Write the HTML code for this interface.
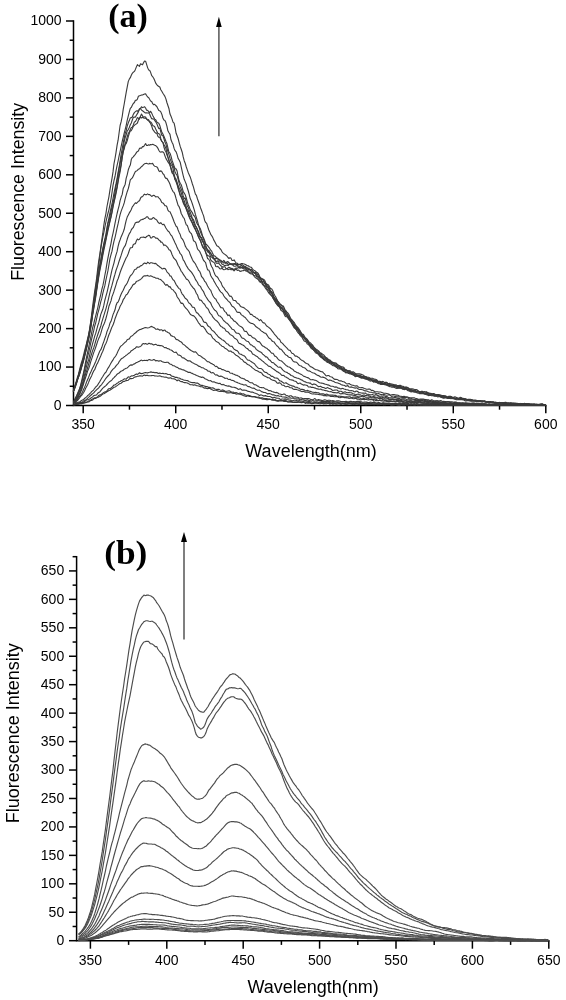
<!DOCTYPE html>
<html><head><meta charset="utf-8"><style>
html,body{margin:0;padding:0;background:#fff;}
body{width:566px;height:1000px;overflow:hidden;}
svg{display:block;will-change:transform;}
</style></head><body>
<svg width="566" height="1000" viewBox="0 0 566 1000">
<line x1="73.5" y1="20.25" x2="73.5" y2="405.50" stroke="#000" stroke-width="1.5" fill="none"/>
<line x1="72.75" y1="405.50" x2="546.55" y2="405.50" stroke="#000" stroke-width="1.5" fill="none"/>
<line x1="66.00" y1="405.50" x2="73.5" y2="405.50" stroke="#000" stroke-width="1.5" fill="none"/>
<text x="61.6" y="409.90" text-anchor="end" font-size="14" font-family='"Liberation Sans", sans-serif'>0</text>
<line x1="69.70" y1="386.27" x2="73.5" y2="386.27" stroke="#000" stroke-width="1.5" fill="none"/>
<line x1="66.00" y1="367.05" x2="73.5" y2="367.05" stroke="#000" stroke-width="1.5" fill="none"/>
<text x="61.6" y="371.45" text-anchor="end" font-size="14" font-family='"Liberation Sans", sans-serif'>100</text>
<line x1="69.70" y1="347.82" x2="73.5" y2="347.82" stroke="#000" stroke-width="1.5" fill="none"/>
<line x1="66.00" y1="328.60" x2="73.5" y2="328.60" stroke="#000" stroke-width="1.5" fill="none"/>
<text x="61.6" y="333.00" text-anchor="end" font-size="14" font-family='"Liberation Sans", sans-serif'>200</text>
<line x1="69.70" y1="309.38" x2="73.5" y2="309.38" stroke="#000" stroke-width="1.5" fill="none"/>
<line x1="66.00" y1="290.15" x2="73.5" y2="290.15" stroke="#000" stroke-width="1.5" fill="none"/>
<text x="61.6" y="294.55" text-anchor="end" font-size="14" font-family='"Liberation Sans", sans-serif'>300</text>
<line x1="69.70" y1="270.92" x2="73.5" y2="270.92" stroke="#000" stroke-width="1.5" fill="none"/>
<line x1="66.00" y1="251.70" x2="73.5" y2="251.70" stroke="#000" stroke-width="1.5" fill="none"/>
<text x="61.6" y="256.10" text-anchor="end" font-size="14" font-family='"Liberation Sans", sans-serif'>400</text>
<line x1="69.70" y1="232.47" x2="73.5" y2="232.47" stroke="#000" stroke-width="1.5" fill="none"/>
<line x1="66.00" y1="213.25" x2="73.5" y2="213.25" stroke="#000" stroke-width="1.5" fill="none"/>
<text x="61.6" y="217.65" text-anchor="end" font-size="14" font-family='"Liberation Sans", sans-serif'>500</text>
<line x1="69.70" y1="194.03" x2="73.5" y2="194.03" stroke="#000" stroke-width="1.5" fill="none"/>
<line x1="66.00" y1="174.80" x2="73.5" y2="174.80" stroke="#000" stroke-width="1.5" fill="none"/>
<text x="61.6" y="179.20" text-anchor="end" font-size="14" font-family='"Liberation Sans", sans-serif'>600</text>
<line x1="69.70" y1="155.57" x2="73.5" y2="155.57" stroke="#000" stroke-width="1.5" fill="none"/>
<line x1="66.00" y1="136.35" x2="73.5" y2="136.35" stroke="#000" stroke-width="1.5" fill="none"/>
<text x="61.6" y="140.75" text-anchor="end" font-size="14" font-family='"Liberation Sans", sans-serif'>700</text>
<line x1="69.70" y1="117.12" x2="73.5" y2="117.12" stroke="#000" stroke-width="1.5" fill="none"/>
<line x1="66.00" y1="97.90" x2="73.5" y2="97.90" stroke="#000" stroke-width="1.5" fill="none"/>
<text x="61.6" y="102.30" text-anchor="end" font-size="14" font-family='"Liberation Sans", sans-serif'>800</text>
<line x1="69.70" y1="78.68" x2="73.5" y2="78.68" stroke="#000" stroke-width="1.5" fill="none"/>
<line x1="66.00" y1="59.45" x2="73.5" y2="59.45" stroke="#000" stroke-width="1.5" fill="none"/>
<text x="61.6" y="63.85" text-anchor="end" font-size="14" font-family='"Liberation Sans", sans-serif'>900</text>
<line x1="69.70" y1="40.22" x2="73.5" y2="40.22" stroke="#000" stroke-width="1.5" fill="none"/>
<line x1="66.00" y1="21.00" x2="73.5" y2="21.00" stroke="#000" stroke-width="1.5" fill="none"/>
<text x="61.6" y="25.40" text-anchor="end" font-size="14" font-family='"Liberation Sans", sans-serif'>1000</text>
<line x1="83.20" y1="405.50" x2="83.20" y2="413.30" stroke="#000" stroke-width="1.5" fill="none"/>
<text x="83.20" y="429.4" text-anchor="middle" font-size="14" font-family='"Liberation Sans", sans-serif'>350</text>
<line x1="129.46" y1="405.50" x2="129.46" y2="409.70" stroke="#000" stroke-width="1.5" fill="none"/>
<line x1="175.72" y1="405.50" x2="175.72" y2="413.30" stroke="#000" stroke-width="1.5" fill="none"/>
<text x="175.72" y="429.4" text-anchor="middle" font-size="14" font-family='"Liberation Sans", sans-serif'>400</text>
<line x1="221.98" y1="405.50" x2="221.98" y2="409.70" stroke="#000" stroke-width="1.5" fill="none"/>
<line x1="268.24" y1="405.50" x2="268.24" y2="413.30" stroke="#000" stroke-width="1.5" fill="none"/>
<text x="268.24" y="429.4" text-anchor="middle" font-size="14" font-family='"Liberation Sans", sans-serif'>450</text>
<line x1="314.50" y1="405.50" x2="314.50" y2="409.70" stroke="#000" stroke-width="1.5" fill="none"/>
<line x1="360.76" y1="405.50" x2="360.76" y2="413.30" stroke="#000" stroke-width="1.5" fill="none"/>
<text x="360.76" y="429.4" text-anchor="middle" font-size="14" font-family='"Liberation Sans", sans-serif'>500</text>
<line x1="407.02" y1="405.50" x2="407.02" y2="409.70" stroke="#000" stroke-width="1.5" fill="none"/>
<line x1="453.28" y1="405.50" x2="453.28" y2="413.30" stroke="#000" stroke-width="1.5" fill="none"/>
<text x="453.28" y="429.4" text-anchor="middle" font-size="14" font-family='"Liberation Sans", sans-serif'>550</text>
<line x1="499.54" y1="405.50" x2="499.54" y2="409.70" stroke="#000" stroke-width="1.5" fill="none"/>
<line x1="545.80" y1="405.50" x2="545.80" y2="413.30" stroke="#000" stroke-width="1.5" fill="none"/>
<text x="545.80" y="429.4" text-anchor="middle" font-size="14" font-family='"Liberation Sans", sans-serif'>600</text>
<text x="245.3" y="456.8" font-size="18" font-family='"Liberation Sans", sans-serif'>Wavelength(nm)</text>
<text transform="translate(23.9,280.8) rotate(-90)" font-size="17.8" font-family='"Liberation Sans", sans-serif'>Fluorescence Intensity</text>
<text x="108.3" y="26.5" font-size="33" transform="translate(108.3,0) scale(1.03,1) translate(-108.3,0)" font-weight="bold" font-family='"Liberation Serif", serif'>(a)</text>
<line x1="218.9" y1="26" x2="218.9" y2="136.3" stroke="#555" stroke-width="1.5"/>
<path d="M218.9 16.8 L221.7 27 L216.1 27 Z" fill="#000"/>
<line x1="76.6" y1="555.94" x2="76.6" y2="940.70" stroke="#000" stroke-width="1.5" fill="none"/>
<line x1="75.85" y1="940.70" x2="549.55" y2="940.70" stroke="#000" stroke-width="1.5" fill="none"/>
<line x1="69.00" y1="940.70" x2="76.6" y2="940.70" stroke="#000" stroke-width="1.5" fill="none"/>
<text x="64.2" y="945.10" text-anchor="end" font-size="14" font-family='"Liberation Sans", sans-serif'>0</text>
<line x1="72.60" y1="926.48" x2="76.6" y2="926.48" stroke="#000" stroke-width="1.5" fill="none"/>
<line x1="69.00" y1="912.25" x2="76.6" y2="912.25" stroke="#000" stroke-width="1.5" fill="none"/>
<text x="64.2" y="916.65" text-anchor="end" font-size="14" font-family='"Liberation Sans", sans-serif'>50</text>
<line x1="72.60" y1="898.03" x2="76.6" y2="898.03" stroke="#000" stroke-width="1.5" fill="none"/>
<line x1="69.00" y1="883.81" x2="76.6" y2="883.81" stroke="#000" stroke-width="1.5" fill="none"/>
<text x="64.2" y="888.21" text-anchor="end" font-size="14" font-family='"Liberation Sans", sans-serif'>100</text>
<line x1="72.60" y1="869.59" x2="76.6" y2="869.59" stroke="#000" stroke-width="1.5" fill="none"/>
<line x1="69.00" y1="855.37" x2="76.6" y2="855.37" stroke="#000" stroke-width="1.5" fill="none"/>
<text x="64.2" y="859.76" text-anchor="end" font-size="14" font-family='"Liberation Sans", sans-serif'>150</text>
<line x1="72.60" y1="841.14" x2="76.6" y2="841.14" stroke="#000" stroke-width="1.5" fill="none"/>
<line x1="69.00" y1="826.92" x2="76.6" y2="826.92" stroke="#000" stroke-width="1.5" fill="none"/>
<text x="64.2" y="831.32" text-anchor="end" font-size="14" font-family='"Liberation Sans", sans-serif'>200</text>
<line x1="72.60" y1="812.70" x2="76.6" y2="812.70" stroke="#000" stroke-width="1.5" fill="none"/>
<line x1="69.00" y1="798.48" x2="76.6" y2="798.48" stroke="#000" stroke-width="1.5" fill="none"/>
<text x="64.2" y="802.88" text-anchor="end" font-size="14" font-family='"Liberation Sans", sans-serif'>250</text>
<line x1="72.60" y1="784.25" x2="76.6" y2="784.25" stroke="#000" stroke-width="1.5" fill="none"/>
<line x1="69.00" y1="770.03" x2="76.6" y2="770.03" stroke="#000" stroke-width="1.5" fill="none"/>
<text x="64.2" y="774.43" text-anchor="end" font-size="14" font-family='"Liberation Sans", sans-serif'>300</text>
<line x1="72.60" y1="755.81" x2="76.6" y2="755.81" stroke="#000" stroke-width="1.5" fill="none"/>
<line x1="69.00" y1="741.59" x2="76.6" y2="741.59" stroke="#000" stroke-width="1.5" fill="none"/>
<text x="64.2" y="745.99" text-anchor="end" font-size="14" font-family='"Liberation Sans", sans-serif'>350</text>
<line x1="72.60" y1="727.36" x2="76.6" y2="727.36" stroke="#000" stroke-width="1.5" fill="none"/>
<line x1="69.00" y1="713.14" x2="76.6" y2="713.14" stroke="#000" stroke-width="1.5" fill="none"/>
<text x="64.2" y="717.54" text-anchor="end" font-size="14" font-family='"Liberation Sans", sans-serif'>400</text>
<line x1="72.60" y1="698.92" x2="76.6" y2="698.92" stroke="#000" stroke-width="1.5" fill="none"/>
<line x1="69.00" y1="684.70" x2="76.6" y2="684.70" stroke="#000" stroke-width="1.5" fill="none"/>
<text x="64.2" y="689.10" text-anchor="end" font-size="14" font-family='"Liberation Sans", sans-serif'>450</text>
<line x1="72.60" y1="670.47" x2="76.6" y2="670.47" stroke="#000" stroke-width="1.5" fill="none"/>
<line x1="69.00" y1="656.25" x2="76.6" y2="656.25" stroke="#000" stroke-width="1.5" fill="none"/>
<text x="64.2" y="660.65" text-anchor="end" font-size="14" font-family='"Liberation Sans", sans-serif'>500</text>
<line x1="72.60" y1="642.03" x2="76.6" y2="642.03" stroke="#000" stroke-width="1.5" fill="none"/>
<line x1="69.00" y1="627.81" x2="76.6" y2="627.81" stroke="#000" stroke-width="1.5" fill="none"/>
<text x="64.2" y="632.21" text-anchor="end" font-size="14" font-family='"Liberation Sans", sans-serif'>550</text>
<line x1="72.60" y1="613.58" x2="76.6" y2="613.58" stroke="#000" stroke-width="1.5" fill="none"/>
<line x1="69.00" y1="599.36" x2="76.6" y2="599.36" stroke="#000" stroke-width="1.5" fill="none"/>
<text x="64.2" y="603.76" text-anchor="end" font-size="14" font-family='"Liberation Sans", sans-serif'>600</text>
<line x1="72.60" y1="585.14" x2="76.6" y2="585.14" stroke="#000" stroke-width="1.5" fill="none"/>
<line x1="69.00" y1="570.92" x2="76.6" y2="570.92" stroke="#000" stroke-width="1.5" fill="none"/>
<text x="64.2" y="575.32" text-anchor="end" font-size="14" font-family='"Liberation Sans", sans-serif'>650</text>
<line x1="72.60" y1="556.69" x2="76.6" y2="556.69" stroke="#000" stroke-width="1.5" fill="none"/>
<line x1="90.40" y1="940.70" x2="90.40" y2="948.70" stroke="#000" stroke-width="1.5" fill="none"/>
<text x="90.40" y="964.8" text-anchor="middle" font-size="14" font-family='"Liberation Sans", sans-serif'>350</text>
<line x1="128.60" y1="940.70" x2="128.60" y2="944.90" stroke="#000" stroke-width="1.5" fill="none"/>
<line x1="166.80" y1="940.70" x2="166.80" y2="948.70" stroke="#000" stroke-width="1.5" fill="none"/>
<text x="166.80" y="964.8" text-anchor="middle" font-size="14" font-family='"Liberation Sans", sans-serif'>400</text>
<line x1="205.00" y1="940.70" x2="205.00" y2="944.90" stroke="#000" stroke-width="1.5" fill="none"/>
<line x1="243.20" y1="940.70" x2="243.20" y2="948.70" stroke="#000" stroke-width="1.5" fill="none"/>
<text x="243.20" y="964.8" text-anchor="middle" font-size="14" font-family='"Liberation Sans", sans-serif'>450</text>
<line x1="281.40" y1="940.70" x2="281.40" y2="944.90" stroke="#000" stroke-width="1.5" fill="none"/>
<line x1="319.60" y1="940.70" x2="319.60" y2="948.70" stroke="#000" stroke-width="1.5" fill="none"/>
<text x="319.60" y="964.8" text-anchor="middle" font-size="14" font-family='"Liberation Sans", sans-serif'>500</text>
<line x1="357.80" y1="940.70" x2="357.80" y2="944.90" stroke="#000" stroke-width="1.5" fill="none"/>
<line x1="396.00" y1="940.70" x2="396.00" y2="948.70" stroke="#000" stroke-width="1.5" fill="none"/>
<text x="396.00" y="964.8" text-anchor="middle" font-size="14" font-family='"Liberation Sans", sans-serif'>550</text>
<line x1="434.20" y1="940.70" x2="434.20" y2="944.90" stroke="#000" stroke-width="1.5" fill="none"/>
<line x1="472.40" y1="940.70" x2="472.40" y2="948.70" stroke="#000" stroke-width="1.5" fill="none"/>
<text x="472.40" y="964.8" text-anchor="middle" font-size="14" font-family='"Liberation Sans", sans-serif'>600</text>
<line x1="510.60" y1="940.70" x2="510.60" y2="944.90" stroke="#000" stroke-width="1.5" fill="none"/>
<line x1="548.80" y1="940.70" x2="548.80" y2="948.70" stroke="#000" stroke-width="1.5" fill="none"/>
<text x="548.80" y="964.8" text-anchor="middle" font-size="14" font-family='"Liberation Sans", sans-serif'>650</text>
<text x="247.4" y="992.6" font-size="18" font-family='"Liberation Sans", sans-serif'>Wavelength(nm)</text>
<text transform="translate(18.8,823.3) rotate(-90)" font-size="18" font-family='"Liberation Sans", sans-serif'>Fluorescence Intensity</text>
<text x="104.2" y="564" font-size="33" transform="translate(104.2,0) scale(1.07,1) translate(-104.2,0)" font-weight="bold" font-family='"Liberation Serif", serif'>(b)</text>
<line x1="184" y1="540" x2="184" y2="639.6" stroke="#555" stroke-width="1.5"/>
<path d="M184 532 L187 542 L181 542 Z" fill="#000"/>
<g fill="none" stroke="#3a3a3a" stroke-width="1.12" stroke-linejoin="round"><path d="M73.3 391.3 74.3 388.2 75.3 384.8 76.4 380.8 77.4 377.5 78.4 374.4 79.4 370.5 80.4 366.4 81.4 362.7 82.5 359.3 83.5 355.5 84.5 351.1 85.5 347.5 86.5 343.6 87.5 339.2 88.6 334.6 89.6 329.2 90.6 322.4 91.6 314.7 92.6 306.6 93.7 298.3 94.7 291.2 95.7 284.9 96.7 277.6 97.7 268.9 98.7 261.0 99.8 254.3 100.8 247.4 101.8 239.9 102.8 233.2 103.8 225.3 104.8 218.9 105.9 213.6 106.9 207.0 107.9 201.8 108.9 196.8 109.9 190.4 111.0 184.0 112.0 178.4 113.0 171.9 114.0 163.6 115.0 158.5 116.0 152.6 117.1 145.2 118.1 140.2 119.1 132.7 120.1 125.5 121.1 121.9 122.2 116.5 123.2 109.4 124.2 104.0 125.2 98.2 126.2 92.4 127.2 87.2 128.3 81.4 129.3 79.1 130.3 77.7 131.3 75.2 132.3 73.3 133.3 72.2 134.4 71.4 135.4 69.4 136.4 66.9 137.4 64.6 138.4 65.6 139.5 66.4 140.5 63.8 141.5 64.2 142.5 64.8 143.5 62.7 144.5 61.1 145.6 61.2 146.6 64.4 147.6 67.6 148.6 69.9 149.6 70.3 150.6 72.3 151.7 75.7 152.7 76.7 153.7 78.2 154.7 80.5 155.7 83.1 156.8 84.6 157.8 85.8 158.8 86.4 159.8 87.0 160.8 89.7 161.8 91.3 162.9 93.2 163.9 94.7 164.9 96.4 165.9 98.9 166.9 102.5 167.9 105.5 169.0 108.8 170.0 114.1 171.0 116.3 172.0 118.9 173.0 122.1 174.1 123.2 175.1 127.6 176.1 133.3 177.1 135.8 178.1 138.5 179.1 142.3 180.2 146.4 181.2 149.2 182.2 152.2 183.2 156.9 184.2 160.7 185.2 163.2 186.3 167.0 187.3 169.9 188.3 172.7 189.3 175.1 190.3 177.2 191.4 180.6 192.4 184.0 193.4 186.9 194.4 190.6 195.4 194.1 196.4 195.4 197.5 199.0 198.5 201.7 199.5 204.5 200.5 207.7 201.5 210.3 202.6 213.4 203.6 215.9 204.6 220.2 205.6 222.4 206.6 223.2 207.6 226.4 208.7 229.7 209.7 231.9 210.7 234.3 211.7 235.7 212.7 237.4 213.7 239.9 214.8 241.8 215.8 243.8 216.8 245.7 217.8 246.2 218.8 247.0 219.9 248.5 220.9 249.6 221.9 251.6 222.9 252.8 223.9 253.7 224.9 254.4 226.0 255.2 227.0 256.2 228.0 257.5 229.0 258.5 230.0 257.6 231.0 258.3 232.1 260.4 233.1 260.5 234.1 259.9 235.1 261.5 236.1 263.0 237.2 263.2 238.2 264.6 239.2 264.5 240.2 264.2 241.2 265.2 242.2 266.2 243.3 266.7 244.3 267.2 245.3 268.1 246.3 269.0 247.3 270.1 248.3 269.4 249.4 269.6 250.4 270.6 251.4 270.9 252.4 271.9 253.4 272.8 254.5 273.1 255.5 273.9 256.5 275.2 257.5 276.1 258.5 276.5 259.5 277.4 260.6 278.9 261.6 280.6 262.6 282.6 263.6 283.0 264.6 283.2 265.6 284.9 266.7 286.4 267.7 287.3 268.7 288.5 269.7 289.9 270.7 291.9 271.8 293.2 272.8 295.3 273.8 297.2 274.8 298.2 275.8 299.9 276.8 300.9 277.9 302.1 278.9 304.7 279.9 307.2 280.9 307.5 281.9 308.3 283.0 309.8 284.0 310.4 285.0 312.3 286.0 314.9 287.0 315.5 288.0 316.1 289.1 317.8 290.1 319.3 291.1 321.0 292.1 323.0 293.1 324.2 294.1 325.4 295.2 327.4 296.2 328.2 297.2 328.9 298.2 330.2 299.2 331.9 300.3 333.6 301.3 334.8 302.3 336.2 303.3 337.0 304.3 338.2 305.3 339.4 306.4 340.2 307.4 340.8 308.4 342.5 309.4 344.0 310.4 344.7 311.4 346.1 312.5 347.6 313.5 348.8 314.5 349.2 315.5 350.1 316.5 351.3 317.6 352.4 318.6 353.0 319.6 353.8 320.6 355.8 321.6 356.8 322.6 357.6 323.7 359.2 324.7 359.4 325.7 358.8 326.7 359.3 327.7 360.7 328.7 361.7 329.8 361.6 330.8 361.9 331.8 362.8 332.8 363.5 333.8 364.1 334.9 364.4 335.9 364.9 336.9 365.6 337.9 366.6 338.9 367.1 339.9 367.6 341.0 368.0 342.0 368.7 343.0 369.6 344.0 369.8 345.0 370.7 346.0 370.7 347.1 370.4 348.1 371.5 349.1 372.1 350.1 372.3 351.1 373.7 352.2 374.1 353.2 373.8 354.2 374.2 355.2 374.8 356.2 375.2 357.2 375.3 358.3 375.3 359.3 375.5 360.3 376.1 361.3 376.1 362.3 376.6 363.4 377.5 364.4 378.2 365.4 378.0 366.4 377.6 367.4 378.1 368.4 378.5 369.5 379.0 370.5 379.5 371.5 379.9 372.5 380.3 373.5 380.5 374.5 380.4 375.6 380.6 376.6 381.3 377.6 381.9 378.6 382.3 379.6 382.0 380.7 382.0 381.7 382.7 382.7 383.1 383.7 383.7 384.7 383.9 385.7 383.7 386.8 384.0 387.8 384.5 388.8 384.7 389.8 384.9 390.8 385.5 391.8 385.8 392.9 385.9 393.9 385.8 394.9 386.0 395.9 386.3 396.9 386.0 398.0 386.4 399.0 387.2 400.0 387.3 401.0 387.4 402.0 387.9 403.0 388.1 404.1 387.6 405.1 388.0 406.1 388.8 407.1 389.3 408.1 389.5 409.1 389.8 410.2 390.4 411.2 390.1 412.2 390.3 413.2 390.6 414.2 390.3 415.3 390.7 416.3 391.2 417.3 391.0 418.3 391.4 419.3 392.3 420.3 392.8 421.4 392.8 422.4 392.4 423.4 392.4 424.4 393.2 425.4 393.8 426.4 393.9 427.5 393.8 428.5 393.9 429.5 394.2 430.5 394.2 431.5 394.5 432.6 394.8 433.6 394.9 434.6 395.1 435.6 395.2 436.6 394.9 437.6 395.1 438.7 395.6 439.7 396.3 440.7 396.4 441.7 396.6 442.7 397.2 443.8 396.7 444.8 396.4 445.8 396.8 446.8 397.5 447.8 397.7 448.8 397.6 449.9 397.5 450.9 397.0 451.9 397.3 452.9 398.1 453.9 398.5 454.9 398.5 456.0 398.4 457.0 398.8 458.0 398.9 459.0 399.0 460.0 398.9 461.1 398.6 462.1 398.7 463.1 399.2 464.1 399.4 465.1 399.5 466.1 399.8 467.2 400.0 468.2 400.3 469.2 400.6 470.2 400.3 471.2 400.1 472.2 400.4 473.3 400.2 474.3 400.7 475.3 401.2 476.3 400.9 477.3 400.8 478.4 401.0 479.4 401.0 480.4 400.9 481.4 401.5 482.4 401.9 483.4 401.5 484.5 401.3 485.5 402.0 486.5 401.9 487.5 401.5 488.5 401.6 489.5 401.9 490.6 402.3 491.6 402.5 492.6 402.0 493.6 401.9 494.6 402.2 495.7 402.4 496.7 402.7 497.7 403.0 498.7 403.2 499.7 402.7 500.7 402.9 501.8 403.0 502.8 402.7 503.8 403.2 504.8 403.4 505.8 403.4 506.8 403.3 507.9 403.4 508.9 403.6 509.9 403.6 510.9 403.7 511.9 404.0 513.0 403.8 514.0 403.4 515.0 403.8 516.0 404.0 517.0 403.9 518.0 404.2 519.1 403.9 520.1 403.9 521.1 403.8 522.1 403.9 523.1 404.1 524.2 404.1 525.2 404.4 526.2 404.2 527.2 404.1 528.2 404.2 529.2 404.2 530.3 404.6 531.3 404.6 532.3 404.4 533.3 404.2 534.3 404.5 535.3 404.7 536.4 404.9 537.4 404.8 538.4 404.7 539.4 405.2 540.4 405.0 541.5 404.4 542.5 404.8 543.5 405.2 544.5 405.1 545.5 405.1"/><path d="M73.3 391.7 74.3 388.2 75.3 384.8 76.4 382.1 77.4 378.8 78.4 375.5 79.4 372.0 80.4 367.9 81.4 364.5 82.5 361.8 83.5 358.0 84.5 354.0 85.5 349.4 86.5 344.3 87.5 340.3 88.6 336.1 89.6 330.7 90.6 323.5 91.6 317.5 92.6 310.5 93.7 302.6 94.7 295.2 95.7 287.7 96.7 280.6 97.7 273.1 98.7 265.7 99.8 256.7 100.8 248.5 101.8 242.6 102.8 237.3 103.8 232.6 104.8 227.5 105.9 222.0 106.9 217.6 107.9 213.5 108.9 209.8 109.9 204.9 111.0 199.0 112.0 192.5 113.0 185.4 114.0 180.5 115.0 176.5 116.0 170.8 117.1 165.4 118.1 161.0 119.1 155.9 120.1 151.5 121.1 146.6 122.2 141.5 123.2 137.4 124.2 133.1 125.2 129.3 126.2 125.3 127.2 120.4 128.3 115.8 129.3 111.8 130.3 108.4 131.3 107.4 132.3 105.3 133.3 103.5 134.4 102.5 135.4 100.2 136.4 100.3 137.4 99.1 138.4 96.3 139.5 95.7 140.5 95.5 141.5 95.0 142.5 95.0 143.5 94.5 144.5 94.0 145.6 93.9 146.6 95.5 147.6 96.9 148.6 97.4 149.6 99.3 150.6 101.1 151.7 101.6 152.7 103.7 153.7 104.8 154.7 104.3 155.7 105.5 156.8 106.5 157.8 108.5 158.8 110.4 159.8 110.8 160.8 111.9 161.8 114.2 162.9 118.0 163.9 120.0 164.9 120.4 165.9 122.6 166.9 126.1 167.9 130.8 169.0 132.8 170.0 134.4 171.0 139.8 172.0 142.2 173.0 144.2 174.1 148.4 175.1 150.7 176.1 151.8 177.1 154.6 178.1 158.4 179.1 160.0 180.2 162.2 181.2 166.8 182.2 171.4 183.2 175.6 184.2 179.3 185.2 181.6 186.3 184.3 187.3 188.0 188.3 191.0 189.3 194.9 190.3 198.8 191.4 201.1 192.4 204.0 193.4 207.1 194.4 210.4 195.4 214.4 196.4 217.6 197.5 221.1 198.5 225.2 199.5 227.2 200.5 229.1 201.5 232.2 202.6 236.1 203.6 239.4 204.6 241.7 205.6 244.7 206.6 248.1 207.6 250.1 208.7 250.4 209.7 251.5 210.7 253.6 211.7 255.0 212.7 255.4 213.7 257.8 214.8 259.2 215.8 258.3 216.8 258.6 217.8 258.7 218.8 259.0 219.9 260.3 220.9 261.2 221.9 261.4 222.9 262.3 223.9 263.1 224.9 262.7 226.0 262.1 227.0 262.9 228.0 264.3 229.0 264.4 230.0 264.0 231.0 264.4 232.1 264.6 233.1 265.3 234.1 266.3 235.1 266.2 236.1 265.9 237.2 265.5 238.2 266.8 239.2 267.9 240.2 267.1 241.2 267.1 242.2 268.2 243.3 267.5 244.3 266.7 245.3 267.3 246.3 268.1 247.3 268.3 248.3 268.7 249.4 269.3 250.4 270.2 251.4 271.8 252.4 272.0 253.4 272.6 254.5 273.1 255.5 273.6 256.5 275.3 257.5 276.4 258.5 277.2 259.5 278.0 260.6 279.2 261.6 281.0 262.6 281.3 263.6 281.2 264.6 282.1 265.6 284.3 266.7 286.5 267.7 287.1 268.7 288.6 269.7 291.2 270.7 292.5 271.8 293.5 272.8 295.5 273.8 298.2 274.8 300.1 275.8 300.8 276.8 302.1 277.9 303.9 278.9 304.8 279.9 305.7 280.9 307.0 281.9 308.2 283.0 309.6 284.0 311.2 285.0 312.6 286.0 313.4 287.0 314.4 288.0 316.5 289.1 318.1 290.1 319.4 291.1 320.5 292.1 322.4 293.1 324.6 294.1 325.5 295.2 325.6 296.2 326.4 297.2 328.7 298.2 330.1 299.2 330.7 300.3 332.3 301.3 334.5 302.3 335.2 303.3 336.2 304.3 337.6 305.3 339.2 306.4 339.9 307.4 340.4 308.4 342.0 309.4 343.4 310.4 345.4 311.4 346.5 312.5 347.0 313.5 348.1 314.5 348.9 315.5 350.2 316.5 352.0 317.6 352.7 318.6 353.4 319.6 354.5 320.6 355.4 321.6 356.2 322.6 357.6 323.7 357.9 324.7 357.8 325.7 358.6 326.7 358.8 327.7 359.8 328.7 361.6 329.8 362.5 330.8 362.9 331.8 363.4 332.8 363.6 333.8 364.6 334.9 365.2 335.9 365.6 336.9 366.2 337.9 366.4 338.9 367.1 339.9 367.7 341.0 368.3 342.0 369.0 343.0 369.9 344.0 370.2 345.0 369.8 346.0 369.7 347.1 370.4 348.1 371.2 349.1 372.2 350.1 372.4 351.1 372.7 352.2 373.5 353.2 373.9 354.2 374.2 355.2 374.6 356.2 375.0 357.2 375.5 358.3 376.0 359.3 375.4 360.3 375.6 361.3 376.6 362.3 376.8 363.4 376.9 364.4 377.7 365.4 378.3 366.4 378.1 367.4 378.3 368.4 378.8 369.5 378.8 370.5 379.3 371.5 380.0 372.5 380.3 373.5 380.3 374.5 380.9 375.6 381.8 376.6 381.7 377.6 381.7 378.6 381.7 379.6 381.7 380.7 382.6 381.7 383.0 382.7 383.0 383.7 383.6 384.7 383.6 385.7 384.0 386.8 384.9 387.8 385.0 388.8 385.1 389.8 385.4 390.8 385.2 391.8 385.2 392.9 385.1 393.9 385.5 394.9 386.5 395.9 386.8 396.9 386.9 398.0 387.3 399.0 387.2 400.0 387.2 401.0 388.1 402.0 388.0 403.0 387.8 404.1 388.1 405.1 388.3 406.1 388.6 407.1 388.8 408.1 389.0 409.1 389.2 410.2 389.7 411.2 389.9 412.2 390.6 413.2 391.1 414.2 391.0 415.3 391.2 416.3 391.7 417.3 391.6 418.3 391.4 419.3 392.3 420.3 393.0 421.4 393.0 422.4 392.8 423.4 393.1 424.4 393.3 425.4 393.5 426.4 393.6 427.5 393.8 428.5 394.1 429.5 393.9 430.5 393.5 431.5 394.2 432.6 395.1 433.6 395.2 434.6 395.1 435.6 395.3 436.6 395.8 437.6 395.7 438.7 396.0 439.7 396.4 440.7 396.4 441.7 396.9 442.7 397.2 443.8 397.0 444.8 396.8 445.8 396.9 446.8 397.5 447.8 397.7 448.8 397.3 449.9 397.2 450.9 397.6 451.9 398.0 452.9 398.0 453.9 398.1 454.9 398.6 456.0 398.8 457.0 398.4 458.0 398.3 459.0 398.5 460.0 398.8 461.1 398.9 462.1 399.1 463.1 399.5 464.1 398.9 465.1 398.8 466.1 399.6 467.2 399.9 468.2 399.9 469.2 399.7 470.2 400.0 471.2 400.7 472.2 400.8 473.3 400.5 474.3 400.5 475.3 400.4 476.3 400.4 477.3 400.6 478.4 401.1 479.4 401.2 480.4 400.6 481.4 400.7 482.4 401.2 483.4 401.4 484.5 401.2 485.5 401.5 486.5 402.0 487.5 401.8 488.5 401.7 489.5 402.0 490.6 402.2 491.6 402.2 492.6 402.4 493.6 402.4 494.6 402.8 495.7 402.8 496.7 402.4 497.7 402.7 498.7 403.0 499.7 402.7 500.7 403.0 501.8 403.1 502.8 403.2 503.8 403.0 504.8 402.4 505.8 402.3 506.8 402.8 507.9 403.2 508.9 403.2 509.9 403.4 510.9 403.1 511.9 403.5 513.0 403.6 514.0 403.4 515.0 403.4 516.0 403.4 517.0 403.9 518.0 403.9 519.1 403.7 520.1 403.8 521.1 403.9 522.1 404.0 523.1 404.6 524.2 404.4 525.2 403.8 526.2 404.0 527.2 404.2 528.2 404.0 529.2 404.2 530.3 404.6 531.3 404.6 532.3 404.2 533.3 404.5 534.3 404.5 535.3 404.4 536.4 404.9 537.4 404.5 538.4 404.4 539.4 404.9 540.4 405.0 541.5 404.5 542.5 404.2 543.5 404.5 544.5 404.7 545.5 404.5"/><path d="M73.3 391.1 74.3 388.2 75.3 385.4 76.4 382.5 77.4 379.3 78.4 376.1 79.4 372.5 80.4 369.5 81.4 366.3 82.5 362.5 83.5 358.3 84.5 353.6 85.5 350.6 86.5 347.0 87.5 341.5 88.6 335.9 89.6 330.6 90.6 325.0 91.6 318.5 92.6 311.4 93.7 304.8 94.7 298.1 95.7 292.4 96.7 285.8 97.7 278.6 98.7 271.8 99.8 265.0 100.8 259.8 101.8 253.7 102.8 248.3 103.8 243.9 104.8 239.3 105.9 234.0 106.9 228.0 107.9 222.6 108.9 218.2 109.9 213.2 111.0 208.2 112.0 204.0 113.0 198.7 114.0 193.0 115.0 188.4 116.0 183.9 117.1 178.3 118.1 172.4 119.1 167.3 120.1 160.9 121.1 154.5 122.2 148.6 123.2 143.0 124.2 138.2 125.2 133.4 126.2 130.5 127.2 126.2 128.3 122.8 129.3 120.6 130.3 117.9 131.3 117.8 132.3 117.0 133.3 114.4 134.4 112.6 135.4 111.7 136.4 110.8 137.4 111.3 138.4 110.2 139.5 109.7 140.5 108.5 141.5 106.8 142.5 107.6 143.5 107.2 144.5 106.7 145.6 108.0 146.6 110.2 147.6 110.4 148.6 111.4 149.6 112.6 150.6 111.3 151.7 113.1 152.7 115.4 153.7 117.2 154.7 119.1 155.7 119.8 156.8 121.8 157.8 122.8 158.8 123.2 159.8 125.4 160.8 128.8 161.8 132.0 162.9 134.1 163.9 136.2 164.9 138.7 165.9 141.3 166.9 143.5 167.9 147.9 169.0 152.3 170.0 153.1 171.0 156.1 172.0 160.2 173.0 162.9 174.1 166.1 175.1 168.7 176.1 168.9 177.1 171.1 178.1 176.5 179.1 180.8 180.2 183.2 181.2 184.7 182.2 187.8 183.2 191.6 184.2 193.1 185.2 194.7 186.3 198.0 187.3 201.8 188.3 205.0 189.3 207.1 190.3 209.9 191.4 211.4 192.4 212.8 193.4 215.2 194.4 216.0 195.4 217.9 196.4 222.0 197.5 224.5 198.5 225.5 199.5 228.7 200.5 232.2 201.5 234.1 202.6 236.7 203.6 237.9 204.6 240.4 205.6 243.8 206.6 244.5 207.6 245.7 208.7 247.1 209.7 248.4 210.7 250.2 211.7 251.2 212.7 253.6 213.7 255.5 214.8 256.0 215.8 257.0 216.8 257.5 217.8 258.8 218.8 260.1 219.9 260.0 220.9 260.2 221.9 261.7 222.9 261.4 223.9 260.3 224.9 262.5 226.0 263.7 227.0 261.8 228.0 261.6 229.0 262.8 230.0 263.4 231.0 263.8 232.1 263.9 233.1 263.9 234.1 263.5 235.1 263.5 236.1 264.1 237.2 264.6 238.2 264.4 239.2 264.4 240.2 264.5 241.2 263.6 242.2 263.5 243.3 263.8 244.3 264.0 245.3 264.5 246.3 265.1 247.3 265.7 248.3 265.8 249.4 266.7 250.4 267.1 251.4 267.2 252.4 268.9 253.4 269.9 254.5 270.6 255.5 271.2 256.5 272.2 257.5 272.7 258.5 273.9 259.5 276.6 260.6 277.7 261.6 278.7 262.6 279.5 263.6 279.3 264.6 280.2 265.6 282.5 266.7 284.5 267.7 284.4 268.7 285.2 269.7 287.4 270.7 288.6 271.8 289.1 272.8 290.7 273.8 293.5 274.8 295.6 275.8 297.1 276.8 299.2 277.9 301.4 278.9 302.4 279.9 303.6 280.9 304.8 281.9 305.5 283.0 305.7 284.0 307.4 285.0 309.8 286.0 310.9 287.0 312.1 288.0 313.1 289.1 314.9 290.1 317.2 291.1 319.1 292.1 320.6 293.1 321.3 294.1 322.3 295.2 324.3 296.2 325.9 297.2 326.8 298.2 327.8 299.2 329.4 300.3 331.0 301.3 332.7 302.3 334.3 303.3 334.4 304.3 336.0 305.3 338.0 306.4 338.3 307.4 339.5 308.4 341.1 309.4 342.1 310.4 342.9 311.4 344.0 312.5 345.8 313.5 346.9 314.5 347.6 315.5 348.8 316.5 349.5 317.6 350.1 318.6 350.9 319.6 352.2 320.6 353.1 321.6 353.4 322.6 354.2 323.7 354.9 324.7 356.1 325.7 357.3 326.7 357.7 327.7 358.8 328.7 359.6 329.8 360.0 330.8 360.8 331.8 361.8 332.8 362.6 333.8 362.7 334.9 362.7 335.9 363.0 336.9 363.9 337.9 364.8 338.9 365.6 339.9 366.1 341.0 366.5 342.0 367.0 343.0 366.9 344.0 367.7 345.0 369.1 346.0 369.9 347.1 370.4 348.1 370.9 349.1 370.6 350.1 370.7 351.1 371.9 352.2 372.1 353.2 371.8 354.2 372.4 355.2 373.3 356.2 373.7 357.2 373.7 358.3 373.8 359.3 373.9 360.3 374.1 361.3 374.4 362.3 374.7 363.4 375.2 364.4 376.4 365.4 376.9 366.4 376.8 367.4 377.2 368.4 377.3 369.5 377.7 370.5 378.5 371.5 378.3 372.5 378.2 373.5 378.9 374.5 379.1 375.6 379.2 376.6 379.7 377.6 380.9 378.6 381.4 379.6 381.2 380.7 381.6 381.7 381.7 382.7 381.4 383.7 381.8 384.7 382.7 385.7 382.3 386.8 382.4 387.8 383.5 388.8 383.6 389.8 383.4 390.8 383.9 391.8 384.0 392.9 384.2 393.9 384.9 394.9 384.9 395.9 384.8 396.9 385.2 398.0 385.5 399.0 385.6 400.0 385.3 401.0 385.6 402.0 386.3 403.0 386.3 404.1 387.0 405.1 387.1 406.1 387.1 407.1 387.2 408.1 387.7 409.1 388.4 410.2 388.9 411.2 388.9 412.2 388.9 413.2 389.0 414.2 389.3 415.3 389.6 416.3 389.6 417.3 390.0 418.3 391.0 419.3 391.5 420.3 391.8 421.4 391.3 422.4 391.4 423.4 391.7 424.4 391.6 425.4 391.7 426.4 391.8 427.5 392.4 428.5 392.9 429.5 393.1 430.5 393.2 431.5 393.5 432.6 393.8 433.6 393.5 434.6 394.1 435.6 394.6 436.6 394.6 437.6 394.8 438.7 394.6 439.7 394.8 440.7 395.0 441.7 395.5 442.7 395.6 443.8 395.6 444.8 395.8 445.8 395.8 446.8 396.7 447.8 397.1 448.8 396.6 449.9 396.3 450.9 396.4 451.9 396.9 452.9 397.4 453.9 397.3 454.9 396.7 456.0 397.2 457.0 397.8 458.0 398.3 459.0 398.2 460.0 397.4 461.1 397.6 462.1 398.1 463.1 398.3 464.1 398.9 465.1 398.9 466.1 399.1 467.2 399.5 468.2 399.3 469.2 399.2 470.2 399.3 471.2 399.6 472.2 399.9 473.3 400.4 474.3 400.4 475.3 400.4 476.3 400.8 477.3 401.0 478.4 401.0 479.4 401.2 480.4 401.5 481.4 401.6 482.4 401.4 483.4 401.0 484.5 400.8 485.5 401.3 486.5 402.0 487.5 401.6 488.5 401.6 489.5 401.9 490.6 401.6 491.6 401.7 492.6 402.4 493.6 402.7 494.6 402.5 495.7 402.2 496.7 402.7 497.7 403.0 498.7 402.7 499.7 402.4 500.7 402.8 501.8 402.8 502.8 402.6 503.8 403.2 504.8 403.5 505.8 403.1 506.8 403.2 507.9 403.8 508.9 403.8 509.9 403.2 510.9 402.9 511.9 403.6 513.0 403.4 514.0 403.3 515.0 403.7 516.0 403.2 517.0 403.3 518.0 403.6 519.1 404.1 520.1 404.0 521.1 404.0 522.1 404.7 523.1 404.0 524.2 403.4 525.2 403.6 526.2 404.0 527.2 404.1 528.2 403.6 529.2 403.7 530.3 404.0 531.3 404.6 532.3 404.7 533.3 405.0 534.3 405.3 535.3 404.9 536.4 404.7 537.4 404.8 538.4 404.7 539.4 404.2 540.4 404.0 541.5 404.4 542.5 404.4 543.5 404.6 544.5 404.9 545.5 404.6"/><path d="M73.3 391.6 74.3 389.2 75.3 385.9 76.4 382.2 77.4 379.4 78.4 377.1 79.4 373.8 80.4 370.3 81.4 366.7 82.5 362.9 83.5 359.3 84.5 355.2 85.5 351.3 86.5 347.2 87.5 343.0 88.6 338.2 89.6 332.9 90.6 327.0 91.6 320.3 92.6 313.5 93.7 306.3 94.7 300.5 95.7 294.4 96.7 287.6 97.7 280.3 98.7 272.5 99.8 266.1 100.8 261.1 101.8 255.0 102.8 250.3 103.8 245.2 104.8 239.8 105.9 237.4 106.9 230.9 107.9 223.6 108.9 221.0 109.9 217.0 111.0 211.7 112.0 206.9 113.0 202.8 114.0 198.4 115.0 192.1 116.0 186.2 117.1 180.3 118.1 174.8 119.1 168.4 120.1 163.3 121.1 158.8 122.2 153.5 123.2 148.8 124.2 141.5 125.2 137.5 126.2 134.7 127.2 131.0 128.3 129.6 129.3 127.4 130.3 124.8 131.3 122.9 132.3 120.0 133.3 117.4 134.4 117.0 135.4 117.1 136.4 115.3 137.4 113.6 138.4 111.9 139.5 108.8 140.5 108.3 141.5 110.1 142.5 110.8 143.5 111.5 144.5 112.4 145.6 112.9 146.6 112.9 147.6 113.0 148.6 112.8 149.6 114.0 150.6 116.5 151.7 118.8 152.7 118.9 153.7 119.0 154.7 120.4 155.7 121.8 156.8 123.7 157.8 126.2 158.8 128.6 159.8 128.2 160.8 131.8 161.8 135.3 162.9 135.5 163.9 138.6 164.9 142.0 165.9 144.1 166.9 148.0 167.9 151.6 169.0 154.6 170.0 158.4 171.0 161.1 172.0 163.6 173.0 165.8 174.1 168.2 175.1 172.3 176.1 174.1 177.1 175.3 178.1 179.2 179.1 183.2 180.2 186.7 181.2 189.0 182.2 191.6 183.2 195.9 184.2 198.4 185.2 198.0 186.3 202.4 187.3 206.2 188.3 207.3 189.3 210.6 190.3 212.4 191.4 215.5 192.4 218.7 193.4 219.5 194.4 222.1 195.4 225.5 196.4 227.7 197.5 230.1 198.5 231.6 199.5 234.2 200.5 237.0 201.5 239.4 202.6 241.8 203.6 243.3 204.6 247.2 205.6 249.1 206.6 250.1 207.6 252.0 208.7 252.2 209.7 254.1 210.7 257.0 211.7 257.0 212.7 257.8 213.7 259.0 214.8 260.0 215.8 262.3 216.8 263.4 217.8 263.0 218.8 263.3 219.9 264.7 220.9 265.8 221.9 266.5 222.9 267.3 223.9 266.7 224.9 266.7 226.0 268.5 227.0 268.8 228.0 267.9 229.0 267.3 230.0 267.8 231.0 268.5 232.1 268.4 233.1 269.0 234.1 269.7 235.1 268.5 236.1 268.1 237.2 268.4 238.2 267.6 239.2 267.5 240.2 268.2 241.2 267.6 242.2 267.4 243.3 268.7 244.3 268.9 245.3 268.7 246.3 269.9 247.3 270.5 248.3 270.7 249.4 272.3 250.4 272.9 251.4 272.7 252.4 273.5 253.4 274.9 254.5 275.7 255.5 275.7 256.5 276.5 257.5 278.1 258.5 278.9 259.5 280.0 260.6 281.6 261.6 281.5 262.6 282.9 263.6 284.9 264.6 285.3 265.6 286.5 266.7 288.4 267.7 289.5 268.7 290.2 269.7 292.7 270.7 295.0 271.8 296.0 272.8 297.8 273.8 299.4 274.8 301.0 275.8 302.1 276.8 303.7 277.9 305.2 278.9 306.0 279.9 307.5 280.9 308.8 281.9 308.9 283.0 310.0 284.0 312.2 285.0 313.6 286.0 315.1 287.0 316.4 288.0 317.1 289.1 319.0 290.1 320.8 291.1 321.5 292.1 323.1 293.1 324.9 294.1 326.5 295.2 328.3 296.2 329.4 297.2 329.6 298.2 330.9 299.2 333.2 300.3 334.5 301.3 335.6 302.3 336.5 303.3 337.6 304.3 338.3 305.3 339.5 306.4 340.9 307.4 342.1 308.4 343.5 309.4 345.2 310.4 346.5 311.4 347.1 312.5 348.2 313.5 350.0 314.5 350.7 315.5 351.1 316.5 352.5 317.6 353.5 318.6 354.4 319.6 355.1 320.6 356.3 321.6 357.6 322.6 357.9 323.7 358.3 324.7 359.3 325.7 360.2 326.7 361.0 327.7 361.5 328.7 361.6 329.8 362.5 330.8 363.0 331.8 363.1 332.8 364.2 333.8 364.8 334.9 365.7 335.9 367.0 336.9 367.5 337.9 367.7 338.9 368.0 339.9 368.6 341.0 369.1 342.0 370.1 343.0 370.5 344.0 370.8 345.0 371.7 346.0 371.9 347.1 372.5 348.1 373.2 349.1 373.6 350.1 373.7 351.1 373.6 352.2 373.9 353.2 374.7 354.2 375.4 355.2 375.7 356.2 375.8 357.2 376.4 358.3 376.5 359.3 376.4 360.3 377.3 361.3 377.4 362.3 377.3 363.4 377.6 364.4 377.9 365.4 378.3 366.4 378.6 367.4 378.6 368.4 379.3 369.5 379.6 370.5 379.8 371.5 380.5 372.5 381.1 373.5 381.5 374.5 381.4 375.6 381.9 376.6 382.3 377.6 382.1 378.6 382.5 379.6 383.4 380.7 383.8 381.7 383.3 382.7 383.8 383.7 384.2 384.7 384.8 385.7 385.0 386.8 384.8 387.8 385.0 388.8 385.5 389.8 385.8 390.8 385.7 391.8 385.9 392.9 386.3 393.9 386.8 394.9 386.3 395.9 386.6 396.9 387.5 398.0 387.6 399.0 387.9 400.0 387.8 401.0 387.4 402.0 388.1 403.0 389.1 404.1 388.9 405.1 388.5 406.1 388.9 407.1 389.1 408.1 389.8 409.1 390.4 410.2 390.8 411.2 391.4 412.2 391.1 413.2 391.2 414.2 391.1 415.3 391.2 416.3 392.1 417.3 392.2 418.3 391.8 419.3 392.1 420.3 393.1 421.4 393.3 422.4 392.9 423.4 393.3 424.4 394.0 425.4 393.9 426.4 393.9 427.5 394.5 428.5 394.9 429.5 395.0 430.5 395.0 431.5 395.0 432.6 395.0 433.6 395.0 434.6 395.8 435.6 396.0 436.6 395.6 437.6 395.8 438.7 395.9 439.7 396.3 440.7 396.9 441.7 396.8 442.7 396.9 443.8 397.8 444.8 397.5 445.8 397.3 446.8 397.7 447.8 398.0 448.8 398.4 449.9 398.5 450.9 398.4 451.9 398.2 452.9 398.8 453.9 398.8 454.9 398.7 456.0 399.2 457.0 399.0 458.0 398.9 459.0 399.5 460.0 399.2 461.1 399.2 462.1 399.6 463.1 399.5 464.1 399.4 465.1 399.6 466.1 399.8 467.2 400.0 468.2 400.1 469.2 400.2 470.2 400.7 471.2 400.2 472.2 400.1 473.3 400.6 474.3 400.3 475.3 400.3 476.3 401.1 477.3 401.1 478.4 401.3 479.4 401.3 480.4 400.9 481.4 401.4 482.4 401.8 483.4 401.8 484.5 401.7 485.5 402.1 486.5 402.0 487.5 402.4 488.5 402.7 489.5 402.4 490.6 402.4 491.6 402.4 492.6 402.6 493.6 402.7 494.6 402.5 495.7 402.8 496.7 403.1 497.7 403.3 498.7 403.0 499.7 403.0 500.7 403.1 501.8 402.8 502.8 402.6 503.8 402.6 504.8 402.9 505.8 403.5 506.8 403.3 507.9 403.0 508.9 403.1 509.9 403.2 510.9 403.2 511.9 403.1 513.0 403.3 514.0 403.4 515.0 403.5 516.0 403.6 517.0 403.7 518.0 403.6 519.1 403.8 520.1 403.7 521.1 403.6 522.1 403.8 523.1 403.9 524.2 404.2 525.2 403.8 526.2 403.8 527.2 404.6 528.2 404.7 529.2 404.5 530.3 404.0 531.3 403.9 532.3 404.2 533.3 404.5 534.3 404.6 535.3 404.3 536.4 404.0 537.4 404.3 538.4 404.6 539.4 404.4 540.4 404.8 541.5 404.9 542.5 404.7 543.5 405.2 544.5 405.1 545.5 404.5"/><path d="M73.3 391.3 74.3 389.0 75.3 386.4 76.4 383.6 77.4 380.4 78.4 377.3 79.4 374.4 80.4 371.2 81.4 367.6 82.5 364.2 83.5 360.8 84.5 356.6 85.5 352.5 86.5 348.3 87.5 343.8 88.6 338.2 89.6 332.5 90.6 327.3 91.6 321.4 92.6 314.1 93.7 307.4 94.7 302.0 95.7 295.5 96.7 288.8 97.7 281.8 98.7 275.6 99.8 269.1 100.8 263.5 101.8 258.7 102.8 253.5 103.8 247.9 104.8 242.7 105.9 239.0 106.9 233.7 107.9 228.4 108.9 224.9 109.9 221.1 111.0 216.5 112.0 211.5 113.0 205.9 114.0 201.4 115.0 196.8 116.0 191.7 117.1 186.4 118.1 180.3 119.1 173.3 120.1 169.5 121.1 164.8 122.2 157.6 123.2 151.4 124.2 147.1 125.2 143.9 126.2 140.6 127.2 137.0 128.3 133.5 129.3 131.8 130.3 129.5 131.3 127.5 132.3 127.2 133.3 124.9 134.4 122.0 135.4 121.5 136.4 119.8 137.4 117.6 138.4 118.3 139.5 119.1 140.5 116.3 141.5 114.1 142.5 115.8 143.5 118.0 144.5 118.2 145.6 118.0 146.6 119.2 147.6 119.3 148.6 119.8 149.6 122.0 150.6 121.9 151.7 123.1 152.7 125.4 153.7 125.9 154.7 126.7 155.7 129.0 156.8 131.2 157.8 133.2 158.8 133.7 159.8 134.4 160.8 138.7 161.8 141.4 162.9 142.4 163.9 144.5 164.9 146.3 165.9 148.4 166.9 152.9 167.9 156.8 169.0 160.2 170.0 162.8 171.0 164.6 172.0 165.6 173.0 168.4 174.1 174.5 175.1 177.8 176.1 179.1 177.1 182.3 178.1 185.8 179.1 188.1 180.2 190.1 181.2 192.7 182.2 196.3 183.2 198.3 184.2 200.7 185.2 204.0 186.3 207.0 187.3 209.6 188.3 210.7 189.3 213.5 190.3 216.3 191.4 217.1 192.4 219.5 193.4 222.0 194.4 224.6 195.4 226.1 196.4 227.0 197.5 229.7 198.5 233.5 199.5 236.4 200.5 237.0 201.5 237.5 202.6 240.0 203.6 242.2 204.6 244.6 205.6 247.1 206.6 248.5 207.6 249.7 208.7 252.0 209.7 253.1 210.7 253.0 211.7 255.4 212.7 258.0 213.7 258.4 214.8 259.1 215.8 261.4 216.8 261.4 217.8 260.8 218.8 262.2 219.9 261.8 220.9 262.1 221.9 264.1 222.9 264.6 223.9 265.1 224.9 265.8 226.0 265.2 227.0 265.1 228.0 265.6 229.0 264.5 230.0 263.8 231.0 264.2 232.1 264.4 233.1 264.6 234.1 264.1 235.1 264.4 236.1 264.3 237.2 264.8 238.2 266.0 239.2 266.2 240.2 266.4 241.2 265.5 242.2 264.7 243.3 265.4 244.3 266.3 245.3 266.4 246.3 267.1 247.3 268.0 248.3 268.1 249.4 268.9 250.4 269.6 251.4 269.4 252.4 270.4 253.4 271.6 254.5 272.8 255.5 272.2 256.5 273.2 257.5 274.4 258.5 274.5 259.5 276.6 260.6 278.6 261.6 279.0 262.6 278.8 263.6 280.9 264.6 283.1 265.6 283.4 266.7 284.4 267.7 285.3 268.7 287.1 269.7 289.1 270.7 290.9 271.8 291.8 272.8 293.3 273.8 296.9 274.8 298.3 275.8 299.1 276.8 299.8 277.9 301.4 278.9 303.6 279.9 304.4 280.9 304.8 281.9 306.2 283.0 307.7 284.0 308.7 285.0 310.6 286.0 312.2 287.0 313.5 288.0 315.3 289.1 316.3 290.1 318.0 291.1 319.5 292.1 320.0 293.1 322.0 294.1 324.1 295.2 325.6 296.2 326.5 297.2 327.4 298.2 328.8 299.2 330.0 300.3 331.7 301.3 333.2 302.3 334.9 303.3 335.9 304.3 336.6 305.3 338.2 306.4 339.1 307.4 339.9 308.4 342.4 309.4 343.8 310.4 344.4 311.4 345.2 312.5 344.9 313.5 346.6 314.5 348.4 315.5 349.4 316.5 350.3 317.6 351.0 318.6 351.7 319.6 353.2 320.6 354.0 321.6 354.8 322.6 356.1 323.7 356.2 324.7 356.8 325.7 358.2 326.7 359.3 327.7 359.8 328.7 360.3 329.8 360.5 330.8 361.5 331.8 362.3 332.8 362.3 333.8 362.9 334.9 363.5 335.9 363.8 336.9 364.4 337.9 365.2 338.9 365.8 339.9 366.1 341.0 367.3 342.0 368.1 343.0 368.1 344.0 369.1 345.0 369.8 346.0 370.8 347.1 371.1 348.1 371.3 349.1 371.5 350.1 372.1 351.1 372.3 352.2 372.2 353.2 373.0 354.2 373.7 355.2 374.2 356.2 374.7 357.2 374.9 358.3 375.0 359.3 375.2 360.3 375.9 361.3 376.3 362.3 376.5 363.4 376.7 364.4 376.3 365.4 376.5 366.4 377.4 367.4 378.4 368.4 379.0 369.5 379.4 370.5 379.1 371.5 379.2 372.5 379.7 373.5 380.0 374.5 380.3 375.6 380.0 376.6 380.5 377.6 381.3 378.6 381.6 379.6 381.6 380.7 381.9 381.7 382.7 382.7 383.1 383.7 383.4 384.7 383.2 385.7 382.4 386.8 383.1 387.8 383.7 388.8 383.7 389.8 384.4 390.8 384.8 391.8 384.8 392.9 385.2 393.9 384.9 394.9 385.4 395.9 386.0 396.9 385.7 398.0 386.2 399.0 386.4 400.0 386.3 401.0 386.5 402.0 386.9 403.0 387.0 404.1 387.9 405.1 388.0 406.1 387.2 407.1 387.6 408.1 388.2 409.1 389.1 410.2 389.6 411.2 389.7 412.2 390.1 413.2 390.0 414.2 390.3 415.3 390.8 416.3 391.3 417.3 391.5 418.3 391.3 419.3 391.6 420.3 392.1 421.4 391.7 422.4 392.0 423.4 392.9 424.4 393.0 425.4 392.7 426.4 392.2 427.5 392.6 428.5 393.5 429.5 393.9 430.5 393.7 431.5 394.0 432.6 394.1 433.6 393.7 434.6 394.2 435.6 394.6 436.6 394.6 437.6 394.6 438.7 395.2 439.7 395.4 440.7 395.5 441.7 396.1 442.7 396.1 443.8 396.2 444.8 396.6 445.8 397.1 446.8 397.2 447.8 396.7 448.8 396.2 449.9 396.5 450.9 396.8 451.9 397.3 452.9 397.7 453.9 397.7 454.9 398.0 456.0 398.5 457.0 398.3 458.0 398.3 459.0 398.7 460.0 398.7 461.1 398.7 462.1 398.7 463.1 398.8 464.1 399.2 465.1 399.3 466.1 399.4 467.2 399.7 468.2 399.9 469.2 399.7 470.2 399.6 471.2 399.6 472.2 400.2 473.3 400.7 474.3 400.5 475.3 400.5 476.3 400.6 477.3 400.9 478.4 400.7 479.4 400.7 480.4 401.2 481.4 401.1 482.4 400.7 483.4 401.2 484.5 401.4 485.5 401.5 486.5 401.6 487.5 401.6 488.5 402.1 489.5 402.2 490.6 402.3 491.6 402.2 492.6 402.1 493.6 402.3 494.6 402.5 495.7 403.4 496.7 403.3 497.7 403.0 498.7 403.0 499.7 402.5 500.7 402.5 501.8 402.9 502.8 403.1 503.8 403.1 504.8 403.2 505.8 403.4 506.8 403.5 507.9 403.2 508.9 403.1 509.9 403.2 510.9 403.3 511.9 403.5 513.0 403.6 514.0 403.5 515.0 403.4 516.0 403.5 517.0 403.9 518.0 404.1 519.1 403.7 520.1 403.6 521.1 404.1 522.1 403.8 523.1 403.5 524.2 403.8 525.2 404.1 526.2 403.8 527.2 403.7 528.2 404.1 529.2 404.2 530.3 404.7 531.3 405.0 532.3 404.6 533.3 404.3 534.3 404.5 535.3 404.8 536.4 405.1 537.4 404.9 538.4 405.0 539.4 404.7 540.4 404.2 541.5 403.8 542.5 403.9 543.5 404.6 544.5 405.0 545.5 405.5"/><path d="M73.3 391.4 74.3 389.5 75.3 387.0 76.4 383.7 77.4 380.1 78.4 377.3 79.4 374.8 80.4 371.6 81.4 368.0 82.5 364.4 83.5 360.7 84.5 356.7 85.5 352.7 86.5 348.4 87.5 343.6 88.6 339.3 89.6 334.4 90.6 328.8 91.6 322.1 92.6 315.5 93.7 309.2 94.7 303.0 95.7 297.3 96.7 290.3 97.7 283.7 98.7 277.5 99.8 270.6 100.8 265.9 101.8 261.1 102.8 255.3 103.8 250.3 104.8 245.9 105.9 240.4 106.9 235.3 107.9 230.9 108.9 226.4 109.9 221.7 111.0 217.2 112.0 212.7 113.0 207.2 114.0 202.3 115.0 198.1 116.0 193.7 117.1 188.0 118.1 181.6 119.1 176.5 120.1 171.8 121.1 165.4 122.2 157.0 123.2 151.9 124.2 148.8 125.2 144.6 126.2 143.5 127.2 140.8 128.3 136.7 129.3 133.4 130.3 130.9 131.3 130.6 132.3 128.8 133.3 126.4 134.4 125.3 135.4 124.3 136.4 123.9 137.4 123.0 138.4 120.3 139.5 117.7 140.5 117.1 141.5 118.0 142.5 117.5 143.5 117.0 144.5 116.8 145.6 117.1 146.6 119.0 147.6 120.2 148.6 120.7 149.6 121.9 150.6 123.5 151.7 126.0 152.7 129.3 153.7 130.7 154.7 132.1 155.7 133.1 156.8 133.1 157.8 136.1 158.8 137.3 159.8 137.2 160.8 139.7 161.8 141.3 162.9 142.3 163.9 147.0 164.9 150.2 165.9 151.7 166.9 154.9 167.9 157.4 169.0 161.0 170.0 165.0 171.0 167.9 172.0 170.8 173.0 173.1 174.1 176.3 175.1 179.8 176.1 181.3 177.1 183.6 178.1 186.7 179.1 190.8 180.2 194.5 181.2 196.5 182.2 198.8 183.2 201.6 184.2 203.7 185.2 206.1 186.3 209.2 187.3 211.7 188.3 213.8 189.3 216.6 190.3 218.7 191.4 220.6 192.4 223.5 193.4 226.0 194.4 228.1 195.4 229.7 196.4 231.7 197.5 234.4 198.5 236.7 199.5 239.0 200.5 241.0 201.5 243.3 202.6 247.2 203.6 248.5 204.6 249.2 205.6 252.4 206.6 254.2 207.6 255.6 208.7 255.9 209.7 256.6 210.7 259.9 211.7 261.1 212.7 261.7 213.7 262.2 214.8 263.5 215.8 266.5 216.8 266.7 217.8 266.4 218.8 267.3 219.9 268.8 220.9 269.0 221.9 267.6 222.9 269.2 223.9 269.8 224.9 269.4 226.0 268.9 227.0 268.4 228.0 269.6 229.0 269.3 230.0 268.9 231.0 269.7 232.1 269.6 233.1 269.6 234.1 270.9 235.1 269.7 236.1 269.0 237.2 270.4 238.2 270.1 239.2 270.6 240.2 271.5 241.2 271.1 242.2 270.8 243.3 270.7 244.3 270.0 245.3 270.5 246.3 271.2 247.3 271.1 248.3 272.4 249.4 273.1 250.4 273.7 251.4 274.0 252.4 274.0 253.4 275.2 254.5 276.8 255.5 277.7 256.5 278.4 257.5 279.1 258.5 279.9 259.5 281.7 260.6 282.4 261.6 282.8 262.6 284.7 263.6 285.6 264.6 286.7 265.6 288.6 266.7 289.7 267.7 291.3 268.7 292.9 269.7 294.0 270.7 294.6 271.8 295.4 272.8 297.8 273.8 299.4 274.8 301.0 275.8 303.2 276.8 304.4 277.9 305.8 278.9 306.5 279.9 307.7 280.9 310.3 281.9 310.9 283.0 311.8 284.0 313.7 285.0 316.0 286.0 316.8 287.0 316.7 288.0 318.2 289.1 319.6 290.1 320.7 291.1 322.5 292.1 324.2 293.1 325.9 294.1 327.8 295.2 328.5 296.2 329.6 297.2 331.7 298.2 333.0 299.2 333.9 300.3 335.6 301.3 336.6 302.3 337.7 303.3 339.7 304.3 341.1 305.3 341.2 306.4 342.5 307.4 344.1 308.4 344.6 309.4 345.5 310.4 347.2 311.4 348.6 312.5 349.2 313.5 349.9 314.5 351.2 315.5 352.8 316.5 353.3 317.6 353.5 318.6 354.7 319.6 356.1 320.6 357.0 321.6 357.6 322.6 358.3 323.7 359.5 324.7 360.4 325.7 360.8 326.7 361.9 327.7 362.4 328.7 362.7 329.8 363.5 330.8 364.0 331.8 364.9 332.8 365.6 333.8 365.7 334.9 366.1 335.9 366.5 336.9 367.5 337.9 368.8 338.9 369.0 339.9 369.0 341.0 369.0 342.0 369.5 343.0 370.9 344.0 371.4 345.0 371.9 346.0 373.0 347.1 372.5 348.1 372.5 349.1 373.5 350.1 373.8 351.1 373.9 352.2 374.4 353.2 374.9 354.2 375.6 355.2 376.7 356.2 376.4 357.2 375.9 358.3 376.5 359.3 377.2 360.3 377.6 361.3 378.2 362.3 378.1 363.4 378.1 364.4 378.7 365.4 379.1 366.4 379.3 367.4 379.6 368.4 380.0 369.5 380.8 370.5 381.1 371.5 380.6 372.5 381.2 373.5 382.1 374.5 382.0 375.6 382.0 376.6 382.4 377.6 383.3 378.6 383.6 379.6 383.8 380.7 384.4 381.7 384.2 382.7 384.4 383.7 384.5 384.7 383.9 385.7 384.2 386.8 385.1 387.8 385.7 388.8 386.3 389.8 386.6 390.8 386.8 391.8 387.1 392.9 387.3 393.9 387.3 394.9 387.6 395.9 388.2 396.9 388.5 398.0 388.2 399.0 388.1 400.0 388.2 401.0 388.2 402.0 388.8 403.0 389.1 404.1 389.6 405.1 389.5 406.1 389.1 407.1 390.0 408.1 390.8 409.1 391.0 410.2 391.4 411.2 392.0 412.2 391.6 413.2 391.7 414.2 392.2 415.3 392.2 416.3 392.6 417.3 393.0 418.3 393.1 419.3 393.6 420.3 393.6 421.4 393.8 422.4 393.7 423.4 393.8 424.4 394.0 425.4 394.3 426.4 394.8 427.5 395.0 428.5 395.6 429.5 395.5 430.5 395.2 431.5 395.7 432.6 395.8 433.6 395.9 434.6 396.3 435.6 396.2 436.6 396.2 437.6 396.9 438.7 396.8 439.7 396.4 440.7 397.0 441.7 397.6 442.7 398.0 443.8 398.2 444.8 397.9 445.8 397.8 446.8 398.3 447.8 398.5 448.8 398.0 449.9 398.1 450.9 398.7 451.9 398.4 452.9 398.3 453.9 398.8 454.9 399.1 456.0 399.6 457.0 399.8 458.0 399.7 459.0 399.6 460.0 399.6 461.1 399.5 462.1 399.7 463.1 399.8 464.1 400.2 465.1 400.9 466.1 400.9 467.2 400.7 468.2 400.8 469.2 400.8 470.2 401.0 471.2 401.3 472.2 401.1 473.3 401.0 474.3 401.2 475.3 401.2 476.3 401.2 477.3 401.6 478.4 401.6 479.4 401.1 480.4 401.3 481.4 401.6 482.4 401.2 483.4 401.2 484.5 401.8 485.5 401.8 486.5 401.6 487.5 402.2 488.5 402.4 489.5 402.3 490.6 402.3 491.6 402.5 492.6 402.3 493.6 402.5 494.6 403.1 495.7 402.8 496.7 402.5 497.7 402.5 498.7 402.9 499.7 403.0 500.7 402.7 501.8 402.6 502.8 403.0 503.8 403.4 504.8 403.2 505.8 403.7 506.8 403.8 507.9 403.3 508.9 403.3 509.9 403.7 510.9 403.5 511.9 403.2 513.0 403.2 514.0 403.6 515.0 403.9 516.0 403.5 517.0 403.7 518.0 404.1 519.1 403.9 520.1 403.4 521.1 403.9 522.1 404.8 523.1 404.9 524.2 404.6 525.2 404.4 526.2 404.1 527.2 404.1 528.2 404.5 529.2 404.4 530.3 404.5 531.3 404.6 532.3 404.6 533.3 404.0 534.3 403.8 535.3 404.5 536.4 404.9 537.4 404.9 538.4 405.0 539.4 405.1 540.4 405.0 541.5 404.6 542.5 404.6 543.5 405.0 544.5 405.2 545.5 405.3"/><path d="M73.3 402.2 74.3 400.3 75.3 398.0 76.4 396.0 77.4 393.8 78.4 391.4 79.4 389.0 80.4 385.9 81.4 381.8 82.5 377.2 83.5 372.8 84.5 368.0 85.5 362.7 86.5 357.4 87.5 352.9 88.6 347.7 89.6 342.5 90.6 338.2 91.6 333.0 92.6 327.9 93.7 324.0 94.7 319.7 95.7 315.8 96.7 311.9 97.7 308.1 98.7 303.0 99.8 298.4 100.8 294.3 101.8 289.5 102.8 285.9 103.8 281.0 104.8 275.5 105.9 269.9 106.9 263.7 107.9 258.2 108.9 253.2 109.9 248.4 111.0 243.3 112.0 237.7 113.0 233.3 114.0 228.5 115.0 223.4 116.0 218.5 117.1 213.5 118.1 209.4 119.1 205.6 120.1 200.6 121.1 197.3 122.2 194.4 123.2 188.6 124.2 186.4 125.2 184.2 126.2 178.1 127.2 174.8 128.3 169.8 129.3 167.1 130.3 165.1 131.3 159.6 132.3 157.6 133.3 156.9 134.4 155.4 135.4 154.3 136.4 152.6 137.4 151.4 138.4 151.0 139.5 148.4 140.5 148.1 141.5 148.3 142.5 146.6 143.5 146.6 144.5 145.3 145.6 143.6 146.6 145.4 147.6 145.5 148.6 144.8 149.6 145.2 150.6 144.5 151.7 144.7 152.7 144.3 153.7 144.8 154.7 145.3 155.7 145.6 156.8 146.6 157.8 148.1 158.8 150.3 159.8 151.8 160.8 152.1 161.8 151.8 162.9 151.9 163.9 152.9 164.9 155.7 165.9 158.4 166.9 160.1 167.9 161.9 169.0 163.4 170.0 165.0 171.0 169.1 172.0 172.8 173.0 173.8 174.1 175.7 175.1 179.5 176.1 181.7 177.1 184.7 178.1 188.6 179.1 191.6 180.2 195.5 181.2 197.3 182.2 199.4 183.2 202.8 184.2 205.0 185.2 206.6 186.3 208.6 187.3 211.4 188.3 214.8 189.3 217.2 190.3 219.5 191.4 221.6 192.4 222.8 193.4 225.3 194.4 226.7 195.4 228.7 196.4 231.8 197.5 234.3 198.5 237.0 199.5 238.8 200.5 240.4 201.5 243.9 202.6 246.1 203.6 247.4 204.6 249.6 205.6 251.9 206.6 255.3 207.6 258.5 208.7 259.2 209.7 260.7 210.7 264.6 211.7 266.7 212.7 268.3 213.7 271.4 214.8 274.3 215.8 276.0 216.8 276.5 217.8 277.6 218.8 279.5 219.9 281.0 220.9 282.3 221.9 284.9 222.9 286.9 223.9 287.8 224.9 289.7 226.0 291.1 227.0 292.0 228.0 293.3 229.0 295.2 230.0 296.5 231.0 296.1 232.1 297.5 233.1 300.1 234.1 300.5 235.1 300.5 236.1 301.3 237.2 303.0 238.2 303.6 239.2 304.3 240.2 306.0 241.2 306.8 242.2 307.1 243.3 307.4 244.3 307.9 245.3 308.9 246.3 309.6 247.3 310.4 248.3 311.2 249.4 312.6 250.4 314.4 251.4 314.3 252.4 315.0 253.4 316.2 254.5 316.5 255.5 317.3 256.5 318.2 257.5 318.2 258.5 319.7 259.5 320.7 260.6 319.6 261.6 320.7 262.6 322.3 263.6 322.9 264.6 323.0 265.6 324.5 266.7 326.1 267.7 326.6 268.7 327.4 269.7 328.2 270.7 329.2 271.8 330.6 272.8 331.9 273.8 333.2 274.8 334.7 275.8 335.7 276.8 336.8 277.9 338.4 278.9 339.0 279.9 339.9 280.9 342.2 281.9 342.9 283.0 343.9 284.0 345.2 285.0 346.1 286.0 347.2 287.0 348.1 288.0 349.3 289.1 350.3 290.1 350.4 291.1 352.0 292.1 353.5 293.1 353.5 294.1 354.7 295.2 356.1 296.2 356.0 297.2 356.5 298.2 357.3 299.2 357.8 300.3 359.2 301.3 359.9 302.3 360.5 303.3 361.0 304.3 361.8 305.3 362.8 306.4 363.5 307.4 363.8 308.4 364.3 309.4 365.6 310.4 366.7 311.4 366.9 312.5 367.5 313.5 368.3 314.5 369.0 315.5 369.6 316.5 369.8 317.6 370.0 318.6 370.6 319.6 370.9 320.6 371.4 321.6 371.7 322.6 371.9 323.7 373.1 324.7 374.1 325.7 375.5 326.7 375.9 327.7 375.5 328.7 375.5 329.8 376.4 330.8 376.8 331.8 377.0 332.8 377.8 333.8 378.8 334.9 379.4 335.9 379.3 336.9 379.5 337.9 379.8 338.9 380.7 339.9 380.9 341.0 380.8 342.0 381.3 343.0 381.6 344.0 381.8 345.0 382.4 346.0 383.4 347.1 384.1 348.1 383.7 349.1 383.5 350.1 384.2 351.1 384.8 352.2 385.1 353.2 385.3 354.2 385.7 355.2 386.1 356.2 385.8 357.2 385.9 358.3 386.9 359.3 387.5 360.3 387.8 361.3 387.6 362.3 387.5 363.4 388.0 364.4 388.5 365.4 388.8 366.4 389.3 367.4 389.2 368.4 389.1 369.5 389.1 370.5 389.6 371.5 390.5 372.5 390.4 373.5 390.7 374.5 391.5 375.6 391.9 376.6 391.7 377.6 391.7 378.6 392.0 379.6 392.0 380.7 392.0 381.7 392.4 382.7 392.8 383.7 393.2 384.7 393.2 385.7 393.2 386.8 393.5 387.8 393.8 388.8 394.1 389.8 394.7 390.8 395.0 391.8 394.7 392.9 394.5 393.9 394.5 394.9 394.8 395.9 395.1 396.9 395.0 398.0 395.2 399.0 395.8 400.0 396.2 401.0 396.2 402.0 396.5 403.0 396.6 404.1 396.3 405.1 396.7 406.1 396.7 407.1 396.8 408.1 397.4 409.1 397.6 410.2 397.8 411.2 397.8 412.2 397.8 413.2 397.7 414.2 397.7 415.3 398.2 416.3 398.5 417.3 399.1 418.3 399.2 419.3 399.2 420.3 399.1 421.4 399.1 422.4 399.1 423.4 399.0 424.4 399.4 425.4 399.6 426.4 399.9 427.5 399.9 428.5 399.8 429.5 400.3 430.5 400.5 431.5 399.8 432.6 400.1 433.6 400.8 434.6 401.0 435.6 401.4 436.6 401.1 437.6 400.9 438.7 401.1 439.7 400.9 440.7 400.5 441.7 401.1 442.7 401.5 443.8 401.3 444.8 401.5 445.8 401.6 446.8 401.8 447.8 401.7 448.8 401.6 449.9 401.9 450.9 401.9 451.9 401.8 452.9 402.0 453.9 402.2 454.9 402.0 456.0 402.0 457.0 402.5 458.0 402.8 459.0 403.0 460.0 403.1 461.1 403.0 462.1 402.8 463.1 403.3 464.1 403.4 465.1 402.9 466.1 402.9 467.2 403.3 468.2 403.2 469.2 403.2 470.2 403.7 471.2 403.9 472.2 403.7 473.3 403.3 474.3 403.1 475.3 403.3 476.3 403.8 477.3 404.1 478.4 404.1 479.4 404.0 480.4 404.2 481.4 404.2 482.4 403.7 483.4 403.8 484.5 403.9 485.5 404.1 486.5 404.6 487.5 404.5 488.5 404.0 489.5 403.7 490.6 404.1 491.6 404.1 492.6 404.1 493.6 404.1 494.6 403.9 495.7 404.4 496.7 404.3 497.7 404.4 498.7 404.8 499.7 405.0 500.7 404.7 501.8 404.5 502.8 404.6 503.8 404.6 504.8 404.4 505.8 404.4 506.8 404.8 507.9 404.5 508.9 404.1 509.9 404.3 510.9 405.0 511.9 405.2 513.0 404.7 514.0 404.6 515.0 404.4 516.0 404.8 517.0 405.0 518.0 404.8 519.1 404.7 520.1 404.6 521.1 404.7 522.1 404.8 523.1 405.3 524.2 405.5 525.2 405.3 526.2 405.3 527.2 404.9 528.2 404.5 529.2 404.7 530.3 405.2 531.3 405.3 532.3 405.2 533.3 404.9 534.3 404.7 535.3 404.9 536.4 405.1 537.4 405.5 538.4 405.5 539.4 405.5 540.4 405.3 541.5 405.0 542.5 405.2 543.5 405.4 544.5 404.9 545.5 405.0"/><path d="M73.3 401.8 74.3 400.6 75.3 399.0 76.4 397.2 77.4 394.8 78.4 392.4 79.4 390.2 80.4 387.1 81.4 383.6 82.5 379.6 83.5 375.0 84.5 370.4 85.5 365.9 86.5 361.2 87.5 357.0 88.6 352.9 89.6 348.5 90.6 343.7 91.6 339.1 92.6 335.2 93.7 330.7 94.7 326.0 95.7 322.8 96.7 318.3 97.7 313.6 98.7 310.3 99.8 305.8 100.8 301.7 101.8 298.4 102.8 293.4 103.8 289.3 104.8 285.9 105.9 280.1 106.9 275.5 107.9 270.9 108.9 265.0 109.9 258.9 111.0 254.7 112.0 251.2 113.0 245.7 114.0 241.1 115.0 237.6 116.0 233.1 117.1 227.9 118.1 223.7 119.1 219.0 120.1 214.7 121.1 211.4 122.2 208.4 123.2 205.9 124.2 202.9 125.2 198.6 126.2 195.2 127.2 191.7 128.3 188.6 129.3 184.5 130.3 179.8 131.3 178.8 132.3 177.9 133.3 175.9 134.4 173.6 135.4 171.6 136.4 171.1 137.4 170.4 138.4 169.2 139.5 168.8 140.5 167.6 141.5 166.6 142.5 166.0 143.5 164.7 144.5 163.8 145.6 163.5 146.6 163.3 147.6 163.8 148.6 164.0 149.6 163.4 150.6 163.7 151.7 163.6 152.7 163.4 153.7 165.3 154.7 166.2 155.7 166.5 156.8 166.8 157.8 168.2 158.8 170.8 159.8 171.6 160.8 170.8 161.8 171.6 162.9 173.8 163.9 174.5 164.9 177.1 165.9 178.4 166.9 178.4 167.9 180.1 169.0 182.0 170.0 184.3 171.0 187.2 172.0 189.5 173.0 191.6 174.1 192.5 175.1 195.0 176.1 198.7 177.1 202.0 178.1 205.3 179.1 206.7 180.2 209.5 181.2 213.5 182.2 215.2 183.2 217.3 184.2 218.3 185.2 221.7 186.3 224.9 187.3 225.3 188.3 228.4 189.3 231.4 190.3 232.7 191.4 233.6 192.4 236.5 193.4 240.4 194.4 241.5 195.4 241.9 196.4 244.8 197.5 248.9 198.5 250.1 199.5 251.1 200.5 253.3 201.5 255.3 202.6 258.2 203.6 260.4 204.6 261.5 205.6 262.7 206.6 266.6 207.6 269.9 208.7 270.0 209.7 271.9 210.7 275.5 211.7 277.3 212.7 278.6 213.7 280.6 214.8 282.5 215.8 284.3 216.8 286.0 217.8 287.3 218.8 289.1 219.9 290.9 220.9 292.1 221.9 292.8 222.9 294.0 223.9 296.0 224.9 297.3 226.0 298.5 227.0 299.5 228.0 300.8 229.0 301.7 230.0 302.5 231.0 304.4 232.1 306.2 233.1 306.8 234.1 307.5 235.1 308.8 236.1 310.6 237.2 312.2 238.2 312.4 239.2 312.2 240.2 312.9 241.2 314.6 242.2 315.4 243.3 315.9 244.3 317.0 245.3 317.5 246.3 318.8 247.3 320.0 248.3 321.3 249.4 322.3 250.4 323.0 251.4 323.4 252.4 323.5 253.4 324.1 254.5 324.8 255.5 326.2 256.5 327.0 257.5 327.7 258.5 328.4 259.5 328.9 260.6 330.3 261.6 331.2 262.6 331.6 263.6 332.6 264.6 333.1 265.6 333.2 266.7 334.6 267.7 336.2 268.7 337.8 269.7 338.6 270.7 339.0 271.8 340.7 272.8 341.5 273.8 341.7 274.8 343.1 275.8 344.5 276.8 345.7 277.9 346.5 278.9 347.8 279.9 349.2 280.9 349.1 281.9 350.1 283.0 351.6 284.0 352.7 285.0 354.1 286.0 355.0 287.0 355.4 288.0 356.5 289.1 357.4 290.1 357.5 291.1 358.1 292.1 359.7 293.1 361.1 294.1 361.9 295.2 362.0 296.2 362.1 297.2 362.9 298.2 364.1 299.2 365.3 300.3 365.7 301.3 366.0 302.3 366.9 303.3 367.5 304.3 367.7 305.3 368.3 306.4 369.4 307.4 370.6 308.4 371.0 309.4 370.9 310.4 371.4 311.4 372.1 312.5 372.8 313.5 373.0 314.5 373.3 315.5 374.0 316.5 374.7 317.6 375.4 318.6 375.6 319.6 376.2 320.6 377.0 321.6 377.3 322.6 377.1 323.7 377.4 324.7 377.7 325.7 378.3 326.7 379.1 327.7 379.9 328.7 380.4 329.8 380.0 330.8 380.2 331.8 380.8 332.8 381.1 333.8 381.6 334.9 382.2 335.9 382.6 336.9 382.7 337.9 383.0 338.9 383.4 339.9 383.8 341.0 384.4 342.0 384.9 343.0 385.2 344.0 385.2 345.0 385.8 346.0 386.4 347.1 385.6 348.1 385.9 349.1 387.0 350.1 387.2 351.1 386.9 352.2 387.2 353.2 387.6 354.2 387.8 355.2 388.3 356.2 387.8 357.2 388.0 358.3 389.1 359.3 389.5 360.3 389.5 361.3 389.5 362.3 389.7 363.4 390.0 364.4 390.8 365.4 390.9 366.4 390.9 367.4 391.3 368.4 391.8 369.5 392.1 370.5 392.2 371.5 392.3 372.5 392.7 373.5 392.9 374.5 392.7 375.6 393.2 376.6 393.6 377.6 393.7 378.6 393.6 379.6 394.1 380.7 394.6 381.7 394.6 382.7 394.8 383.7 394.4 384.7 394.7 385.7 395.0 386.8 395.2 387.8 395.0 388.8 394.7 389.8 395.1 390.8 395.8 391.8 396.4 392.9 396.0 393.9 396.0 394.9 396.5 395.9 396.5 396.9 396.9 398.0 396.9 399.0 396.8 400.0 397.0 401.0 397.3 402.0 397.4 403.0 397.6 404.1 397.6 405.1 397.4 406.1 397.5 407.1 397.8 408.1 398.0 409.1 398.8 410.2 398.9 411.2 398.5 412.2 398.8 413.2 399.0 414.2 399.4 415.3 399.6 416.3 399.3 417.3 399.0 418.3 399.4 419.3 400.1 420.3 399.7 421.4 399.9 422.4 399.8 423.4 399.8 424.4 400.5 425.4 400.4 426.4 400.0 427.5 400.6 428.5 400.7 429.5 400.6 430.5 400.7 431.5 400.8 432.6 401.6 433.6 401.5 434.6 401.0 435.6 400.8 436.6 400.7 437.6 401.1 438.7 401.6 439.7 401.9 440.7 402.0 441.7 402.1 442.7 402.2 443.8 402.7 444.8 402.6 445.8 402.2 446.8 401.7 447.8 401.6 448.8 402.3 449.9 402.4 450.9 402.7 451.9 403.0 452.9 403.2 453.9 402.8 454.9 402.3 456.0 402.9 457.0 403.1 458.0 402.7 459.0 402.7 460.0 402.8 461.1 403.2 462.1 403.4 463.1 403.3 464.1 403.0 465.1 403.3 466.1 403.7 467.2 403.4 468.2 403.4 469.2 403.4 470.2 403.2 471.2 403.3 472.2 403.1 473.3 403.1 474.3 403.4 475.3 403.8 476.3 404.1 477.3 403.8 478.4 403.4 479.4 403.3 480.4 403.2 481.4 403.4 482.4 403.9 483.4 403.8 484.5 403.9 485.5 404.2 486.5 404.4 487.5 404.2 488.5 404.3 489.5 404.4 490.6 404.5 491.6 404.4 492.6 404.4 493.6 404.4 494.6 404.6 495.7 404.9 496.7 404.3 497.7 404.4 498.7 404.7 499.7 404.6 500.7 405.1 501.8 405.0 502.8 404.4 503.8 404.8 504.8 404.7 505.8 404.7 506.8 405.1 507.9 404.9 508.9 404.9 509.9 404.4 510.9 404.6 511.9 404.9 513.0 404.4 514.0 405.0 515.0 405.5 516.0 405.1 517.0 404.8 518.0 404.9 519.1 404.6 520.1 404.7 521.1 405.2 522.1 405.5 523.1 405.5 524.2 405.1 525.2 405.1 526.2 404.9 527.2 405.3 528.2 405.0 529.2 404.4 530.3 404.6 531.3 405.1 532.3 405.4 533.3 405.3 534.3 405.3 535.3 405.4 536.4 405.2 537.4 405.0 538.4 405.0 539.4 405.2 540.4 405.0 541.5 404.8 542.5 405.5 543.5 405.5 544.5 405.3 545.5 404.9"/><path d="M73.3 402.3 74.3 401.7 75.3 400.0 76.4 398.2 77.4 396.4 78.4 394.1 79.4 391.6 80.4 388.9 81.4 386.3 82.5 383.1 83.5 379.5 84.5 375.0 85.5 370.5 86.5 366.4 87.5 362.7 88.6 359.9 89.6 355.5 90.6 350.8 91.6 347.4 92.6 343.7 93.7 339.8 94.7 336.1 95.7 333.4 96.7 329.7 97.7 325.8 98.7 322.9 99.8 318.5 100.8 314.4 101.8 311.7 102.8 309.3 103.8 305.4 104.8 300.5 105.9 296.4 106.9 292.8 107.9 288.6 108.9 284.2 109.9 279.5 111.0 274.3 112.0 269.8 113.0 266.4 114.0 262.8 115.0 258.3 116.0 254.8 117.1 251.4 118.1 246.3 119.1 242.5 120.1 239.8 121.1 236.9 122.2 234.4 123.2 232.1 124.2 229.3 125.2 224.6 126.2 220.3 127.2 217.1 128.3 214.9 129.3 212.9 130.3 211.4 131.3 209.5 132.3 206.9 133.3 205.6 134.4 204.0 135.4 202.8 136.4 203.4 137.4 202.3 138.4 201.3 139.5 200.7 140.5 198.2 141.5 196.8 142.5 196.7 143.5 195.2 144.5 194.1 145.6 194.8 146.6 194.6 147.6 193.9 148.6 194.6 149.6 194.5 150.6 195.4 151.7 196.4 152.7 195.8 153.7 195.2 154.7 195.8 155.7 196.9 156.8 196.8 157.8 196.7 158.8 197.8 159.8 198.8 160.8 200.4 161.8 202.4 162.9 202.9 163.9 204.0 164.9 205.6 165.9 205.7 166.9 206.9 167.9 210.1 169.0 211.5 170.0 211.7 171.0 213.9 172.0 216.3 173.0 218.7 174.1 221.8 175.1 224.1 176.1 226.2 177.1 227.0 178.1 230.0 179.1 232.4 180.2 234.6 181.2 237.8 182.2 238.9 183.2 240.4 184.2 242.7 185.2 245.9 186.3 247.8 187.3 249.4 188.3 250.2 189.3 251.7 190.3 254.8 191.4 257.2 192.4 259.4 193.4 261.4 194.4 262.5 195.4 263.8 196.4 265.9 197.5 267.9 198.5 270.3 199.5 271.1 200.5 273.2 201.5 276.5 202.6 277.6 203.6 279.1 204.6 281.3 205.6 282.1 206.6 284.1 207.6 286.0 208.7 287.8 209.7 289.3 210.7 290.2 211.7 292.9 212.7 295.2 213.7 297.0 214.8 298.4 215.8 299.0 216.8 301.2 217.8 302.7 218.8 304.0 219.9 306.1 220.9 307.6 221.9 307.7 222.9 308.1 223.9 310.1 224.9 311.6 226.0 312.4 227.0 314.1 228.0 315.6 229.0 314.9 230.0 316.1 231.0 318.0 232.1 318.6 233.1 319.9 234.1 321.2 235.1 321.4 236.1 322.3 237.2 323.5 238.2 324.6 239.2 325.6 240.2 326.3 241.2 326.8 242.2 327.4 243.3 328.9 244.3 331.0 245.3 331.5 246.3 331.2 247.3 332.7 248.3 334.5 249.4 335.5 250.4 335.3 251.4 336.2 252.4 337.5 253.4 337.9 254.5 338.2 255.5 339.1 256.5 340.4 257.5 341.4 258.5 341.6 259.5 341.9 260.6 343.3 261.6 344.9 262.6 346.0 263.6 346.2 264.6 347.0 265.6 347.7 266.7 348.2 267.7 349.2 268.7 350.0 269.7 350.8 270.7 352.2 271.8 353.3 272.8 353.2 273.8 354.4 274.8 356.2 275.8 356.4 276.8 357.3 277.9 358.8 278.9 360.0 279.9 360.5 280.9 360.7 281.9 361.3 283.0 362.4 284.0 363.3 285.0 364.4 286.0 365.4 287.0 366.0 288.0 366.7 289.1 367.0 290.1 367.4 291.1 368.6 292.1 369.1 293.1 369.6 294.1 370.9 295.2 371.4 296.2 372.1 297.2 372.7 298.2 372.8 299.2 373.4 300.3 373.9 301.3 374.4 302.3 375.1 303.3 375.9 304.3 376.4 305.3 376.7 306.4 377.3 307.4 377.6 308.4 377.9 309.4 378.7 310.4 379.6 311.4 379.7 312.5 379.6 313.5 379.8 314.5 380.1 315.5 380.2 316.5 380.7 317.6 381.4 318.6 382.2 319.6 382.8 320.6 383.0 321.6 383.1 322.6 383.2 323.7 383.6 324.7 384.1 325.7 384.2 326.7 384.5 327.7 384.9 328.7 385.1 329.8 385.7 330.8 386.3 331.8 386.3 332.8 386.3 333.8 386.7 334.9 387.2 335.9 386.9 336.9 387.2 337.9 388.1 338.9 388.1 339.9 388.6 341.0 388.9 342.0 388.4 343.0 388.5 344.0 389.0 345.0 389.3 346.0 389.6 347.1 389.8 348.1 390.0 349.1 390.6 350.1 390.7 351.1 390.6 352.2 390.8 353.2 391.0 354.2 391.8 355.2 391.9 356.2 391.0 357.2 391.2 358.3 392.0 359.3 392.7 360.3 392.8 361.3 393.0 362.3 393.1 363.4 393.1 364.4 393.3 365.4 393.0 366.4 393.9 367.4 394.3 368.4 394.2 369.5 394.8 370.5 394.9 371.5 394.8 372.5 394.6 373.5 395.1 374.5 395.3 375.6 394.6 376.6 394.9 377.6 395.4 378.6 395.7 379.6 396.2 380.7 396.3 381.7 396.1 382.7 396.2 383.7 395.8 384.7 396.0 385.7 396.6 386.8 396.6 387.8 397.1 388.8 397.8 389.8 397.8 390.8 397.8 391.8 397.7 392.9 397.7 393.9 397.6 394.9 397.3 395.9 397.7 396.9 398.2 398.0 398.4 399.0 398.2 400.0 398.7 401.0 399.0 402.0 398.7 403.0 398.8 404.1 398.8 405.1 398.7 406.1 399.3 407.1 399.6 408.1 399.8 409.1 399.8 410.2 399.9 411.2 399.9 412.2 399.8 413.2 399.9 414.2 400.1 415.3 400.7 416.3 400.4 417.3 400.2 418.3 400.4 419.3 400.4 420.3 400.6 421.4 400.4 422.4 400.6 423.4 400.8 424.4 401.3 425.4 401.5 426.4 401.3 427.5 401.6 428.5 401.6 429.5 401.6 430.5 401.3 431.5 401.9 432.6 402.3 433.6 402.1 434.6 401.9 435.6 401.9 436.6 402.2 437.6 402.2 438.7 402.3 439.7 402.0 440.7 402.3 441.7 402.6 442.7 402.9 443.8 402.9 444.8 402.4 445.8 402.7 446.8 402.7 447.8 403.1 448.8 403.7 449.9 403.6 450.9 403.4 451.9 403.2 452.9 403.1 453.9 403.2 454.9 403.1 456.0 403.2 457.0 403.6 458.0 403.9 459.0 403.2 460.0 403.5 461.1 404.0 462.1 403.2 463.1 403.1 464.1 403.7 465.1 403.8 466.1 403.5 467.2 403.3 468.2 403.7 469.2 403.8 470.2 403.6 471.2 403.6 472.2 403.4 473.3 403.7 474.3 404.3 475.3 404.2 476.3 403.6 477.3 403.6 478.4 403.9 479.4 403.6 480.4 403.9 481.4 404.2 482.4 404.2 483.4 404.4 484.5 404.3 485.5 404.0 486.5 404.2 487.5 404.7 488.5 404.9 489.5 404.7 490.6 404.5 491.6 404.5 492.6 404.7 493.6 404.8 494.6 404.4 495.7 404.4 496.7 404.5 497.7 404.4 498.7 404.6 499.7 405.1 500.7 404.8 501.8 404.5 502.8 404.5 503.8 404.9 504.8 405.5 505.8 405.5 506.8 405.4 507.9 404.8 508.9 404.5 509.9 404.7 510.9 404.8 511.9 404.7 513.0 404.8 514.0 404.9 515.0 404.8 516.0 405.4 517.0 405.5 518.0 404.8 519.1 404.8 520.1 405.1 521.1 405.2 522.1 405.2 523.1 404.9 524.2 404.9 525.2 405.3 526.2 405.5 527.2 405.5 528.2 405.5 529.2 405.5 530.3 405.3 531.3 404.8 532.3 405.4 533.3 405.4 534.3 404.9 535.3 405.2 536.4 405.2 537.4 405.3 538.4 405.5 539.4 405.5 540.4 405.5 541.5 405.2 542.5 405.3 543.5 405.5 544.5 405.5 545.5 405.3"/><path d="M73.3 402.2 74.3 401.4 75.3 400.5 76.4 398.6 77.4 397.1 78.4 395.8 79.4 393.9 80.4 391.4 81.4 388.3 82.5 385.3 83.5 382.0 84.5 378.1 85.5 374.2 86.5 371.3 87.5 368.0 88.6 364.1 89.6 360.5 90.6 357.1 91.6 354.0 92.6 350.7 93.7 347.9 94.7 344.6 95.7 341.0 96.7 337.8 97.7 334.8 98.7 332.0 99.8 328.8 100.8 326.0 101.8 322.2 102.8 318.8 103.8 315.6 104.8 312.4 105.9 308.8 106.9 305.1 107.9 301.3 108.9 296.9 109.9 292.6 111.0 288.6 112.0 285.2 113.0 281.3 114.0 277.5 115.0 274.2 116.0 270.5 117.1 267.4 118.1 264.6 119.1 261.2 120.1 258.3 121.1 255.4 122.2 251.8 123.2 249.0 124.2 247.1 125.2 245.7 126.2 242.7 127.2 239.3 128.3 236.0 129.3 233.7 130.3 232.4 131.3 229.9 132.3 228.4 133.3 227.5 134.4 224.9 135.4 222.8 136.4 222.4 137.4 222.1 138.4 222.2 139.5 221.3 140.5 220.0 141.5 219.7 142.5 219.4 143.5 219.1 144.5 218.4 145.6 217.9 146.6 216.8 147.6 216.7 148.6 218.4 149.6 219.1 150.6 219.1 151.7 219.1 152.7 218.0 153.7 217.6 154.7 218.7 155.7 219.3 156.8 220.1 157.8 221.9 158.8 223.1 159.8 223.6 160.8 222.7 161.8 223.8 162.9 224.8 163.9 224.2 164.9 226.1 165.9 228.0 166.9 229.5 167.9 231.0 169.0 231.8 170.0 233.5 171.0 235.1 172.0 236.2 173.0 238.4 174.1 240.7 175.1 242.9 176.1 244.9 177.1 247.6 178.1 249.6 179.1 251.0 180.2 253.7 181.2 254.6 182.2 256.6 183.2 259.9 184.2 261.1 185.2 263.3 186.3 265.6 187.3 267.1 188.3 268.9 189.3 269.9 190.3 271.0 191.4 272.1 192.4 273.6 193.4 275.2 194.4 277.0 195.4 279.4 196.4 280.8 197.5 282.5 198.5 284.9 199.5 285.6 200.5 286.6 201.5 288.8 202.6 290.4 203.6 291.7 204.6 294.2 205.6 296.3 206.6 297.8 207.6 299.4 208.7 300.8 209.7 301.9 210.7 303.0 211.7 305.5 212.7 307.2 213.7 308.8 214.8 310.2 215.8 310.8 216.8 312.0 217.8 314.3 218.8 315.8 219.9 316.0 220.9 316.9 221.9 317.8 222.9 319.5 223.9 320.8 224.9 321.6 226.0 322.7 227.0 323.3 228.0 324.1 229.0 325.4 230.0 326.5 231.0 327.7 232.1 329.2 233.1 329.5 234.1 330.0 235.1 331.7 236.1 332.9 237.2 333.2 238.2 333.3 239.2 333.8 240.2 335.0 241.2 336.9 242.2 338.1 243.3 338.2 244.3 338.9 245.3 339.8 246.3 340.9 247.3 341.3 248.3 341.6 249.4 343.0 250.4 344.7 251.4 344.9 252.4 345.6 253.4 346.7 254.5 346.7 255.5 348.3 256.5 349.6 257.5 350.3 258.5 351.0 259.5 351.6 260.6 352.0 261.6 352.7 262.6 354.1 263.6 354.8 264.6 355.7 265.6 356.9 266.7 356.9 267.7 357.9 268.7 359.5 269.7 360.0 270.7 361.0 271.8 362.4 272.8 362.6 273.8 363.0 274.8 364.3 275.8 365.0 276.8 365.9 277.9 366.9 278.9 367.3 279.9 367.1 280.9 367.6 281.9 368.8 283.0 370.2 284.0 371.1 285.0 371.7 286.0 372.1 287.0 372.4 288.0 373.2 289.1 373.8 290.1 374.5 291.1 375.5 292.1 375.7 293.1 376.2 294.1 377.2 295.2 377.4 296.2 377.8 297.2 378.2 298.2 378.2 299.2 378.7 300.3 379.3 301.3 379.9 302.3 380.1 303.3 381.0 304.3 381.6 305.3 381.7 306.4 382.5 307.4 382.7 308.4 382.8 309.4 383.1 310.4 383.0 311.4 384.1 312.5 384.8 313.5 384.0 314.5 384.1 315.5 384.6 316.5 385.1 317.6 386.1 318.6 386.7 319.6 386.5 320.6 386.3 321.6 386.9 322.6 387.5 323.7 387.5 324.7 388.1 325.7 388.6 326.7 388.0 327.7 387.6 328.7 388.3 329.8 388.6 330.8 389.0 331.8 389.8 332.8 390.5 333.8 390.3 334.9 390.1 335.9 390.0 336.9 390.0 337.9 390.7 338.9 391.4 339.9 391.3 341.0 391.2 342.0 391.8 343.0 392.4 344.0 392.3 345.0 391.8 346.0 392.3 347.1 392.7 348.1 392.6 349.1 392.6 350.1 392.8 351.1 392.8 352.2 393.1 353.2 393.8 354.2 394.0 355.2 394.6 356.2 394.8 357.2 394.2 358.3 394.1 359.3 394.7 360.3 394.8 361.3 395.2 362.3 395.5 363.4 395.1 364.4 395.0 365.4 395.5 366.4 395.6 367.4 395.1 368.4 395.6 369.5 396.0 370.5 396.4 371.5 397.1 372.5 396.8 373.5 396.5 374.5 396.7 375.6 397.0 376.6 397.2 377.6 397.1 378.6 396.8 379.6 397.1 380.7 398.0 381.7 397.8 382.7 397.4 383.7 397.7 384.7 397.9 385.7 397.6 386.8 397.8 387.8 398.3 388.8 398.9 389.8 399.2 390.8 399.1 391.8 399.1 392.9 398.9 393.9 399.2 394.9 399.0 395.9 399.2 396.9 399.8 398.0 399.6 399.0 399.9 400.0 399.9 401.0 399.6 402.0 399.9 403.0 399.7 404.1 399.7 405.1 400.2 406.1 400.5 407.1 401.0 408.1 401.0 409.1 400.8 410.2 400.9 411.2 400.7 412.2 401.2 413.2 401.7 414.2 401.7 415.3 401.3 416.3 401.1 417.3 401.6 418.3 401.8 419.3 401.5 420.3 401.5 421.4 401.7 422.4 402.1 423.4 402.0 424.4 401.6 425.4 401.8 426.4 401.7 427.5 401.9 428.5 402.2 429.5 402.1 430.5 402.1 431.5 402.3 432.6 402.5 433.6 402.6 434.6 402.5 435.6 402.2 436.6 402.5 437.6 402.3 438.7 402.7 439.7 403.2 440.7 402.6 441.7 402.7 442.7 403.4 443.8 403.1 444.8 402.7 445.8 403.3 446.8 403.3 447.8 403.3 448.8 403.8 449.9 403.6 450.9 403.5 451.9 403.7 452.9 403.7 453.9 403.8 454.9 403.7 456.0 403.5 457.0 403.4 458.0 403.6 459.0 404.0 460.0 404.3 461.1 404.1 462.1 403.5 463.1 403.3 464.1 403.8 465.1 403.8 466.1 404.0 467.2 404.0 468.2 403.8 469.2 403.9 470.2 403.8 471.2 404.0 472.2 404.1 473.3 404.3 474.3 404.4 475.3 404.0 476.3 403.1 477.3 403.3 478.4 404.1 479.4 404.5 480.4 404.3 481.4 404.5 482.4 404.9 483.4 404.5 484.5 404.6 485.5 404.4 486.5 404.0 487.5 404.4 488.5 404.8 489.5 405.0 490.6 405.2 491.6 404.8 492.6 404.4 493.6 404.5 494.6 404.6 495.7 404.8 496.7 404.8 497.7 405.0 498.7 405.1 499.7 404.5 500.7 404.2 501.8 404.6 502.8 405.0 503.8 404.6 504.8 404.2 505.8 404.8 506.8 405.3 507.9 404.9 508.9 404.6 509.9 404.8 510.9 405.0 511.9 404.9 513.0 404.5 514.0 404.4 515.0 404.9 516.0 405.1 517.0 404.9 518.0 404.7 519.1 405.1 520.1 405.2 521.1 405.3 522.1 405.5 523.1 405.5 524.2 405.5 525.2 405.5 526.2 405.5 527.2 405.2 528.2 404.9 529.2 405.0 530.3 405.4 531.3 405.2 532.3 405.4 533.3 405.5 534.3 405.4 535.3 404.9 536.4 404.9 537.4 405.1 538.4 405.5 539.4 405.5 540.4 405.2 541.5 405.3 542.5 405.5 543.5 405.5 544.5 405.5 545.5 405.3"/><path d="M73.3 403.6 74.3 402.2 75.3 400.7 76.4 399.7 77.4 398.6 78.4 396.5 79.4 394.6 80.4 392.9 81.4 390.2 82.5 387.2 83.5 384.0 84.5 380.7 85.5 377.8 86.5 374.8 87.5 371.4 88.6 368.7 89.6 365.9 90.6 362.1 91.6 359.1 92.6 356.1 93.7 352.6 94.7 350.1 95.7 347.2 96.7 344.2 97.7 341.1 98.7 338.6 99.8 336.3 100.8 333.4 101.8 329.8 102.8 326.5 103.8 324.6 104.8 322.0 105.9 318.5 106.9 314.8 107.9 310.8 108.9 306.3 109.9 303.8 111.0 300.9 112.0 296.6 113.0 294.1 114.0 291.2 115.0 288.0 116.0 284.8 117.1 281.0 118.1 278.8 119.1 275.8 120.1 272.5 121.1 269.8 122.2 267.0 123.2 264.7 124.2 262.3 125.2 260.0 126.2 257.8 127.2 256.3 128.3 253.5 129.3 250.5 130.3 247.9 131.3 247.7 132.3 247.5 133.3 244.5 134.4 243.9 135.4 243.6 136.4 240.8 137.4 239.0 138.4 239.9 139.5 239.2 140.5 237.5 141.5 237.3 142.5 237.3 143.5 237.1 144.5 237.4 145.6 237.6 146.6 236.5 147.6 236.0 148.6 235.3 149.6 235.5 150.6 237.9 151.7 238.0 152.7 236.7 153.7 236.6 154.7 237.0 155.7 238.2 156.8 238.0 157.8 238.7 158.8 239.9 159.8 240.4 160.8 242.1 161.8 242.0 162.9 243.5 163.9 245.6 164.9 244.9 165.9 245.6 166.9 246.6 167.9 247.7 169.0 249.8 170.0 250.1 171.0 251.6 172.0 254.5 173.0 256.6 174.1 258.5 175.1 259.4 176.1 260.5 177.1 262.7 178.1 265.2 179.1 266.8 180.2 269.1 181.2 271.3 182.2 272.3 183.2 274.2 184.2 275.6 185.2 277.0 186.3 279.1 187.3 279.4 188.3 280.3 189.3 282.1 190.3 284.0 191.4 285.6 192.4 286.8 193.4 288.2 194.4 289.0 195.4 291.1 196.4 293.5 197.5 294.9 198.5 298.0 199.5 300.1 200.5 300.0 201.5 300.6 202.6 302.3 203.6 303.5 204.6 304.2 205.6 306.2 206.6 307.7 207.6 308.3 208.7 310.1 209.7 312.7 210.7 313.8 211.7 314.8 212.7 316.9 213.7 318.1 214.8 319.4 215.8 320.3 216.8 320.9 217.8 322.0 218.8 323.2 219.9 325.1 220.9 326.4 221.9 326.8 222.9 327.9 223.9 328.1 224.9 328.9 226.0 331.1 227.0 331.5 228.0 331.9 229.0 333.1 230.0 334.4 231.0 335.1 232.1 335.6 233.1 336.3 234.1 337.6 235.1 338.6 236.1 339.1 237.2 339.9 238.2 342.1 239.2 343.5 240.2 343.6 241.2 344.2 242.2 344.8 243.3 345.3 244.3 346.0 245.3 347.2 246.3 348.2 247.3 348.5 248.3 349.5 249.4 350.8 250.4 350.9 251.4 351.7 252.4 353.7 253.4 354.5 254.5 354.8 255.5 355.8 256.5 356.2 257.5 356.8 258.5 358.0 259.5 358.7 260.6 359.3 261.6 360.3 262.6 361.1 263.6 361.8 264.6 362.8 265.6 363.7 266.7 364.4 267.7 365.3 268.7 366.3 269.7 366.4 270.7 366.8 271.8 367.9 272.8 368.6 273.8 369.3 274.8 370.0 275.8 370.7 276.8 371.6 277.9 372.0 278.9 372.7 279.9 373.3 280.9 374.3 281.9 375.5 283.0 375.3 284.0 375.6 285.0 376.7 286.0 377.1 287.0 377.7 288.0 378.3 289.1 379.1 290.1 379.8 291.1 379.8 292.1 380.1 293.1 380.1 294.1 381.0 295.2 381.2 296.2 381.6 297.2 383.0 298.2 383.8 299.2 383.3 300.3 383.1 301.3 384.1 302.3 384.6 303.3 385.1 304.3 384.9 305.3 385.0 306.4 385.3 307.4 385.6 308.4 387.0 309.4 387.0 310.4 386.8 311.4 387.4 312.5 387.2 313.5 387.5 314.5 387.9 315.5 388.1 316.5 388.8 317.6 388.9 318.6 389.1 319.6 389.2 320.6 389.1 321.6 389.6 322.6 389.9 323.7 390.0 324.7 390.5 325.7 390.6 326.7 390.8 327.7 391.1 328.7 391.5 329.8 391.8 330.8 391.6 331.8 392.0 332.8 392.4 333.8 392.6 334.9 392.5 335.9 392.7 336.9 392.9 337.9 392.6 338.9 392.8 339.9 393.7 341.0 393.9 342.0 393.4 343.0 393.7 344.0 393.8 345.0 393.8 346.0 394.1 347.1 394.4 348.1 394.8 349.1 394.9 350.1 394.9 351.1 394.9 352.2 394.9 353.2 395.3 354.2 395.5 355.2 395.4 356.2 396.0 357.2 396.4 358.3 396.3 359.3 396.3 360.3 396.3 361.3 396.4 362.3 396.7 363.4 396.6 364.4 396.5 365.4 397.1 366.4 397.3 367.4 397.3 368.4 397.1 369.5 397.1 370.5 397.7 371.5 397.7 372.5 397.7 373.5 397.9 374.5 397.6 375.6 397.7 376.6 398.0 377.6 397.9 378.6 398.4 379.6 398.4 380.7 398.1 381.7 398.4 382.7 398.8 383.7 399.0 384.7 398.8 385.7 399.2 386.8 398.9 387.8 398.7 388.8 399.4 389.8 399.6 390.8 399.4 391.8 399.3 392.9 399.5 393.9 399.6 394.9 399.5 395.9 400.1 396.9 400.6 398.0 400.6 399.0 400.6 400.0 400.2 401.0 400.1 402.0 400.8 403.0 401.1 404.1 400.7 405.1 400.8 406.1 401.2 407.1 401.1 408.1 401.5 409.1 401.5 410.2 401.1 411.2 401.2 412.2 401.6 413.2 401.9 414.2 401.9 415.3 401.8 416.3 401.7 417.3 401.8 418.3 401.5 419.3 401.3 420.3 401.9 421.4 402.4 422.4 402.0 423.4 402.0 424.4 402.1 425.4 401.8 426.4 402.2 427.5 402.7 428.5 402.6 429.5 402.8 430.5 403.1 431.5 403.0 432.6 402.7 433.6 402.8 434.6 403.0 435.6 403.1 436.6 403.4 437.6 403.0 438.7 403.3 439.7 403.8 440.7 403.2 441.7 403.4 442.7 403.4 443.8 402.9 444.8 403.3 445.8 403.5 446.8 403.6 447.8 403.6 448.8 403.4 449.9 403.5 450.9 403.2 451.9 403.2 452.9 403.3 453.9 403.3 454.9 403.8 456.0 403.9 457.0 403.6 458.0 404.0 459.0 403.9 460.0 403.6 461.1 403.8 462.1 404.1 463.1 404.1 464.1 403.9 465.1 404.0 466.1 404.1 467.2 404.5 468.2 404.3 469.2 404.1 470.2 404.9 471.2 404.9 472.2 404.6 473.3 404.3 474.3 404.4 475.3 404.5 476.3 404.5 477.3 404.1 478.4 403.8 479.4 403.9 480.4 404.3 481.4 404.5 482.4 404.6 483.4 404.6 484.5 404.3 485.5 404.8 486.5 405.2 487.5 405.1 488.5 405.2 489.5 405.1 490.6 405.0 491.6 405.2 492.6 405.0 493.6 404.6 494.6 404.9 495.7 405.2 496.7 404.9 497.7 404.8 498.7 405.0 499.7 404.8 500.7 404.5 501.8 404.5 502.8 404.8 503.8 404.5 504.8 404.1 505.8 404.6 506.8 405.0 507.9 404.7 508.9 404.9 509.9 405.0 510.9 404.9 511.9 405.1 513.0 405.2 514.0 405.4 515.0 405.5 516.0 405.5 517.0 405.0 518.0 404.3 519.1 404.5 520.1 404.8 521.1 404.8 522.1 404.6 523.1 404.6 524.2 404.7 525.2 405.1 526.2 405.2 527.2 405.2 528.2 405.5 529.2 405.5 530.3 405.3 531.3 404.9 532.3 405.3 533.3 405.1 534.3 404.5 535.3 405.0 536.4 405.4 537.4 405.3 538.4 405.0 539.4 405.1 540.4 405.5 541.5 405.4 542.5 405.5 543.5 405.5 544.5 405.0 545.5 404.9"/><path d="M73.3 402.3 74.3 401.8 75.3 401.5 76.4 400.8 77.4 399.6 78.4 398.0 79.4 396.6 80.4 395.5 81.4 394.1 82.5 392.0 83.5 389.5 84.5 387.4 85.5 385.1 86.5 382.1 87.5 379.8 88.6 377.4 89.6 374.6 90.6 372.6 91.6 370.3 92.6 368.0 93.7 366.1 94.7 363.8 95.7 361.5 96.7 358.9 97.7 356.3 98.7 353.8 99.8 351.0 100.8 349.7 101.8 347.3 102.8 344.2 103.8 341.6 104.8 338.5 105.9 335.6 106.9 331.8 107.9 329.4 108.9 326.9 109.9 323.3 111.0 321.3 112.0 318.1 113.0 314.6 114.0 312.3 115.0 309.8 116.0 305.5 117.1 302.7 118.1 302.1 119.1 299.8 120.1 296.7 121.1 294.2 122.2 292.0 123.2 290.2 124.2 288.0 125.2 285.8 126.2 284.7 127.2 282.9 128.3 280.5 129.3 277.9 130.3 275.9 131.3 275.0 132.3 273.8 133.3 272.2 134.4 269.9 135.4 269.2 136.4 269.0 137.4 267.4 138.4 267.3 139.5 266.9 140.5 265.8 141.5 265.6 142.5 264.9 143.5 263.7 144.5 263.0 145.6 263.4 146.6 263.7 147.6 262.2 148.6 262.8 149.6 263.7 150.6 262.7 151.7 262.8 152.7 263.1 153.7 263.3 154.7 263.6 155.7 263.4 156.8 264.4 157.8 265.6 158.8 266.1 159.8 267.0 160.8 267.6 161.8 268.6 162.9 268.9 163.9 268.2 164.9 268.5 165.9 269.6 166.9 271.9 167.9 272.8 169.0 273.9 170.0 276.0 171.0 276.1 172.0 277.9 173.0 279.8 174.1 280.5 175.1 282.5 176.1 284.6 177.1 285.9 178.1 287.3 179.1 288.6 180.2 289.3 181.2 291.9 182.2 294.1 183.2 295.0 184.2 296.6 185.2 298.3 186.3 299.0 187.3 299.9 188.3 302.0 189.3 303.4 190.3 303.8 191.4 305.3 192.4 307.2 193.4 307.3 194.4 307.7 195.4 310.2 196.4 312.6 197.5 313.0 198.5 314.1 199.5 315.6 200.5 316.5 201.5 317.4 202.6 319.5 203.6 321.7 204.6 322.4 205.6 322.4 206.6 323.2 207.6 325.5 208.7 326.5 209.7 326.9 210.7 328.3 211.7 329.9 212.7 330.8 213.7 331.3 214.8 332.5 215.8 333.8 216.8 334.8 217.8 336.1 218.8 337.3 219.9 338.0 220.9 338.7 221.9 339.7 222.9 340.1 223.9 340.7 224.9 341.5 226.0 342.9 227.0 343.7 228.0 344.1 229.0 345.3 230.0 346.1 231.0 346.2 232.1 346.4 233.1 347.8 234.1 349.3 235.1 349.8 236.1 350.4 237.2 350.7 238.2 351.8 239.2 353.7 240.2 354.1 241.2 354.3 242.2 355.0 243.3 355.6 244.3 355.8 245.3 356.9 246.3 358.5 247.3 359.7 248.3 360.3 249.4 360.2 250.4 361.1 251.4 361.8 252.4 362.5 253.4 363.1 254.5 363.8 255.5 365.3 256.5 366.4 257.5 367.3 258.5 368.3 259.5 368.5 260.6 368.5 261.6 368.8 262.6 369.7 263.6 371.1 264.6 372.0 265.6 372.4 266.7 372.6 267.7 373.7 268.7 374.2 269.7 374.5 270.7 375.8 271.8 376.4 272.8 376.4 273.8 377.3 274.8 378.0 275.8 378.0 276.8 378.1 277.9 378.6 278.9 379.9 279.9 381.0 280.9 381.0 281.9 381.7 283.0 382.6 284.0 383.2 285.0 383.0 286.0 382.7 287.0 383.5 288.0 384.1 289.1 384.7 290.1 385.3 291.1 385.4 292.1 385.9 293.1 386.1 294.1 386.4 295.2 387.3 296.2 387.2 297.2 387.4 298.2 387.9 299.2 388.3 300.3 389.3 301.3 389.4 302.3 389.4 303.3 389.6 304.3 389.9 305.3 390.9 306.4 390.7 307.4 390.4 308.4 390.7 309.4 391.3 310.4 391.4 311.4 391.7 312.5 392.2 313.5 392.3 314.5 392.5 315.5 392.3 316.5 392.5 317.6 392.8 318.6 392.7 319.6 393.4 320.6 394.0 321.6 393.9 322.6 393.9 323.7 393.9 324.7 394.4 325.7 394.5 326.7 394.0 327.7 394.4 328.7 395.0 329.8 395.1 330.8 395.1 331.8 395.1 332.8 395.1 333.8 395.2 334.9 395.4 335.9 395.4 336.9 395.9 337.9 396.6 338.9 396.1 339.9 396.3 341.0 396.4 342.0 396.5 343.0 396.7 344.0 396.8 345.0 397.0 346.0 396.9 347.1 396.9 348.1 397.1 349.1 396.7 350.1 396.7 351.1 397.5 352.2 397.4 353.2 397.1 354.2 397.1 355.2 397.0 356.2 397.6 357.2 397.9 358.3 397.5 359.3 397.8 360.3 398.1 361.3 398.9 362.3 399.2 363.4 398.2 364.4 398.6 365.4 399.2 366.4 398.8 367.4 398.7 368.4 398.5 369.5 399.1 370.5 399.5 371.5 399.1 372.5 399.4 373.5 399.7 374.5 399.1 375.6 398.9 376.6 399.3 377.6 400.3 378.6 400.5 379.6 399.9 380.7 400.1 381.7 400.2 382.7 399.6 383.7 399.7 384.7 400.7 385.7 400.6 386.8 400.6 387.8 400.8 388.8 400.8 389.8 400.7 390.8 400.7 391.8 401.2 392.9 401.3 393.9 401.0 394.9 401.2 395.9 401.1 396.9 400.9 398.0 401.5 399.0 401.6 400.0 401.1 401.0 400.9 402.0 401.4 403.0 401.6 404.1 401.8 405.1 402.3 406.1 402.1 407.1 401.8 408.1 401.9 409.1 402.0 410.2 402.1 411.2 402.3 412.2 402.3 413.2 402.1 414.2 402.3 415.3 402.3 416.3 402.8 417.3 403.2 418.3 402.5 419.3 402.0 420.3 402.3 421.4 402.8 422.4 403.2 423.4 403.1 424.4 402.7 425.4 403.2 426.4 403.3 427.5 402.9 428.5 403.0 429.5 403.3 430.5 403.4 431.5 403.5 432.6 403.3 433.6 403.0 434.6 403.6 435.6 403.4 436.6 402.9 437.6 403.4 438.7 403.2 439.7 403.3 440.7 403.8 441.7 403.3 442.7 403.9 443.8 404.0 444.8 403.6 445.8 403.8 446.8 404.1 447.8 404.0 448.8 404.0 449.9 404.4 450.9 404.2 451.9 404.3 452.9 403.9 453.9 404.0 454.9 404.5 456.0 404.3 457.0 404.2 458.0 404.0 459.0 403.8 460.0 404.1 461.1 404.3 462.1 404.3 463.1 404.1 464.1 404.0 465.1 404.3 466.1 404.9 467.2 404.3 468.2 403.7 469.2 404.1 470.2 404.3 471.2 404.5 472.2 404.8 473.3 404.8 474.3 404.6 475.3 404.7 476.3 405.0 477.3 404.9 478.4 404.5 479.4 404.6 480.4 404.7 481.4 405.1 482.4 405.1 483.4 404.8 484.5 405.0 485.5 405.3 486.5 405.0 487.5 404.8 488.5 404.8 489.5 404.8 490.6 404.8 491.6 404.8 492.6 405.2 493.6 405.2 494.6 405.0 495.7 404.8 496.7 404.9 497.7 405.1 498.7 404.8 499.7 404.5 500.7 404.5 501.8 404.6 502.8 404.7 503.8 404.7 504.8 404.6 505.8 404.7 506.8 404.9 507.9 405.0 508.9 404.5 509.9 404.5 510.9 405.1 511.9 405.2 513.0 405.2 514.0 405.0 515.0 405.3 516.0 405.5 517.0 405.5 518.0 405.4 519.1 405.4 520.1 405.1 521.1 404.9 522.1 404.6 523.1 404.7 524.2 405.2 525.2 405.5 526.2 405.5 527.2 405.4 528.2 405.5 529.2 405.5 530.3 405.2 531.3 405.1 532.3 405.2 533.3 405.3 534.3 405.4 535.3 405.5 536.4 405.5 537.4 405.5 538.4 404.9 539.4 404.9 540.4 405.2 541.5 405.4 542.5 405.2 543.5 405.1 544.5 405.3 545.5 405.1"/><path d="M73.3 402.9 74.3 402.5 75.3 401.8 76.4 401.4 77.4 400.5 78.4 399.4 79.4 398.2 80.4 396.7 81.4 395.7 82.5 394.3 83.5 392.7 84.5 391.0 85.5 388.6 86.5 386.8 87.5 385.0 88.6 382.4 89.6 379.8 90.6 377.7 91.6 375.9 92.6 373.2 93.7 370.9 94.7 369.7 95.7 367.0 96.7 364.5 97.7 362.9 98.7 360.5 99.8 358.0 100.8 355.7 101.8 353.2 102.8 351.3 103.8 348.5 104.8 345.5 105.9 343.5 106.9 341.1 107.9 337.7 108.9 334.8 109.9 332.5 111.0 329.5 112.0 326.9 113.0 325.1 114.0 322.3 115.0 318.8 116.0 316.2 117.1 313.3 118.1 311.0 119.1 309.0 120.1 306.2 121.1 304.5 122.2 302.5 123.2 299.7 124.2 298.4 125.2 296.6 126.2 294.8 127.2 294.2 128.3 292.4 129.3 290.2 130.3 289.1 131.3 287.7 132.3 285.9 133.3 284.4 134.4 284.1 135.4 283.1 136.4 281.4 137.4 281.0 138.4 280.7 139.5 279.9 140.5 279.4 141.5 278.6 142.5 277.4 143.5 276.2 144.5 275.8 145.6 275.9 146.6 275.7 147.6 275.4 148.6 276.0 149.6 276.2 150.6 275.8 151.7 276.3 152.7 276.8 153.7 277.2 154.7 277.4 155.7 278.1 156.8 278.2 157.8 278.2 158.8 279.0 159.8 279.3 160.8 279.6 161.8 280.6 162.9 281.6 163.9 282.7 164.9 284.4 165.9 285.3 166.9 284.5 167.9 285.4 169.0 287.0 170.0 286.6 171.0 288.3 172.0 289.5 173.0 289.7 174.1 291.3 175.1 292.4 176.1 293.9 177.1 296.7 178.1 298.2 179.1 299.5 180.2 301.7 181.2 303.4 182.2 303.1 183.2 304.0 184.2 306.2 185.2 307.5 186.3 308.6 187.3 309.6 188.3 311.0 189.3 312.6 190.3 314.2 191.4 315.1 192.4 315.6 193.4 315.6 194.4 316.5 195.4 317.7 196.4 319.1 197.5 321.0 198.5 322.8 199.5 323.9 200.5 325.3 201.5 326.5 202.6 326.2 203.6 327.0 204.6 328.3 205.6 329.7 206.6 331.7 207.6 332.9 208.7 333.7 209.7 334.2 210.7 334.4 211.7 336.2 212.7 338.1 213.7 338.9 214.8 339.8 215.8 341.1 216.8 341.8 217.8 342.2 218.8 342.9 219.9 344.3 220.9 345.2 221.9 346.2 222.9 346.6 223.9 347.1 224.9 348.2 226.0 348.7 227.0 349.4 228.0 350.3 229.0 351.3 230.0 351.1 231.0 351.1 232.1 352.3 233.1 352.4 234.1 353.3 235.1 354.5 236.1 355.2 237.2 355.8 238.2 356.4 239.2 357.4 240.2 358.4 241.2 359.2 242.2 359.5 243.3 361.0 244.3 362.1 245.3 362.4 246.3 363.2 247.3 364.3 248.3 364.8 249.4 365.2 250.4 366.1 251.4 366.8 252.4 367.9 253.4 368.6 254.5 369.4 255.5 370.2 256.5 370.5 257.5 371.0 258.5 371.6 259.5 372.3 260.6 372.4 261.6 372.9 262.6 374.5 263.6 375.5 264.6 375.9 265.6 376.5 266.7 377.0 267.7 377.8 268.7 377.8 269.7 378.1 270.7 379.2 271.8 379.8 272.8 380.3 273.8 380.4 274.8 380.7 275.8 381.3 276.8 382.7 277.9 383.4 278.9 382.8 279.9 382.9 280.9 383.6 281.9 385.0 283.0 385.3 284.0 385.4 285.0 386.4 286.0 386.8 287.0 386.5 288.0 386.4 289.1 386.9 290.1 387.8 291.1 387.7 292.1 388.0 293.1 389.0 294.1 389.4 295.2 389.4 296.2 389.2 297.2 389.7 298.2 390.0 299.2 390.6 300.3 390.8 301.3 391.5 302.3 391.6 303.3 391.2 304.3 391.7 305.3 392.2 306.4 392.3 307.4 392.1 308.4 392.3 309.4 392.8 310.4 393.3 311.4 393.8 312.5 394.0 313.5 393.9 314.5 394.0 315.5 394.1 316.5 394.1 317.6 394.2 318.6 394.4 319.6 394.6 320.6 394.7 321.6 395.0 322.6 395.1 323.7 395.7 324.7 395.6 325.7 395.6 326.7 395.9 327.7 395.7 328.7 395.8 329.8 395.9 330.8 396.5 331.8 396.4 332.8 396.2 333.8 396.6 334.9 396.7 335.9 396.6 336.9 396.5 337.9 396.8 338.9 397.5 339.9 397.7 341.0 397.4 342.0 397.0 343.0 397.1 344.0 397.6 345.0 397.5 346.0 397.6 347.1 398.0 348.1 398.0 349.1 398.4 350.1 398.3 351.1 398.0 352.2 398.3 353.2 398.8 354.2 398.7 355.2 398.3 356.2 398.5 357.2 399.2 358.3 399.0 359.3 399.2 360.3 399.9 361.3 399.7 362.3 399.5 363.4 399.5 364.4 399.6 365.4 399.5 366.4 399.5 367.4 399.8 368.4 399.9 369.5 399.8 370.5 399.5 371.5 399.6 372.5 399.7 373.5 400.7 374.5 401.1 375.6 400.6 376.6 400.4 377.6 400.8 378.6 400.6 379.6 400.2 380.7 400.7 381.7 400.9 382.7 400.9 383.7 401.1 384.7 401.0 385.7 401.0 386.8 401.5 387.8 401.6 388.8 401.4 389.8 401.6 390.8 401.4 391.8 401.4 392.9 401.4 393.9 401.0 394.9 401.7 395.9 401.9 396.9 401.5 398.0 401.6 399.0 402.2 400.0 402.2 401.0 401.6 402.0 402.0 403.0 402.4 404.1 402.1 405.1 402.3 406.1 402.4 407.1 402.5 408.1 402.3 409.1 402.1 410.2 402.6 411.2 402.5 412.2 402.6 413.2 402.8 414.2 402.6 415.3 402.5 416.3 402.5 417.3 402.6 418.3 402.7 419.3 402.8 420.3 402.8 421.4 402.6 422.4 402.8 423.4 403.1 424.4 402.9 425.4 403.1 426.4 403.4 427.5 403.4 428.5 403.6 429.5 404.0 430.5 403.6 431.5 403.7 432.6 403.6 433.6 403.3 434.6 403.6 435.6 403.6 436.6 403.6 437.6 403.7 438.7 403.9 439.7 403.9 440.7 403.6 441.7 403.4 442.7 403.3 443.8 403.5 444.8 403.9 445.8 404.3 446.8 404.2 447.8 403.7 448.8 403.9 449.9 404.0 450.9 403.6 451.9 403.8 452.9 403.9 453.9 403.9 454.9 404.5 456.0 404.7 457.0 404.4 458.0 404.2 459.0 404.3 460.0 404.6 461.1 404.6 462.1 404.5 463.1 404.3 464.1 404.1 465.1 404.0 466.1 404.2 467.2 404.3 468.2 404.4 469.2 404.4 470.2 404.1 471.2 404.7 472.2 405.1 473.3 404.5 474.3 404.3 475.3 404.6 476.3 404.8 477.3 404.4 478.4 404.6 479.4 405.2 480.4 405.2 481.4 405.0 482.4 404.8 483.4 404.8 484.5 404.6 485.5 404.4 486.5 404.9 487.5 405.1 488.5 405.1 489.5 405.0 490.6 404.5 491.6 404.6 492.6 404.7 493.6 404.9 494.6 405.0 495.7 404.4 496.7 404.7 497.7 405.0 498.7 404.4 499.7 405.1 500.7 405.5 501.8 405.5 502.8 405.0 503.8 404.9 504.8 405.1 505.8 404.9 506.8 404.9 507.9 405.0 508.9 405.1 509.9 404.9 510.9 405.0 511.9 404.9 513.0 404.8 514.0 405.3 515.0 405.1 516.0 404.9 517.0 405.4 518.0 405.5 519.1 405.4 520.1 405.5 521.1 405.2 522.1 405.2 523.1 405.3 524.2 405.2 525.2 404.9 526.2 404.8 527.2 405.5 528.2 405.5 529.2 405.5 530.3 405.4 531.3 405.2 532.3 405.0 533.3 405.0 534.3 405.2 535.3 405.1 536.4 405.2 537.4 405.2 538.4 405.0 539.4 404.9 540.4 405.2 541.5 405.5 542.5 405.5 543.5 405.4 544.5 405.5 545.5 405.5"/><path d="M73.3 403.5 74.3 402.9 75.3 402.6 76.4 402.9 77.4 402.6 78.4 402.2 79.4 401.9 80.4 401.5 81.4 400.5 82.5 400.0 83.5 399.6 84.5 398.5 85.5 397.8 86.5 396.9 87.5 395.8 88.6 394.9 89.6 393.8 90.6 392.8 91.6 391.7 92.6 390.8 93.7 389.8 94.7 388.3 95.7 387.0 96.7 386.1 97.7 384.9 98.7 383.3 99.8 381.6 100.8 379.7 101.8 378.0 102.8 376.5 103.8 374.7 104.8 373.2 105.9 372.3 106.9 370.3 107.9 368.3 108.9 366.9 109.9 365.1 111.0 363.0 112.0 361.4 113.0 359.9 114.0 358.0 115.0 356.8 116.0 355.5 117.1 353.2 118.1 350.9 119.1 349.1 120.1 347.1 121.1 345.9 122.2 345.1 123.2 344.1 124.2 343.1 125.2 342.2 126.2 341.6 127.2 339.8 128.3 339.2 129.3 338.9 130.3 337.2 131.3 336.2 132.3 335.7 133.3 334.8 134.4 333.6 135.4 333.0 136.4 332.0 137.4 331.0 138.4 330.5 139.5 329.6 140.5 329.4 141.5 329.1 142.5 328.6 143.5 328.3 144.5 327.7 145.6 327.6 146.6 327.8 147.6 328.0 148.6 327.8 149.6 327.4 150.6 326.7 151.7 326.4 152.7 327.0 153.7 327.5 154.7 328.1 155.7 329.2 156.8 329.2 157.8 328.9 158.8 329.5 159.8 330.3 160.8 329.8 161.8 329.8 162.9 331.0 163.9 330.3 164.9 330.0 165.9 331.4 166.9 331.8 167.9 332.5 169.0 332.9 170.0 333.9 171.0 335.6 172.0 335.9 173.0 336.5 174.1 336.7 175.1 337.8 176.1 339.4 177.1 339.6 178.1 340.0 179.1 340.7 180.2 341.6 181.2 342.0 182.2 343.0 183.2 344.5 184.2 344.8 185.2 345.7 186.3 346.8 187.3 347.5 188.3 348.4 189.3 349.3 190.3 350.0 191.4 350.8 192.4 351.2 193.4 351.9 194.4 352.1 195.4 351.7 196.4 352.7 197.5 354.0 198.5 355.2 199.5 355.5 200.5 355.9 201.5 356.8 202.6 357.7 203.6 358.2 204.6 358.9 205.6 359.9 206.6 360.8 207.6 361.8 208.7 361.8 209.7 362.4 210.7 363.3 211.7 363.6 212.7 364.2 213.7 364.6 214.8 365.9 215.8 366.6 216.8 366.3 217.8 367.5 218.8 368.5 219.9 368.3 220.9 368.7 221.9 369.6 222.9 369.6 223.9 370.0 224.9 370.4 226.0 371.0 227.0 371.4 228.0 371.3 229.0 371.7 230.0 373.0 231.0 373.3 232.1 373.2 233.1 374.0 234.1 374.2 235.1 374.9 236.1 375.2 237.2 375.4 238.2 376.0 239.2 376.4 240.2 377.6 241.2 378.1 242.2 378.2 243.3 378.6 244.3 378.9 245.3 379.8 246.3 380.5 247.3 380.5 248.3 381.2 249.4 382.1 250.4 382.8 251.4 382.8 252.4 382.9 253.4 383.8 254.5 384.8 255.5 384.8 256.5 385.3 257.5 386.1 258.5 386.3 259.5 387.3 260.6 387.5 261.6 387.6 262.6 387.7 263.6 387.6 264.6 388.4 265.6 389.1 266.7 389.2 267.7 389.9 268.7 390.7 269.7 390.6 270.7 390.8 271.8 391.5 272.8 391.8 273.8 392.1 274.8 392.5 275.8 392.6 276.8 392.4 277.9 393.0 278.9 393.9 279.9 394.0 280.9 394.3 281.9 394.7 283.0 394.3 284.0 393.9 285.0 394.3 286.0 395.3 287.0 395.5 288.0 395.9 289.1 396.5 290.1 395.8 291.1 395.7 292.1 396.5 293.1 397.3 294.1 397.0 295.2 396.8 296.2 397.3 297.2 397.3 298.2 397.5 299.2 398.2 300.3 398.0 301.3 397.9 302.3 398.4 303.3 398.7 304.3 398.6 305.3 398.6 306.4 398.6 307.4 398.6 308.4 398.6 309.4 398.8 310.4 399.3 311.4 399.7 312.5 399.9 313.5 399.4 314.5 398.6 315.5 399.1 316.5 400.1 317.6 399.9 318.6 399.6 319.6 399.9 320.6 400.1 321.6 400.4 322.6 400.5 323.7 400.1 324.7 399.7 325.7 400.0 326.7 400.5 327.7 400.4 328.7 400.2 329.8 400.2 330.8 400.7 331.8 400.8 332.8 400.5 333.8 400.7 334.9 401.3 335.9 401.1 336.9 400.8 337.9 400.7 338.9 400.8 339.9 401.2 341.0 401.4 342.0 401.5 343.0 401.7 344.0 401.6 345.0 401.6 346.0 401.2 347.1 401.5 348.1 401.7 349.1 401.7 350.1 401.4 351.1 401.2 352.2 401.7 353.2 401.6 354.2 401.5 355.2 401.9 356.2 401.6 357.2 401.4 358.3 401.4 359.3 401.3 360.3 401.6 361.3 401.8 362.3 402.3 363.4 402.2 364.4 402.0 365.4 402.0 366.4 402.1 367.4 402.4 368.4 402.7 369.5 402.4 370.5 402.0 371.5 402.2 372.5 402.5 373.5 402.2 374.5 402.5 375.6 402.9 376.6 403.0 377.6 402.7 378.6 402.4 379.6 402.8 380.7 403.3 381.7 403.3 382.7 402.7 383.7 402.8 384.7 403.1 385.7 403.0 386.8 403.2 387.8 403.4 388.8 403.0 389.8 403.2 390.8 403.6 391.8 403.4 392.9 403.3 393.9 403.4 394.9 403.4 395.9 403.3 396.9 403.6 398.0 403.8 399.0 403.6 400.0 403.2 401.0 403.1 402.0 403.5 403.0 403.6 404.1 403.3 405.1 403.6 406.1 403.7 407.1 403.5 408.1 403.3 409.1 403.7 410.2 404.0 411.2 403.8 412.2 404.0 413.2 403.8 414.2 403.6 415.3 404.1 416.3 404.3 417.3 404.1 418.3 404.3 419.3 404.2 420.3 404.0 421.4 404.1 422.4 404.1 423.4 403.8 424.4 403.9 425.4 404.3 426.4 404.0 427.5 404.0 428.5 404.5 429.5 404.7 430.5 404.4 431.5 404.1 432.6 404.2 433.6 404.3 434.6 404.4 435.6 404.6 436.6 404.8 437.6 404.6 438.7 404.4 439.7 404.2 440.7 404.4 441.7 404.8 442.7 404.9 443.8 404.5 444.8 404.6 445.8 404.7 446.8 404.2 447.8 404.4 448.8 404.5 449.9 405.0 450.9 405.2 451.9 405.1 452.9 405.0 453.9 404.7 454.9 404.9 456.0 404.7 457.0 404.5 458.0 404.8 459.0 405.0 460.0 405.2 461.1 405.2 462.1 404.4 463.1 404.6 464.1 404.9 465.1 404.9 466.1 404.8 467.2 404.6 468.2 404.9 469.2 405.3 470.2 405.4 471.2 404.8 472.2 404.8 473.3 404.9 474.3 404.9 475.3 405.5 476.3 405.3 477.3 404.9 478.4 405.1 479.4 405.2 480.4 405.1 481.4 405.1 482.4 405.1 483.4 405.0 484.5 405.5 485.5 405.5 486.5 405.3 487.5 405.4 488.5 405.2 489.5 405.1 490.6 405.1 491.6 404.8 492.6 404.9 493.6 405.4 494.6 405.5 495.7 405.1 496.7 405.0 497.7 405.4 498.7 405.4 499.7 405.1 500.7 405.0 501.8 405.0 502.8 405.3 503.8 405.4 504.8 405.3 505.8 405.3 506.8 405.5 507.9 405.5 508.9 405.5 509.9 405.2 510.9 404.7 511.9 404.6 513.0 404.8 514.0 405.2 515.0 405.2 516.0 405.1 517.0 405.2 518.0 405.4 519.1 405.5 520.1 405.3 521.1 404.9 522.1 405.0 523.1 404.9 524.2 404.3 525.2 405.0 526.2 405.5 527.2 405.5 528.2 405.5 529.2 405.5 530.3 405.5 531.3 405.2 532.3 405.0 533.3 405.1 534.3 405.3 535.3 405.3 536.4 405.3 537.4 405.2 538.4 405.3 539.4 405.3 540.4 405.5 541.5 405.5 542.5 404.9 543.5 405.0 544.5 405.5 545.5 405.4"/><path d="M73.3 404.3 74.3 404.4 75.3 403.7 76.4 403.1 77.4 403.1 78.4 403.1 79.4 402.5 80.4 402.5 81.4 402.6 82.5 401.9 83.5 400.9 84.5 400.3 85.5 400.2 86.5 399.3 87.5 398.3 88.6 397.3 89.6 396.3 90.6 395.5 91.6 394.5 92.6 393.8 93.7 392.9 94.7 391.6 95.7 390.7 96.7 389.6 97.7 388.8 98.7 387.8 99.8 386.3 100.8 385.5 101.8 384.3 102.8 382.8 103.8 381.5 104.8 380.0 105.9 378.3 106.9 377.1 107.9 376.0 108.9 375.0 109.9 373.8 111.0 371.7 112.0 370.3 113.0 369.2 114.0 368.3 115.0 367.4 116.0 365.9 117.1 364.6 118.1 363.7 119.1 361.7 120.1 360.4 121.1 359.0 122.2 358.2 123.2 357.7 124.2 356.8 125.2 356.1 126.2 355.3 127.2 354.6 128.3 353.6 129.3 353.1 130.3 352.1 131.3 350.7 132.3 350.2 133.3 349.6 134.4 348.6 135.4 348.2 136.4 346.8 137.4 346.9 138.4 347.3 139.5 346.8 140.5 346.4 141.5 345.6 142.5 343.9 143.5 343.5 144.5 344.0 145.6 343.5 146.6 344.1 147.6 344.2 148.6 343.4 149.6 343.4 150.6 343.9 151.7 343.8 152.7 344.4 153.7 345.0 154.7 344.5 155.7 344.2 156.8 344.9 157.8 345.4 158.8 345.4 159.8 345.6 160.8 345.6 161.8 345.8 162.9 346.3 163.9 347.1 164.9 347.8 165.9 347.6 166.9 348.2 167.9 348.7 169.0 348.9 170.0 349.8 171.0 350.0 172.0 350.5 173.0 351.6 174.1 352.2 175.1 352.5 176.1 352.1 177.1 353.5 178.1 355.0 179.1 355.1 180.2 355.5 181.2 356.2 182.2 357.8 183.2 357.9 184.2 358.1 185.2 359.1 186.3 359.7 187.3 360.6 188.3 360.9 189.3 360.9 190.3 361.0 191.4 362.0 192.4 362.7 193.4 363.1 194.4 363.8 195.4 364.2 196.4 364.6 197.5 365.3 198.5 366.1 199.5 366.4 200.5 366.8 201.5 367.7 202.6 367.7 203.6 368.1 204.6 368.9 205.6 369.3 206.6 369.7 207.6 370.9 208.7 371.2 209.7 371.2 210.7 372.6 211.7 373.0 212.7 372.6 213.7 373.0 214.8 374.4 215.8 375.1 216.8 374.8 217.8 375.5 218.8 376.3 219.9 376.4 220.9 376.1 221.9 376.5 222.9 377.1 223.9 377.5 224.9 378.4 226.0 378.3 227.0 378.2 228.0 379.2 229.0 379.5 230.0 379.3 231.0 379.9 232.1 380.4 233.1 380.5 234.1 381.1 235.1 381.7 236.1 382.1 237.2 382.4 238.2 383.0 239.2 383.3 240.2 383.8 241.2 384.1 242.2 384.2 243.3 384.9 244.3 385.0 245.3 384.7 246.3 385.0 247.3 386.2 248.3 386.6 249.4 386.6 250.4 387.3 251.4 387.8 252.4 388.2 253.4 388.1 254.5 388.4 255.5 389.2 256.5 389.8 257.5 390.2 258.5 390.3 259.5 390.1 260.6 390.9 261.6 391.7 262.6 391.9 263.6 392.4 264.6 392.5 265.6 392.6 266.7 393.3 267.7 393.9 268.7 393.6 269.7 393.6 270.7 394.0 271.8 394.4 272.8 394.9 273.8 394.9 274.8 395.2 275.8 395.8 276.8 395.9 277.9 395.6 278.9 396.1 279.9 396.3 280.9 396.1 281.9 396.7 283.0 397.0 284.0 397.0 285.0 397.1 286.0 397.1 287.0 397.7 288.0 398.3 289.1 398.0 290.1 397.8 291.1 398.1 292.1 398.2 293.1 398.1 294.1 398.6 295.2 398.8 296.2 398.9 297.2 399.1 298.2 398.7 299.2 399.3 300.3 399.7 301.3 399.5 302.3 399.8 303.3 399.8 304.3 400.1 305.3 400.4 306.4 400.1 307.4 399.8 308.4 400.2 309.4 400.8 310.4 400.2 311.4 399.8 312.5 400.3 313.5 400.8 314.5 401.1 315.5 400.9 316.5 401.0 317.6 400.8 318.6 400.7 319.6 401.0 320.6 401.3 321.6 401.6 322.6 401.6 323.7 401.4 324.7 401.4 325.7 401.6 326.7 401.5 327.7 401.4 328.7 401.2 329.8 401.4 330.8 401.9 331.8 401.9 332.8 401.5 333.8 401.6 334.9 402.0 335.9 402.0 336.9 401.9 337.9 401.8 338.9 402.1 339.9 402.3 341.0 401.9 342.0 401.7 343.0 401.7 344.0 401.8 345.0 402.1 346.0 402.4 347.1 402.2 348.1 402.4 349.1 402.6 350.1 402.8 351.1 402.9 352.2 402.7 353.2 402.9 354.2 402.7 355.2 402.6 356.2 402.8 357.2 402.8 358.3 402.9 359.3 402.6 360.3 402.5 361.3 402.8 362.3 403.0 363.4 403.2 364.4 403.0 365.4 403.0 366.4 403.1 367.4 403.1 368.4 402.6 369.5 402.7 370.5 403.1 371.5 403.2 372.5 402.7 373.5 402.3 374.5 402.8 375.6 403.0 376.6 403.3 377.6 403.5 378.6 403.3 379.6 403.3 380.7 403.6 381.7 403.8 382.7 403.5 383.7 403.3 384.7 403.9 385.7 404.0 386.8 403.3 387.8 403.5 388.8 403.7 389.8 403.9 390.8 403.9 391.8 403.8 392.9 404.3 393.9 404.1 394.9 403.4 395.9 403.5 396.9 404.3 398.0 404.1 399.0 403.8 400.0 403.6 401.0 403.9 402.0 404.6 403.0 404.5 404.1 404.1 405.1 404.0 406.1 403.8 407.1 404.2 408.1 404.7 409.1 404.4 410.2 404.1 411.2 404.0 412.2 404.3 413.2 404.6 414.2 404.3 415.3 404.0 416.3 403.6 417.3 403.9 418.3 404.1 419.3 404.3 420.3 404.8 421.4 404.7 422.4 404.7 423.4 404.8 424.4 404.8 425.4 404.7 426.4 404.6 427.5 404.5 428.5 404.5 429.5 404.6 430.5 404.3 431.5 404.3 432.6 404.5 433.6 404.6 434.6 404.7 435.6 404.6 436.6 404.7 437.6 404.6 438.7 404.2 439.7 404.2 440.7 404.6 441.7 405.2 442.7 405.2 443.8 404.8 444.8 404.6 445.8 404.7 446.8 404.9 447.8 404.6 448.8 404.7 449.9 404.8 450.9 404.5 451.9 405.0 452.9 405.1 453.9 405.0 454.9 405.2 456.0 405.5 457.0 405.5 458.0 405.2 459.0 404.9 460.0 405.0 461.1 405.1 462.1 405.3 463.1 405.1 464.1 405.4 465.1 405.5 466.1 405.3 467.2 404.9 468.2 405.2 469.2 405.3 470.2 404.9 471.2 404.6 472.2 404.9 473.3 405.1 474.3 404.5 475.3 404.7 476.3 404.8 477.3 405.3 478.4 405.4 479.4 404.8 480.4 405.5 481.4 405.4 482.4 404.8 483.4 404.7 484.5 404.7 485.5 404.9 486.5 405.3 487.5 405.4 488.5 405.3 489.5 405.1 490.6 405.2 491.6 405.3 492.6 405.0 493.6 405.0 494.6 404.7 495.7 404.3 496.7 405.0 497.7 405.5 498.7 405.5 499.7 405.5 500.7 405.4 501.8 405.4 502.8 405.5 503.8 405.5 504.8 405.2 505.8 405.2 506.8 405.4 507.9 405.2 508.9 405.0 509.9 405.1 510.9 405.0 511.9 405.3 513.0 405.5 514.0 405.4 515.0 405.3 516.0 405.0 517.0 405.4 518.0 405.3 519.1 405.3 520.1 405.4 521.1 405.1 522.1 405.5 523.1 405.5 524.2 405.5 525.2 405.4 526.2 405.5 527.2 405.4 528.2 405.5 529.2 405.5 530.3 405.4 531.3 405.5 532.3 405.5 533.3 405.5 534.3 405.5 535.3 405.5 536.4 405.5 537.4 405.3 538.4 405.3 539.4 405.2 540.4 404.8 541.5 404.9 542.5 404.9 543.5 405.1 544.5 405.5 545.5 405.4"/><path d="M73.3 404.2 74.3 404.1 75.3 403.9 76.4 403.5 77.4 403.8 78.4 403.9 79.4 403.2 80.4 402.7 81.4 402.3 82.5 402.6 83.5 402.5 84.5 401.5 85.5 400.7 86.5 399.9 87.5 399.8 88.6 399.6 89.6 399.0 90.6 398.2 91.6 397.6 92.6 396.9 93.7 395.7 94.7 395.2 95.7 395.2 96.7 394.7 97.7 393.2 98.7 392.5 99.8 391.9 100.8 390.6 101.8 389.3 102.8 388.2 103.8 387.3 104.8 386.5 105.9 385.6 106.9 384.5 107.9 383.4 108.9 382.4 109.9 381.4 111.0 380.8 112.0 379.8 113.0 378.5 114.0 377.6 115.0 376.5 116.0 375.6 117.1 374.2 118.1 373.6 119.1 373.0 120.1 372.0 121.1 371.1 122.2 370.8 123.2 370.3 124.2 369.2 125.2 368.8 126.2 368.3 127.2 367.9 128.3 366.9 129.3 365.8 130.3 365.1 131.3 364.9 132.3 365.2 133.3 364.3 134.4 363.9 135.4 363.3 136.4 362.5 137.4 362.3 138.4 361.6 139.5 361.2 140.5 360.5 141.5 360.1 142.5 360.8 143.5 360.5 144.5 360.4 145.6 360.5 146.6 360.4 147.6 360.6 148.6 359.7 149.6 359.6 150.6 360.1 151.7 360.2 152.7 360.1 153.7 359.6 154.7 359.9 155.7 360.9 156.8 360.5 157.8 360.8 158.8 361.3 159.8 360.7 160.8 360.8 161.8 361.5 162.9 361.9 163.9 362.2 164.9 362.5 165.9 362.4 166.9 362.2 167.9 362.3 169.0 363.2 170.0 364.1 171.0 364.2 172.0 364.9 173.0 365.7 174.1 365.7 175.1 366.4 176.1 367.1 177.1 367.2 178.1 367.9 179.1 368.7 180.2 368.9 181.2 369.1 182.2 369.8 183.2 369.9 184.2 370.1 185.2 370.9 186.3 371.3 187.3 371.8 188.3 372.4 189.3 372.4 190.3 372.4 191.4 373.2 192.4 373.4 193.4 374.0 194.4 374.5 195.4 374.7 196.4 375.5 197.5 375.7 198.5 376.2 199.5 376.7 200.5 376.9 201.5 377.4 202.6 377.1 203.6 377.5 204.6 378.4 205.6 379.0 206.6 379.3 207.6 380.0 208.7 380.6 209.7 380.7 210.7 380.6 211.7 381.5 212.7 382.0 213.7 381.8 214.8 382.1 215.8 382.8 216.8 382.9 217.8 383.2 218.8 383.6 219.9 383.2 220.9 384.2 221.9 384.8 222.9 384.4 223.9 384.7 224.9 385.2 226.0 385.6 227.0 386.0 228.0 386.1 229.0 385.9 230.0 386.3 231.0 386.9 232.1 387.1 233.1 387.2 234.1 387.3 235.1 387.6 236.1 387.9 237.2 388.5 238.2 389.4 239.2 389.3 240.2 388.6 241.2 389.4 242.2 390.2 243.3 390.1 244.3 390.0 245.3 390.2 246.3 390.4 247.3 390.9 248.3 391.4 249.4 391.5 250.4 392.0 251.4 392.1 252.4 392.1 253.4 392.5 254.5 393.0 255.5 393.3 256.5 393.7 257.5 394.1 258.5 394.8 259.5 395.4 260.6 394.9 261.6 395.0 262.6 395.4 263.6 395.9 264.6 395.9 265.6 395.6 266.7 396.2 267.7 396.4 268.7 396.5 269.7 396.5 270.7 396.7 271.8 397.6 272.8 397.9 273.8 397.4 274.8 397.4 275.8 398.0 276.8 398.1 277.9 398.2 278.9 398.3 279.9 398.9 280.9 399.4 281.9 399.0 283.0 399.0 284.0 399.2 285.0 398.9 286.0 399.1 287.0 399.6 288.0 399.8 289.1 400.1 290.1 400.1 291.1 400.4 292.1 401.0 293.1 400.5 294.1 400.2 295.2 400.3 296.2 400.4 297.2 400.7 298.2 400.7 299.2 400.6 300.3 401.1 301.3 401.1 302.3 401.2 303.3 401.4 304.3 400.8 305.3 400.9 306.4 401.1 307.4 401.3 308.4 401.6 309.4 401.6 310.4 401.7 311.4 401.9 312.5 402.3 313.5 402.1 314.5 402.3 315.5 402.6 316.5 402.1 317.6 402.1 318.6 402.5 319.6 402.7 320.6 402.5 321.6 402.4 322.6 402.4 323.7 402.4 324.7 402.1 325.7 402.2 326.7 403.0 327.7 403.0 328.7 402.6 329.8 402.6 330.8 403.0 331.8 402.8 332.8 402.5 333.8 402.8 334.9 403.2 335.9 403.1 336.9 402.8 337.9 402.6 338.9 402.7 339.9 403.3 341.0 403.2 342.0 403.2 343.0 403.1 344.0 403.2 345.0 403.4 346.0 403.2 347.1 403.2 348.1 403.3 349.1 403.5 350.1 403.4 351.1 403.4 352.2 403.4 353.2 403.3 354.2 403.8 355.2 403.8 356.2 403.1 357.2 403.0 358.3 403.2 359.3 403.2 360.3 403.5 361.3 403.9 362.3 403.6 363.4 403.2 364.4 403.2 365.4 403.4 366.4 403.5 367.4 403.6 368.4 403.6 369.5 403.6 370.5 403.7 371.5 403.9 372.5 404.1 373.5 403.8 374.5 403.8 375.6 404.4 376.6 404.3 377.6 404.3 378.6 404.0 379.6 403.4 380.7 403.7 381.7 404.0 382.7 404.4 383.7 404.3 384.7 404.1 385.7 404.2 386.8 404.2 387.8 404.0 388.8 403.9 389.8 404.3 390.8 404.9 391.8 404.7 392.9 404.4 393.9 404.3 394.9 403.9 395.9 403.7 396.9 403.9 398.0 404.1 399.0 403.8 400.0 404.1 401.0 404.4 402.0 404.2 403.0 404.3 404.1 404.6 405.1 404.7 406.1 404.7 407.1 404.7 408.1 404.5 409.1 404.5 410.2 404.4 411.2 404.1 412.2 404.6 413.2 404.7 414.2 404.5 415.3 404.5 416.3 404.3 417.3 404.6 418.3 404.6 419.3 404.7 420.3 404.8 421.4 404.6 422.4 404.7 423.4 404.7 424.4 404.9 425.4 404.9 426.4 404.9 427.5 404.9 428.5 404.6 429.5 404.6 430.5 404.8 431.5 404.4 432.6 404.3 433.6 404.9 434.6 405.0 435.6 404.8 436.6 404.7 437.6 404.8 438.7 404.9 439.7 405.1 440.7 405.0 441.7 404.9 442.7 404.9 443.8 405.2 444.8 405.1 445.8 405.2 446.8 405.4 447.8 405.1 448.8 405.2 449.9 405.3 450.9 405.0 451.9 405.3 452.9 405.2 453.9 404.9 454.9 405.1 456.0 405.2 457.0 405.0 458.0 404.8 459.0 405.0 460.0 405.3 461.1 405.5 462.1 405.4 463.1 405.1 464.1 404.9 465.1 405.0 466.1 404.8 467.2 404.9 468.2 405.3 469.2 405.3 470.2 404.9 471.2 405.2 472.2 405.5 473.3 405.1 474.3 405.1 475.3 404.7 476.3 404.5 477.3 404.8 478.4 405.3 479.4 405.3 480.4 405.2 481.4 405.3 482.4 405.2 483.4 405.3 484.5 405.2 485.5 404.8 486.5 404.7 487.5 405.0 488.5 405.5 489.5 405.5 490.6 404.9 491.6 405.1 492.6 405.4 493.6 405.3 494.6 405.3 495.7 405.3 496.7 405.4 497.7 405.5 498.7 405.5 499.7 405.5 500.7 405.5 501.8 405.2 502.8 405.5 503.8 405.4 504.8 405.3 505.8 405.3 506.8 405.2 507.9 405.4 508.9 405.5 509.9 405.5 510.9 405.5 511.9 405.5 513.0 405.2 514.0 404.8 515.0 405.4 516.0 405.5 517.0 405.2 518.0 405.4 519.1 405.4 520.1 405.1 521.1 405.3 522.1 405.5 523.1 405.4 524.2 405.5 525.2 405.5 526.2 405.4 527.2 405.5 528.2 405.5 529.2 405.5 530.3 405.2 531.3 405.2 532.3 405.5 533.3 405.4 534.3 405.2 535.3 405.3 536.4 405.1 537.4 405.4 538.4 405.5 539.4 405.5 540.4 405.5 541.5 405.2 542.5 404.9 543.5 405.5 544.5 405.5 545.5 405.5"/><path d="M73.3 404.6 74.3 404.7 75.3 404.7 76.4 404.3 77.4 404.3 78.4 404.0 79.4 404.0 80.4 404.0 81.4 403.8 82.5 403.4 83.5 403.0 84.5 402.8 85.5 402.2 86.5 402.1 87.5 401.7 88.6 401.1 89.6 400.8 90.6 400.2 91.6 399.6 92.6 398.9 93.7 398.2 94.7 397.9 95.7 397.8 96.7 397.4 97.7 396.6 98.7 395.5 99.8 394.9 100.8 394.7 101.8 394.0 102.8 393.1 103.8 392.4 104.8 391.9 105.9 391.7 106.9 391.0 107.9 389.5 108.9 388.6 109.9 388.7 111.0 388.0 112.0 387.3 113.0 386.1 114.0 385.0 115.0 385.0 116.0 384.1 117.1 383.3 118.1 382.6 119.1 381.8 120.1 381.5 121.1 380.8 122.2 380.3 123.2 379.7 124.2 378.9 125.2 379.0 126.2 379.1 127.2 378.0 128.3 376.8 129.3 377.2 130.3 376.7 131.3 375.9 132.3 376.0 133.3 375.6 134.4 375.2 135.4 374.4 136.4 373.9 137.4 374.4 138.4 373.7 139.5 372.8 140.5 373.4 141.5 373.6 142.5 373.4 143.5 373.1 144.5 372.7 145.6 372.5 146.6 372.7 147.6 372.9 148.6 372.5 149.6 372.3 150.6 371.9 151.7 372.1 152.7 372.5 153.7 372.3 154.7 372.8 155.7 372.6 156.8 372.5 157.8 373.2 158.8 373.4 159.8 373.1 160.8 373.5 161.8 373.5 162.9 373.2 163.9 373.8 164.9 373.8 165.9 373.5 166.9 373.9 167.9 374.5 169.0 374.5 170.0 374.5 171.0 375.5 172.0 376.2 173.0 376.4 174.1 376.7 175.1 377.4 176.1 377.4 177.1 377.4 178.1 378.0 179.1 378.0 180.2 378.5 181.2 379.2 182.2 379.3 183.2 379.8 184.2 380.2 185.2 380.2 186.3 380.5 187.3 380.6 188.3 381.1 189.3 381.7 190.3 382.1 191.4 382.5 192.4 382.6 193.4 382.6 194.4 382.5 195.4 383.0 196.4 383.1 197.5 383.1 198.5 383.7 199.5 384.5 200.5 385.3 201.5 385.4 202.6 385.4 203.6 385.8 204.6 386.1 205.6 386.6 206.6 386.5 207.6 386.7 208.7 387.5 209.7 387.3 210.7 387.9 211.7 388.0 212.7 387.7 213.7 388.3 214.8 389.0 215.8 389.2 216.8 389.6 217.8 389.4 218.8 389.2 219.9 389.9 220.9 390.3 221.9 390.2 222.9 389.9 223.9 390.5 224.9 391.1 226.0 391.4 227.0 391.3 228.0 391.0 229.0 390.8 230.0 391.1 231.0 391.9 232.1 392.2 233.1 392.1 234.1 392.5 235.1 392.7 236.1 392.5 237.2 393.0 238.2 393.5 239.2 393.3 240.2 393.0 241.2 393.5 242.2 394.0 243.3 393.7 244.3 394.2 245.3 394.9 246.3 395.2 247.3 395.4 248.3 395.4 249.4 395.6 250.4 396.0 251.4 396.4 252.4 396.7 253.4 396.8 254.5 396.6 255.5 396.7 256.5 397.2 257.5 397.2 258.5 397.1 259.5 397.6 260.6 398.0 261.6 397.9 262.6 397.9 263.6 398.4 264.6 398.6 265.6 398.6 266.7 398.6 267.7 398.9 268.7 399.1 269.7 399.0 270.7 399.5 271.8 399.5 272.8 399.3 273.8 399.9 274.8 399.8 275.8 399.9 276.8 400.6 277.9 400.6 278.9 400.3 279.9 400.2 280.9 400.5 281.9 400.5 283.0 400.5 284.0 400.6 285.0 400.2 286.0 400.5 287.0 401.7 288.0 401.9 289.1 401.7 290.1 401.7 291.1 401.5 292.1 401.9 293.1 402.2 294.1 402.1 295.2 402.0 296.2 402.5 297.2 402.4 298.2 401.9 299.2 402.2 300.3 402.2 301.3 402.5 302.3 402.6 303.3 402.2 304.3 402.0 305.3 402.2 306.4 402.5 307.4 402.9 308.4 402.6 309.4 402.3 310.4 402.7 311.4 403.3 312.5 403.5 313.5 403.5 314.5 403.1 315.5 402.7 316.5 403.1 317.6 403.3 318.6 402.6 319.6 402.3 320.6 403.2 321.6 403.5 322.6 403.5 323.7 403.9 324.7 403.6 325.7 402.8 326.7 402.5 327.7 403.0 328.7 403.5 329.8 403.4 330.8 403.2 331.8 403.5 332.8 404.2 333.8 403.5 334.9 403.1 335.9 403.2 336.9 403.2 337.9 403.2 338.9 403.4 339.9 403.7 341.0 403.2 342.0 403.1 343.0 403.6 344.0 403.6 345.0 403.7 346.0 404.2 347.1 404.0 348.1 403.4 349.1 403.3 350.1 403.9 351.1 403.9 352.2 403.5 353.2 403.8 354.2 404.5 355.2 404.2 356.2 403.5 357.2 403.7 358.3 404.2 359.3 404.7 360.3 404.1 361.3 403.6 362.3 403.8 363.4 404.0 364.4 404.0 365.4 404.1 366.4 404.3 367.4 404.4 368.4 404.3 369.5 404.2 370.5 404.1 371.5 403.9 372.5 404.2 373.5 404.0 374.5 404.1 375.6 404.4 376.6 404.0 377.6 403.8 378.6 404.5 379.6 404.6 380.7 403.9 381.7 403.8 382.7 404.6 383.7 405.0 384.7 404.6 385.7 404.6 386.8 404.3 387.8 404.3 388.8 404.4 389.8 404.1 390.8 404.7 391.8 405.1 392.9 404.9 393.9 404.7 394.9 404.4 395.9 404.4 396.9 404.5 398.0 404.8 399.0 405.5 400.0 405.4 401.0 404.7 402.0 404.7 403.0 405.0 404.1 404.9 405.1 404.3 406.1 404.4 407.1 404.9 408.1 405.1 409.1 404.6 410.2 404.4 411.2 404.7 412.2 404.5 413.2 404.4 414.2 404.8 415.3 404.9 416.3 404.5 417.3 404.6 418.3 404.6 419.3 404.8 420.3 405.1 421.4 405.1 422.4 404.9 423.4 404.9 424.4 405.0 425.4 405.1 426.4 405.2 427.5 405.1 428.5 405.1 429.5 405.0 430.5 405.0 431.5 405.1 432.6 405.5 433.6 405.2 434.6 404.9 435.6 405.2 436.6 405.3 437.6 405.0 438.7 405.1 439.7 405.2 440.7 404.7 441.7 404.5 442.7 404.5 443.8 404.7 444.8 405.2 445.8 405.1 446.8 404.6 447.8 404.7 448.8 404.8 449.9 405.0 450.9 405.2 451.9 405.0 452.9 404.7 453.9 405.1 454.9 405.2 456.0 404.9 457.0 405.0 458.0 405.0 459.0 404.9 460.0 404.8 461.1 404.8 462.1 405.3 463.1 405.3 464.1 405.0 465.1 405.4 466.1 405.3 467.2 405.4 468.2 405.3 469.2 404.7 470.2 405.0 471.2 405.2 472.2 405.0 473.3 405.0 474.3 405.4 475.3 405.4 476.3 405.1 477.3 405.1 478.4 405.1 479.4 405.1 480.4 405.0 481.4 405.1 482.4 404.9 483.4 405.0 484.5 405.1 485.5 405.1 486.5 405.2 487.5 405.3 488.5 405.3 489.5 404.9 490.6 405.1 491.6 405.2 492.6 405.1 493.6 405.5 494.6 405.5 495.7 405.0 496.7 405.2 497.7 405.5 498.7 405.5 499.7 405.4 500.7 405.1 501.8 405.0 502.8 405.4 503.8 405.5 504.8 405.4 505.8 405.4 506.8 405.5 507.9 405.5 508.9 405.5 509.9 405.3 510.9 405.4 511.9 405.5 513.0 405.5 514.0 405.5 515.0 405.3 516.0 405.5 517.0 405.5 518.0 405.4 519.1 405.5 520.1 404.9 521.1 405.4 522.1 405.5 523.1 405.4 524.2 405.1 525.2 405.5 526.2 405.5 527.2 405.5 528.2 405.5 529.2 405.1 530.3 405.2 531.3 405.5 532.3 405.1 533.3 404.8 534.3 405.1 535.3 405.5 536.4 405.5 537.4 405.5 538.4 405.5 539.4 405.5 540.4 405.5 541.5 405.5 542.5 405.5 543.5 405.5 544.5 405.2 545.5 405.3"/><path d="M73.3 405.2 74.3 404.9 75.3 404.5 76.4 404.1 77.4 404.0 78.4 404.1 79.4 403.7 80.4 403.3 81.4 403.6 82.5 403.4 83.5 402.9 84.5 403.0 85.5 402.7 86.5 402.4 87.5 402.0 88.6 402.0 89.6 401.4 90.6 400.5 91.6 400.4 92.6 400.0 93.7 398.9 94.7 398.3 95.7 398.4 96.7 397.7 97.7 397.2 98.7 397.1 99.8 396.4 100.8 395.8 101.8 394.9 102.8 394.0 103.8 393.7 104.8 393.2 105.9 392.4 106.9 391.8 107.9 391.2 108.9 390.6 109.9 390.2 111.0 389.4 112.0 388.8 113.0 388.1 114.0 387.3 115.0 386.9 116.0 386.4 117.1 385.6 118.1 384.9 119.1 384.1 120.1 383.5 121.1 383.2 122.2 382.3 123.2 381.5 124.2 381.4 125.2 381.0 126.2 380.6 127.2 380.5 128.3 380.2 129.3 379.1 130.3 378.5 131.3 378.6 132.3 378.5 133.3 378.2 134.4 377.2 135.4 376.9 136.4 376.8 137.4 376.3 138.4 376.2 139.5 375.9 140.5 375.8 141.5 376.0 142.5 376.1 143.5 375.4 144.5 375.1 145.6 375.6 146.6 375.3 147.6 375.4 148.6 375.7 149.6 375.7 150.6 375.7 151.7 375.6 152.7 375.5 153.7 375.5 154.7 375.9 155.7 376.0 156.8 376.0 157.8 376.2 158.8 376.0 159.8 375.8 160.8 376.2 161.8 376.8 162.9 376.8 163.9 377.0 164.9 377.2 165.9 377.1 166.9 377.5 167.9 377.9 169.0 378.2 170.0 377.8 171.0 377.9 172.0 378.8 173.0 378.8 174.1 378.9 175.1 379.2 176.1 379.9 177.1 380.8 178.1 380.0 179.1 380.1 180.2 381.3 181.2 381.6 182.2 381.5 183.2 382.2 184.2 382.6 185.2 382.6 186.3 382.8 187.3 383.0 188.3 383.6 189.3 384.1 190.3 384.8 191.4 384.7 192.4 384.7 193.4 385.3 194.4 384.8 195.4 385.1 196.4 385.6 197.5 385.8 198.5 386.0 199.5 386.2 200.5 386.8 201.5 386.7 202.6 386.9 203.6 387.8 204.6 388.1 205.6 387.9 206.6 388.4 207.6 388.6 208.7 388.4 209.7 388.3 210.7 388.9 211.7 389.5 212.7 390.0 213.7 390.5 214.8 390.3 215.8 390.3 216.8 390.5 217.8 390.9 218.8 391.2 219.9 391.5 220.9 391.4 221.9 391.4 222.9 391.5 223.9 391.6 224.9 391.6 226.0 392.4 227.0 392.9 228.0 392.7 229.0 392.9 230.0 392.8 231.0 392.6 232.1 393.0 233.1 393.4 234.1 393.2 235.1 393.5 236.1 394.1 237.2 394.0 238.2 394.0 239.2 394.1 240.2 394.3 241.2 394.6 242.2 395.0 243.3 395.6 244.3 395.7 245.3 396.3 246.3 396.4 247.3 395.8 248.3 396.0 249.4 396.5 250.4 396.4 251.4 396.6 252.4 396.8 253.4 396.5 254.5 396.7 255.5 397.2 256.5 397.4 257.5 397.8 258.5 398.0 259.5 398.2 260.6 398.2 261.6 398.7 262.6 399.2 263.6 398.9 264.6 399.2 265.6 399.5 266.7 399.6 267.7 399.6 268.7 399.4 269.7 399.3 270.7 399.5 271.8 400.1 272.8 400.3 273.8 400.2 274.8 400.0 275.8 400.7 276.8 401.0 277.9 401.1 278.9 401.1 279.9 400.7 280.9 400.9 281.9 400.9 283.0 401.0 284.0 401.4 285.0 401.5 286.0 401.2 287.0 401.4 288.0 401.7 289.1 402.0 290.1 401.9 291.1 401.8 292.1 402.3 293.1 402.3 294.1 402.4 295.2 402.4 296.2 402.1 297.2 401.9 298.2 402.0 299.2 401.9 300.3 402.4 301.3 402.7 302.3 402.2 303.3 401.9 304.3 402.6 305.3 403.4 306.4 403.0 307.4 402.9 308.4 403.2 309.4 403.1 310.4 403.1 311.4 403.7 312.5 403.6 313.5 403.1 314.5 403.0 315.5 402.9 316.5 403.0 317.6 403.3 318.6 403.5 319.6 403.8 320.6 403.8 321.6 403.3 322.6 403.1 323.7 402.9 324.7 403.1 325.7 403.9 326.7 403.7 327.7 403.2 328.7 403.6 329.8 404.2 330.8 403.9 331.8 403.5 332.8 403.7 333.8 404.0 334.9 403.9 335.9 404.1 336.9 404.2 337.9 404.0 338.9 403.8 339.9 404.0 341.0 404.5 342.0 404.0 343.0 403.7 344.0 404.1 345.0 404.1 346.0 404.1 347.1 404.2 348.1 404.2 349.1 404.0 350.1 403.8 351.1 404.0 352.2 404.4 353.2 404.2 354.2 403.7 355.2 403.9 356.2 404.3 357.2 404.2 358.3 404.2 359.3 403.9 360.3 404.0 361.3 404.1 362.3 404.1 363.4 404.2 364.4 404.4 365.4 404.6 366.4 404.6 367.4 404.5 368.4 404.5 369.5 404.2 370.5 404.1 371.5 404.2 372.5 404.0 373.5 404.6 374.5 404.8 375.6 404.3 376.6 404.4 377.6 404.7 378.6 404.6 379.6 404.1 380.7 404.0 381.7 404.3 382.7 404.4 383.7 404.2 384.7 404.0 385.7 403.9 386.8 404.3 387.8 404.5 388.8 404.5 389.8 404.5 390.8 404.7 391.8 404.6 392.9 404.6 393.9 405.0 394.9 404.8 395.9 404.7 396.9 404.9 398.0 405.2 399.0 405.0 400.0 404.6 401.0 404.8 402.0 404.7 403.0 404.7 404.1 404.9 405.1 404.6 406.1 404.5 407.1 404.7 408.1 404.3 409.1 404.6 410.2 405.0 411.2 405.0 412.2 404.8 413.2 404.8 414.2 405.2 415.3 404.9 416.3 404.5 417.3 404.9 418.3 404.9 419.3 404.7 420.3 404.4 421.4 404.1 422.4 404.8 423.4 405.2 424.4 405.2 425.4 405.2 426.4 405.0 427.5 404.9 428.5 404.9 429.5 405.3 430.5 405.5 431.5 404.9 432.6 404.6 433.6 404.9 434.6 405.1 435.6 405.2 436.6 405.1 437.6 405.4 438.7 405.3 439.7 405.1 440.7 405.2 441.7 405.5 442.7 405.5 443.8 404.8 444.8 405.3 445.8 405.3 446.8 404.8 447.8 405.2 448.8 405.5 449.9 405.3 450.9 404.9 451.9 405.0 452.9 405.1 453.9 405.4 454.9 405.2 456.0 405.2 457.0 405.2 458.0 405.4 459.0 405.5 460.0 405.5 461.1 405.3 462.1 405.3 463.1 405.5 464.1 405.3 465.1 405.1 466.1 404.8 467.2 404.5 468.2 404.8 469.2 405.0 470.2 405.5 471.2 405.5 472.2 405.5 473.3 405.4 474.3 405.5 475.3 405.5 476.3 405.5 477.3 405.3 478.4 405.0 479.4 405.3 480.4 405.4 481.4 405.3 482.4 405.4 483.4 405.5 484.5 405.5 485.5 405.5 486.5 405.0 487.5 405.1 488.5 405.2 489.5 405.2 490.6 404.9 491.6 404.9 492.6 405.5 493.6 405.5 494.6 405.4 495.7 405.0 496.7 405.0 497.7 405.1 498.7 405.2 499.7 405.5 500.7 405.5 501.8 405.5 502.8 405.5 503.8 405.5 504.8 405.5 505.8 405.4 506.8 405.5 507.9 405.5 508.9 405.1 509.9 405.5 510.9 405.5 511.9 405.2 513.0 405.3 514.0 405.3 515.0 405.2 516.0 405.2 517.0 405.2 518.0 405.4 519.1 405.4 520.1 405.2 521.1 405.2 522.1 405.5 523.1 405.5 524.2 405.5 525.2 405.5 526.2 405.5 527.2 405.4 528.2 405.4 529.2 405.5 530.3 405.4 531.3 405.1 532.3 404.9 533.3 405.3 534.3 405.5 535.3 405.4 536.4 405.5 537.4 405.5 538.4 405.5 539.4 405.5 540.4 405.5 541.5 405.5 542.5 405.2 543.5 405.4 544.5 405.5 545.5 405.4"/></g>
<g fill="none" stroke="#4c4c4c" stroke-width="1.15" stroke-linejoin="round"><path d="M78.6 934.2 79.7 933.1 80.8 932.0 81.8 930.7 82.9 929.2 84.0 927.4 85.1 925.5 86.1 923.3 87.2 920.8 88.3 918.0 89.3 915.0 90.4 911.7 91.5 907.9 92.5 903.7 93.6 899.2 94.7 894.2 95.7 888.6 96.8 883.0 97.9 877.1 99.0 870.9 100.0 864.5 101.1 858.2 102.2 851.7 103.2 844.6 104.3 837.1 105.4 829.5 106.4 821.5 107.5 813.2 108.6 804.8 109.7 796.7 110.7 788.2 111.8 779.4 112.9 770.6 113.9 761.2 115.0 751.6 116.1 742.3 117.1 733.2 118.2 724.6 119.3 716.1 120.3 708.2 121.4 700.5 122.5 693.2 123.6 686.0 124.6 678.7 125.7 672.0 126.8 664.9 127.8 658.0 128.9 650.4 130.0 643.8 131.0 637.4 132.1 630.6 133.2 625.2 134.3 619.7 135.3 615.2 136.4 610.8 137.5 607.2 138.5 603.9 139.6 600.9 140.7 599.1 141.7 597.5 142.8 596.3 143.9 595.1 144.9 595.6 146.0 595.4 147.1 595.1 148.2 595.0 149.2 595.5 150.3 595.8 151.4 596.2 152.4 597.1 153.5 597.8 154.6 599.4 155.6 600.6 156.7 602.7 157.8 604.0 158.9 605.5 159.9 607.2 161.0 609.2 162.1 611.3 163.1 612.9 164.2 614.7 165.3 617.4 166.3 620.8 167.4 623.4 168.5 626.8 169.6 630.9 170.6 635.4 171.7 639.3 172.8 642.8 173.8 646.6 174.9 650.3 176.0 654.0 177.0 657.4 178.1 660.5 179.2 663.8 180.2 667.3 181.3 670.1 182.4 672.8 183.5 675.5 184.5 679.0 185.6 682.2 186.7 685.3 187.7 688.3 188.8 690.8 189.9 694.2 190.9 697.0 192.0 699.2 193.1 701.3 194.2 703.6 195.2 706.0 196.3 707.5 197.4 708.8 198.4 710.3 199.5 711.0 200.6 711.7 201.6 711.9 202.7 712.2 203.8 712.1 204.8 710.8 205.9 709.7 207.0 708.0 208.1 706.5 209.1 704.5 210.2 702.6 211.3 701.0 212.3 699.1 213.4 697.5 214.5 695.9 215.5 694.3 216.6 692.8 217.7 691.3 218.8 689.5 219.8 687.7 220.9 686.3 222.0 685.3 223.0 683.7 224.1 682.1 225.2 680.4 226.2 679.0 227.3 677.8 228.4 676.6 229.4 675.3 230.5 674.6 231.6 674.2 232.7 673.7 233.7 673.9 234.8 674.0 235.9 674.8 236.9 675.4 238.0 676.3 239.1 677.5 240.1 678.0 241.2 679.2 242.3 680.3 243.4 681.7 244.4 683.1 245.5 684.6 246.6 686.0 247.6 687.2 248.7 688.8 249.8 690.4 250.8 692.4 251.9 694.5 253.0 696.8 254.0 699.3 255.1 701.4 256.2 703.7 257.3 705.9 258.3 708.4 259.4 710.5 260.5 713.0 261.5 715.6 262.6 718.1 263.7 720.8 264.7 722.9 265.8 725.7 266.9 728.3 268.0 730.8 269.0 733.0 270.1 735.2 271.2 737.7 272.2 739.4 273.3 741.2 274.4 742.6 275.4 745.3 276.5 747.5 277.6 749.5 278.6 752.0 279.7 754.0 280.8 756.5 281.9 758.8 282.9 761.7 284.0 764.7 285.1 767.2 286.1 769.5 287.2 771.7 288.3 773.7 289.3 775.8 290.4 777.7 291.5 779.6 292.6 781.6 293.6 783.2 294.7 784.6 295.8 785.9 296.8 787.5 297.9 788.8 299.0 790.2 300.0 791.8 301.1 793.5 302.2 795.5 303.3 796.8 304.3 798.4 305.4 799.9 306.5 801.5 307.5 803.2 308.6 804.5 309.7 805.9 310.7 807.1 311.8 808.5 312.9 809.7 313.9 811.0 315.0 812.8 316.1 814.5 317.2 816.3 318.2 818.0 319.3 819.8 320.4 821.4 321.4 823.0 322.5 825.0 323.6 826.9 324.6 828.6 325.7 830.4 326.8 832.0 327.9 833.3 328.9 834.8 330.0 836.2 331.1 837.7 332.1 839.1 333.2 840.6 334.3 842.3 335.3 843.6 336.4 844.9 337.5 846.2 338.5 847.7 339.6 849.0 340.7 850.1 341.8 851.3 342.8 852.7 343.9 853.7 345.0 854.9 346.0 856.1 347.1 857.6 348.2 859.0 349.2 860.2 350.3 861.6 351.4 862.9 352.5 864.2 353.5 865.6 354.6 867.0 355.7 868.7 356.7 870.2 357.8 871.6 358.9 873.1 359.9 874.4 361.0 875.4 362.1 876.4 363.1 877.3 364.2 878.1 365.3 878.9 366.4 879.8 367.4 880.9 368.5 881.9 369.6 882.9 370.6 883.9 371.7 885.0 372.8 886.1 373.8 887.0 374.9 888.0 376.0 889.2 377.1 890.4 378.1 891.7 379.2 892.8 380.3 894.0 381.3 895.2 382.4 896.1 383.5 897.0 384.5 897.8 385.6 898.8 386.7 899.6 387.7 900.1 388.8 901.0 389.9 901.7 391.0 902.5 392.0 903.2 393.1 904.1 394.2 905.1 395.2 905.7 396.3 906.4 397.4 907.0 398.4 907.7 399.5 908.2 400.6 908.5 401.7 909.2 402.7 909.9 403.8 910.7 404.9 911.3 405.9 911.9 407.0 912.8 408.1 913.4 409.1 913.9 410.2 914.4 411.3 914.8 412.3 915.6 413.4 916.2 414.5 916.7 415.6 917.2 416.6 917.8 417.7 918.3 418.8 918.5 419.8 918.8 420.9 919.1 422.0 919.5 423.0 919.9 424.1 920.4 425.2 920.9 426.3 921.6 427.3 922.2 428.4 922.8 429.5 923.5 430.5 924.1 431.6 924.6 432.7 925.1 433.7 925.7 434.8 926.0 435.9 926.3 437.0 926.6 438.0 926.9 439.1 927.1 440.2 927.1 441.2 927.4 442.3 927.5 443.4 927.5 444.4 927.6 445.5 927.8 446.6 927.9 447.6 928.1 448.7 928.4 449.8 928.6 450.9 928.9 451.9 929.2 453.0 929.5 454.1 929.7 455.1 929.9 456.2 930.2 457.3 930.5 458.3 930.7 459.4 930.9 460.5 931.2 461.6 931.4 462.6 931.7 463.7 932.0 464.8 932.2 465.8 932.5 466.9 932.7 468.0 932.8 469.0 933.0 470.1 933.2 471.2 933.4 472.2 933.6 473.3 933.8 474.4 934.1 475.5 934.2 476.5 934.4 477.6 934.6 478.7 934.8 479.7 934.9 480.8 935.0 481.9 935.3 482.9 935.5 484.0 935.6 485.1 935.6 486.2 935.8 487.2 936.0 488.3 935.9 489.4 936.1 490.4 936.1 491.5 936.3 492.6 936.4 493.6 936.5 494.7 936.7 495.8 936.9 496.8 937.0 497.9 937.2 499.0 937.2 500.1 937.3 501.1 937.4 502.2 937.3 503.3 937.3 504.3 937.3 505.4 937.3 506.5 937.4 507.5 937.5 508.6 937.6 509.7 937.7 510.8 937.8 511.8 938.0 512.9 938.1 514.0 938.2 515.0 938.3 516.1 938.5 517.2 938.7 518.2 938.7 519.3 938.9 520.4 939.0 521.4 939.0 522.5 938.9 523.6 939.0 524.7 939.0 525.7 939.0 526.8 939.0 527.9 939.1 528.9 939.4 530.0 939.3 531.1 939.4 532.1 939.4 533.2 939.5 534.3 939.6 535.4 939.6 536.4 939.6 537.5 939.8 538.6 939.8 539.6 939.8 540.7 939.6 541.8 939.5 542.8 939.5 543.9 939.5 545.0 939.4 546.0 939.5 547.1 939.6 548.2 939.6"/><path d="M78.6 934.3 79.7 933.5 80.8 932.5 81.8 931.3 82.9 930.0 84.0 928.5 85.1 926.8 86.1 925.0 87.2 922.7 88.3 920.4 89.3 917.6 90.4 914.6 91.5 911.3 92.5 907.7 93.6 903.8 94.7 899.4 95.7 894.9 96.8 889.9 97.9 884.8 99.0 879.1 100.0 873.1 101.1 867.0 102.2 860.5 103.2 853.7 104.3 846.7 105.4 839.7 106.4 832.2 107.5 824.5 108.6 816.9 109.7 808.8 110.7 800.6 111.8 792.4 112.9 784.1 113.9 776.0 115.0 767.7 116.1 759.6 117.1 751.8 118.2 744.0 119.3 736.8 120.3 729.1 121.4 722.1 122.5 715.3 123.6 708.8 124.6 702.2 125.7 694.9 126.8 688.2 127.8 680.9 128.9 674.2 130.0 667.1 131.0 660.8 132.1 655.2 133.2 649.6 134.3 644.9 135.3 640.1 136.4 635.9 137.5 632.7 138.5 629.8 139.6 628.0 140.7 626.0 141.7 624.4 142.8 623.1 143.9 621.7 144.9 621.2 146.0 620.8 147.1 620.7 148.2 621.0 149.2 621.3 150.3 621.5 151.4 621.2 152.4 621.3 153.5 622.1 154.6 622.7 155.6 623.4 156.7 625.0 157.8 626.5 158.9 627.9 159.9 629.6 161.0 631.3 162.1 633.4 163.1 635.2 164.2 637.4 165.3 640.2 166.3 642.7 167.4 645.9 168.5 649.5 169.6 653.4 170.6 657.8 171.7 662.2 172.8 666.1 173.8 669.2 174.9 672.0 176.0 675.2 177.0 677.9 178.1 680.1 179.2 682.8 180.2 685.1 181.3 687.5 182.4 689.6 183.5 691.7 184.5 694.6 185.6 696.9 186.7 700.0 187.7 702.3 188.8 704.4 189.9 707.2 190.9 709.2 192.0 711.6 193.1 714.7 194.2 718.7 195.2 722.5 196.3 724.2 197.4 726.1 198.4 727.2 199.5 728.0 200.6 729.1 201.6 728.7 202.7 728.1 203.8 727.0 204.8 725.3 205.9 722.4 207.0 719.3 208.1 717.4 209.1 715.9 210.2 714.5 211.3 713.0 212.3 711.2 213.4 709.7 214.5 707.8 215.5 706.1 216.6 704.8 217.7 703.4 218.8 702.0 219.8 700.0 220.9 698.1 222.0 696.6 223.0 694.5 224.1 692.8 225.2 690.9 226.2 689.4 227.3 689.0 228.4 688.6 229.4 687.8 230.5 687.8 231.6 687.6 232.7 687.9 233.7 687.7 234.8 687.9 235.9 688.2 236.9 688.5 238.0 688.8 239.1 688.5 240.1 688.2 241.2 688.7 242.3 690.0 243.4 691.0 244.4 692.1 245.5 693.4 246.6 695.2 247.6 696.5 248.7 698.2 249.8 699.9 250.8 701.8 251.9 703.8 253.0 705.5 254.0 707.5 255.1 709.1 256.2 711.5 257.3 713.7 258.3 715.6 259.4 718.4 260.5 721.3 261.5 724.4 262.6 726.7 263.7 728.7 264.7 731.4 265.8 733.2 266.9 735.4 268.0 738.2 269.0 741.1 270.1 744.0 271.2 746.8 272.2 750.3 273.3 753.1 274.4 755.7 275.4 757.7 276.5 760.0 277.6 762.5 278.6 764.8 279.7 767.1 280.8 769.2 281.9 771.5 282.9 774.2 284.0 776.3 285.1 778.4 286.1 780.7 287.2 782.7 288.3 784.7 289.3 786.7 290.4 788.7 291.5 790.5 292.6 792.1 293.6 793.7 294.7 795.0 295.8 796.2 296.8 797.7 297.9 798.8 299.0 800.0 300.0 801.3 301.1 803.1 302.2 804.3 303.3 805.4 304.3 806.9 305.4 808.2 306.5 809.4 307.5 810.7 308.6 812.1 309.7 813.4 310.7 814.7 311.8 816.2 312.9 817.8 313.9 819.3 315.0 820.6 316.1 822.2 317.2 824.0 318.2 825.6 319.3 827.3 320.4 829.2 321.4 831.1 322.5 833.1 323.6 835.0 324.6 837.0 325.7 838.7 326.8 840.3 327.9 842.0 328.9 843.4 330.0 844.7 331.1 846.3 332.1 847.8 333.2 848.8 334.3 850.2 335.3 851.2 336.4 852.3 337.5 853.3 338.5 854.5 339.6 855.8 340.7 856.9 341.8 858.1 342.8 859.4 343.9 860.5 345.0 861.4 346.0 862.7 347.1 863.9 348.2 865.2 349.2 866.5 350.3 867.9 351.4 869.1 352.5 870.1 353.5 871.6 354.6 872.8 355.7 874.1 356.7 875.3 357.8 876.8 358.9 878.3 359.9 879.2 361.0 880.4 362.1 881.5 363.1 882.6 364.2 883.7 365.3 884.5 366.4 885.6 367.4 886.6 368.5 887.6 369.6 888.6 370.6 889.4 371.7 890.4 372.8 891.4 373.8 892.3 374.9 893.1 376.0 894.0 377.1 895.1 378.1 895.8 379.2 896.7 380.3 897.6 381.3 898.3 382.4 899.1 383.5 899.8 384.5 900.7 385.6 901.6 386.7 902.3 387.7 903.0 388.8 903.9 389.9 904.5 391.0 905.2 392.0 905.9 393.1 906.5 394.2 907.3 395.2 907.9 396.3 908.7 397.4 909.3 398.4 910.0 399.5 910.7 400.6 911.4 401.7 912.2 402.7 912.7 403.8 913.2 404.9 913.8 405.9 914.1 407.0 914.6 408.1 915.2 409.1 915.6 410.2 916.0 411.3 916.5 412.3 917.2 413.4 917.7 414.5 918.1 415.6 918.6 416.6 919.2 417.7 919.6 418.8 919.9 419.8 920.4 420.9 920.9 422.0 921.4 423.0 921.6 424.1 921.9 425.2 922.3 426.3 922.6 427.3 923.0 428.4 923.4 429.5 923.9 430.5 924.4 431.6 924.9 432.7 925.3 433.7 925.7 434.8 925.9 435.9 926.2 437.0 926.4 438.0 926.7 439.1 926.9 440.2 927.2 441.2 927.5 442.3 927.9 443.4 928.4 444.4 928.6 445.5 928.8 446.6 929.1 447.6 929.4 448.7 929.6 449.8 929.6 450.9 929.8 451.9 930.2 453.0 930.5 454.1 930.7 455.1 931.0 456.2 931.4 457.3 931.6 458.3 931.7 459.4 931.9 460.5 932.1 461.6 932.3 462.6 932.3 463.7 932.5 464.8 932.7 465.8 932.8 466.9 933.0 468.0 933.2 469.0 933.5 470.1 933.6 471.2 933.8 472.2 934.0 473.3 934.2 474.4 934.4 475.5 934.6 476.5 934.8 477.6 935.1 478.7 935.3 479.7 935.5 480.8 935.6 481.9 935.8 482.9 936.0 484.0 936.0 485.1 936.2 486.2 936.2 487.2 936.3 488.3 936.3 489.4 936.3 490.4 936.5 491.5 936.5 492.6 936.7 493.6 936.7 494.7 937.0 495.8 937.1 496.8 937.2 497.9 937.3 499.0 937.4 500.1 937.4 501.1 937.5 502.2 937.6 503.3 937.7 504.3 937.8 505.4 937.8 506.5 938.0 507.5 938.0 508.6 938.1 509.7 938.2 510.8 938.4 511.8 938.5 512.9 938.6 514.0 938.8 515.0 938.8 516.1 938.8 517.2 938.8 518.2 938.8 519.3 938.8 520.4 938.8 521.4 939.0 522.5 939.1 523.6 939.2 524.7 939.2 525.7 939.2 526.8 939.3 527.9 939.1 528.9 939.1 530.0 939.1 531.1 939.1 532.1 939.2 533.2 939.1 534.3 939.3 535.4 939.4 536.4 939.6 537.5 939.6 538.6 939.8 539.6 939.8 540.7 939.8 541.8 939.9 542.8 939.8 543.9 939.9 545.0 939.9 546.0 940.0 547.1 940.0 548.2 940.0"/><path d="M78.6 934.8 79.7 934.0 80.8 933.0 81.8 932.0 82.9 931.0 84.0 929.6 85.1 928.2 86.1 926.6 87.2 924.8 88.3 922.5 89.3 920.1 90.4 917.5 91.5 914.7 92.5 911.5 93.6 908.1 94.7 904.6 95.7 900.6 96.8 896.4 97.9 891.9 99.0 887.0 100.0 881.9 101.1 876.4 102.2 871.0 103.2 865.1 104.3 859.0 105.4 852.8 106.4 846.4 107.5 839.5 108.6 832.4 109.7 825.3 110.7 817.8 111.8 810.4 112.9 802.8 113.9 795.8 115.0 788.2 116.1 780.4 117.1 772.5 118.2 764.3 119.3 756.8 120.3 749.4 121.4 742.3 122.5 735.1 123.6 728.5 124.6 722.1 125.7 716.3 126.8 711.0 127.8 705.8 128.9 700.9 130.0 695.8 131.0 690.4 132.1 684.3 133.2 678.3 134.3 672.7 135.3 667.2 136.4 662.1 137.5 657.8 138.5 653.3 139.6 649.8 140.7 646.8 141.7 645.0 142.8 643.4 143.9 642.0 144.9 641.7 146.0 641.4 147.1 641.3 148.2 641.3 149.2 642.1 150.3 643.6 151.4 643.7 152.4 644.1 153.5 644.9 154.6 646.0 155.6 646.8 156.7 646.6 157.8 649.0 158.9 650.5 159.9 651.7 161.0 652.9 162.1 654.0 163.1 656.2 164.2 656.9 165.3 659.1 166.3 662.0 167.4 664.5 168.5 667.3 169.6 670.5 170.6 674.1 171.7 677.1 172.8 680.0 173.8 682.4 174.9 684.9 176.0 687.1 177.0 689.9 178.1 692.6 179.2 695.1 180.2 697.9 181.3 700.4 182.4 702.6 183.5 704.7 184.5 706.5 185.6 708.5 186.7 710.7 187.7 713.0 188.8 715.4 189.9 717.0 190.9 719.1 192.0 721.2 193.1 724.1 194.2 727.6 195.2 731.5 196.3 734.7 197.4 736.2 198.4 737.2 199.5 737.5 200.6 737.9 201.6 737.9 202.7 737.2 203.8 736.5 204.8 735.0 205.9 732.8 207.0 729.3 208.1 726.9 209.1 725.0 210.2 723.2 211.3 721.4 212.3 719.4 213.4 717.9 214.5 715.7 215.5 714.0 216.6 712.3 217.7 711.2 218.8 709.7 219.8 708.2 220.9 706.7 222.0 704.9 223.0 703.4 224.1 701.8 225.2 700.6 226.2 699.4 227.3 698.6 228.4 698.0 229.4 697.8 230.5 697.1 231.6 696.7 232.7 696.7 233.7 696.8 234.8 697.7 235.9 698.3 236.9 698.6 238.0 698.9 239.1 699.1 240.1 699.0 241.2 699.2 242.3 700.0 243.4 701.1 244.4 702.5 245.5 703.7 246.6 705.4 247.6 707.1 248.7 708.8 249.8 710.1 250.8 711.4 251.9 713.2 253.0 715.0 254.0 717.0 255.1 718.9 256.2 721.3 257.3 723.5 258.3 725.4 259.4 727.5 260.5 729.7 261.5 731.9 262.6 733.6 263.7 735.6 264.7 737.8 265.8 740.2 266.9 742.6 268.0 744.6 269.0 746.9 270.1 749.3 271.2 751.8 272.2 754.2 273.3 756.3 274.4 758.7 275.4 760.8 276.5 763.0 277.6 765.8 278.6 767.9 279.7 770.0 280.8 772.2 281.9 774.9 282.9 777.8 284.0 780.7 285.1 783.6 286.1 786.0 287.2 788.6 288.3 790.5 289.3 792.7 290.4 794.8 291.5 796.6 292.6 798.3 293.6 799.6 294.7 801.0 295.8 802.1 296.8 802.8 297.9 803.9 299.0 805.1 300.0 806.6 301.1 808.0 302.2 809.5 303.3 810.8 304.3 811.9 305.4 813.3 306.5 814.4 307.5 815.8 308.6 816.8 309.7 818.3 310.7 819.7 311.8 821.4 312.9 822.9 313.9 824.4 315.0 826.3 316.1 827.8 317.2 829.6 318.2 831.3 319.3 833.0 320.4 834.8 321.4 836.6 322.5 838.5 323.6 840.5 324.6 842.0 325.7 843.7 326.8 845.1 327.9 846.5 328.9 847.7 330.0 849.1 331.1 850.6 332.1 851.8 333.2 853.3 334.3 854.4 335.3 855.7 336.4 857.0 337.5 858.2 338.5 859.6 339.6 860.9 340.7 862.1 341.8 863.4 342.8 864.4 343.9 865.4 345.0 866.3 346.0 867.5 347.1 868.7 348.2 870.1 349.2 871.3 350.3 872.6 351.4 873.7 352.5 875.0 353.5 876.2 354.6 877.4 355.7 878.8 356.7 880.0 357.8 881.4 358.9 882.5 359.9 883.7 361.0 884.7 362.1 885.7 363.1 886.9 364.2 888.0 365.3 889.2 366.4 890.2 367.4 891.2 368.5 892.1 369.6 893.1 370.6 893.8 371.7 894.7 372.8 895.6 373.8 896.3 374.9 897.2 376.0 897.9 377.1 898.8 378.1 899.7 379.2 900.5 380.3 901.3 381.3 902.2 382.4 903.0 383.5 903.8 384.5 904.6 385.6 905.5 386.7 906.1 387.7 906.8 388.8 907.7 389.9 908.2 391.0 908.7 392.0 909.2 393.1 909.9 394.2 910.5 395.2 911.0 396.3 911.6 397.4 912.3 398.4 913.1 399.5 913.6 400.6 914.1 401.7 914.8 402.7 915.4 403.8 916.0 404.9 916.4 405.9 917.0 407.0 917.4 408.1 917.8 409.1 918.3 410.2 918.9 411.3 919.3 412.3 919.7 413.4 920.1 414.5 920.6 415.6 921.0 416.6 921.3 417.7 921.6 418.8 922.1 419.8 922.6 420.9 923.0 422.0 923.4 423.0 923.9 424.1 924.3 425.2 924.7 426.3 925.2 427.3 925.6 428.4 926.0 429.5 926.3 430.5 926.6 431.6 926.9 432.7 927.2 433.7 927.3 434.8 927.6 435.9 927.9 437.0 928.2 438.0 928.5 439.1 928.8 440.2 929.2 441.2 929.6 442.3 929.8 443.4 930.0 444.4 930.2 445.5 930.4 446.6 930.6 447.6 930.7 448.7 931.0 449.8 931.3 450.9 931.6 451.9 931.8 453.0 932.0 454.1 932.2 455.1 932.5 456.2 932.7 457.3 932.7 458.3 932.9 459.4 933.1 460.5 933.4 461.6 933.7 462.6 933.9 463.7 934.0 464.8 934.2 465.8 934.5 466.9 934.6 468.0 934.6 469.0 934.7 470.1 934.9 471.2 935.0 472.2 935.0 473.3 935.3 474.4 935.4 475.5 935.5 476.5 935.7 477.6 935.7 478.7 935.9 479.7 935.9 480.8 936.2 481.9 936.4 482.9 936.6 484.0 936.7 485.1 936.9 486.2 937.0 487.2 937.0 488.3 937.0 489.4 937.1 490.4 937.3 491.5 937.3 492.6 937.4 493.6 937.5 494.7 937.7 495.8 937.7 496.8 937.7 497.9 937.9 499.0 938.1 500.1 938.1 501.1 938.3 502.2 938.3 503.3 938.4 504.3 938.5 505.4 938.5 506.5 938.6 507.5 938.5 508.6 938.5 509.7 938.5 510.8 938.6 511.8 938.8 512.9 938.9 514.0 938.9 515.0 938.9 516.1 939.1 517.2 939.1 518.2 939.0 519.3 939.1 520.4 939.3 521.4 939.4 522.5 939.4 523.6 939.4 524.7 939.4 525.7 939.4 526.8 939.5 527.9 939.4 528.9 939.5 530.0 939.5 531.1 939.5 532.1 939.6 533.2 939.6 534.3 939.7 535.4 939.7 536.4 939.8 537.5 940.0 538.6 940.0 539.6 939.9 540.7 940.0 541.8 940.0 542.8 939.9 543.9 939.8 545.0 939.7 546.0 939.8 547.1 939.8 548.2 939.8"/><path d="M78.6 936.4 79.7 935.9 80.8 935.1 81.8 934.3 82.9 933.3 84.0 932.4 85.1 931.4 86.1 930.0 87.2 928.6 88.3 927.1 89.3 925.6 90.4 923.7 91.5 921.6 92.5 919.3 93.6 916.7 94.7 913.7 95.7 910.5 96.8 906.9 97.9 903.0 99.0 898.9 100.0 894.7 101.1 890.1 102.2 885.4 103.2 880.7 104.3 876.0 105.4 871.1 106.4 866.0 107.5 861.4 108.6 856.7 109.7 852.3 110.7 847.9 111.8 843.7 112.9 840.2 113.9 835.9 115.0 831.8 116.1 827.3 117.1 823.1 118.2 818.8 119.3 813.9 120.3 809.8 121.4 805.6 122.5 801.3 123.6 797.1 124.6 793.2 125.7 789.1 126.8 785.1 127.8 780.5 128.9 776.8 130.0 773.1 131.0 769.8 132.1 767.1 133.2 764.4 134.3 762.0 135.3 759.4 136.4 756.7 137.5 754.1 138.5 751.6 139.6 749.1 140.7 747.2 141.7 745.7 142.8 744.9 143.9 744.6 144.9 743.9 146.0 744.1 147.1 744.2 148.2 744.9 149.2 745.1 150.3 745.6 151.4 746.5 152.4 747.2 153.5 747.9 154.6 748.4 155.6 749.3 156.7 750.0 157.8 750.8 158.9 751.9 159.9 753.0 161.0 753.8 162.1 754.6 163.1 755.6 164.2 756.8 165.3 758.5 166.3 760.1 167.4 762.0 168.5 763.9 169.6 765.6 170.6 767.6 171.7 769.1 172.8 770.6 173.8 772.0 174.9 773.5 176.0 775.1 177.0 776.5 178.1 778.2 179.2 780.1 180.2 781.8 181.3 783.5 182.4 785.0 183.5 786.5 184.5 787.9 185.6 789.1 186.7 790.4 187.7 791.5 188.8 792.8 189.9 793.8 190.9 794.8 192.0 795.9 193.1 796.6 194.2 797.6 195.2 798.5 196.3 798.9 197.4 799.2 198.4 799.1 199.5 799.1 200.6 798.8 201.6 798.5 202.7 798.2 203.8 797.1 204.8 796.4 205.9 795.1 207.0 793.6 208.1 791.4 209.1 789.7 210.2 788.7 211.3 787.2 212.3 785.8 213.4 784.4 214.5 783.1 215.5 781.4 216.6 779.7 217.7 778.4 218.8 777.3 219.8 775.8 220.9 774.9 222.0 774.0 223.0 773.1 224.1 772.0 225.2 770.6 226.2 769.6 227.3 768.3 228.4 767.5 229.4 766.7 230.5 765.8 231.6 765.3 232.7 764.9 233.7 764.6 234.8 764.4 235.9 764.4 236.9 764.4 238.0 764.8 239.1 765.1 240.1 765.6 241.2 766.2 242.3 767.0 243.4 767.8 244.4 768.5 245.5 769.4 246.6 770.4 247.6 771.4 248.7 772.4 249.8 773.6 250.8 775.2 251.9 776.5 253.0 778.0 254.0 779.5 255.1 780.7 256.2 782.4 257.3 783.9 258.3 785.4 259.4 786.8 260.5 788.5 261.5 790.3 262.6 791.7 263.7 793.2 264.7 794.9 265.8 796.7 266.9 798.2 268.0 799.9 269.0 801.5 270.1 802.9 271.2 803.9 272.2 805.3 273.3 806.8 274.4 808.1 275.4 810.0 276.5 811.6 277.6 813.3 278.6 814.5 279.7 816.6 280.8 818.5 281.9 820.2 282.9 822.3 284.0 824.4 285.1 826.0 286.1 827.3 287.2 828.8 288.3 830.1 289.3 831.3 290.4 832.5 291.5 834.2 292.6 835.4 293.6 836.8 294.7 838.1 295.8 839.4 296.8 840.5 297.9 841.7 299.0 843.0 300.0 843.9 301.1 844.9 302.2 845.8 303.3 846.8 304.3 847.7 305.4 848.6 306.5 849.7 307.5 850.9 308.6 851.9 309.7 853.3 310.7 854.6 311.8 855.6 312.9 856.8 313.9 858.0 315.0 859.3 316.1 860.2 317.2 861.5 318.2 862.9 319.3 864.3 320.4 865.4 321.4 866.6 322.5 867.7 323.6 868.9 324.6 870.2 325.7 871.2 326.8 872.4 327.9 873.7 328.9 874.8 330.0 875.8 331.1 876.8 332.1 877.9 333.2 878.9 334.3 879.6 335.3 880.7 336.4 881.8 337.5 882.9 338.5 883.9 339.6 884.7 340.7 885.9 341.8 886.8 342.8 887.8 343.9 888.5 345.0 889.5 346.0 890.6 347.1 891.5 348.2 892.5 349.2 893.3 350.3 894.3 351.4 895.2 352.5 895.9 353.5 896.9 354.6 897.8 355.7 898.6 356.7 899.3 357.8 900.1 358.9 900.9 359.9 901.7 361.0 902.5 362.1 903.3 363.1 904.2 364.2 905.2 365.3 906.2 366.4 906.9 367.4 907.6 368.5 908.4 369.6 909.1 370.6 909.8 371.7 910.4 372.8 911.0 373.8 911.6 374.9 912.1 376.0 912.6 377.1 913.0 378.1 913.4 379.2 913.8 380.3 914.2 381.3 914.8 382.4 915.5 383.5 916.2 384.5 916.8 385.6 917.5 386.7 918.1 387.7 918.6 388.8 919.1 389.9 919.6 391.0 920.0 392.0 920.4 393.1 921.0 394.2 921.5 395.2 921.7 396.3 922.0 397.4 922.5 398.4 922.8 399.5 923.0 400.6 923.2 401.7 923.5 402.7 923.8 403.8 924.1 404.9 924.4 405.9 924.7 407.0 925.1 408.1 925.5 409.1 925.8 410.2 926.2 411.3 926.5 412.3 926.9 413.4 927.1 414.5 927.4 415.6 927.7 416.6 927.9 417.7 928.2 418.8 928.3 419.8 928.7 420.9 929.1 422.0 929.4 423.0 929.7 424.1 930.0 425.2 930.4 426.3 930.5 427.3 930.5 428.4 930.6 429.5 930.6 430.5 930.7 431.6 930.8 432.7 931.0 433.7 931.2 434.8 931.3 435.9 931.4 437.0 931.7 438.0 931.9 439.1 932.2 440.2 932.5 441.2 932.9 442.3 933.3 443.4 933.6 444.4 934.0 445.5 934.2 446.6 934.4 447.6 934.5 448.7 934.7 449.8 934.8 450.9 935.0 451.9 935.1 453.0 935.2 454.1 935.4 455.1 935.5 456.2 935.8 457.3 935.9 458.3 936.0 459.4 936.1 460.5 936.3 461.6 936.3 462.6 936.3 463.7 936.4 464.8 936.7 465.8 936.7 466.9 936.7 468.0 936.9 469.0 936.9 470.1 936.9 471.2 936.9 472.2 937.1 473.3 937.3 474.4 937.3 475.5 937.5 476.5 937.6 477.6 937.8 478.7 937.7 479.7 937.8 480.8 937.9 481.9 938.0 482.9 938.0 484.0 938.1 485.1 938.2 486.2 938.3 487.2 938.3 488.3 938.3 489.4 938.4 490.4 938.5 491.5 938.5 492.6 938.5 493.6 938.6 494.7 938.7 495.8 938.8 496.8 938.8 497.9 938.9 499.0 939.0 500.1 939.1 501.1 939.0 502.2 939.1 503.3 939.2 504.3 939.3 505.4 939.3 506.5 939.4 507.5 939.5 508.6 939.4 509.7 939.4 510.8 939.4 511.8 939.6 512.9 939.7 514.0 939.8 515.0 939.9 516.1 940.0 517.2 939.9 518.2 939.8 519.3 939.8 520.4 939.7 521.4 939.7 522.5 939.7 523.6 939.8 524.7 939.9 525.7 939.9 526.8 940.0 527.9 939.9 528.9 939.9 530.0 939.9 531.1 939.8 532.1 939.8 533.2 939.9 534.3 940.0 535.4 940.1 536.4 940.2 537.5 940.3 538.6 940.3 539.6 940.3 540.7 940.4 541.8 940.3 542.8 940.3 543.9 940.4 545.0 940.4 546.0 940.5 547.1 940.4 548.2 940.5"/><path d="M78.6 937.1 79.7 936.7 80.8 936.1 81.8 935.6 82.9 934.9 84.0 934.1 85.1 933.3 86.1 932.2 87.2 931.1 88.3 929.9 89.3 928.5 90.4 926.9 91.5 925.1 92.5 923.3 93.6 921.1 94.7 918.7 95.7 916.3 96.8 913.7 97.9 910.9 99.0 908.0 100.0 905.2 101.1 902.0 102.2 898.6 103.2 895.0 104.3 891.7 105.4 887.8 106.4 883.9 107.5 879.9 108.6 876.0 109.7 872.2 110.7 867.9 111.8 864.0 112.9 859.9 113.9 856.0 115.0 852.0 116.1 848.1 117.1 844.5 118.2 840.7 119.3 836.9 120.3 833.3 121.4 829.9 122.5 826.3 123.6 822.6 124.6 819.1 125.7 815.9 126.8 812.3 127.8 809.1 128.9 806.1 130.0 803.9 131.0 801.3 132.1 798.8 133.2 796.7 134.3 794.6 135.3 792.6 136.4 790.2 137.5 788.1 138.5 786.1 139.6 784.2 140.7 782.9 141.7 782.0 142.8 781.2 143.9 780.7 144.9 781.1 146.0 781.3 147.1 781.2 148.2 780.9 149.2 781.0 150.3 781.3 151.4 781.1 152.4 781.3 153.5 781.5 154.6 781.7 155.6 782.3 156.7 783.1 157.8 783.8 158.9 784.3 159.9 785.2 161.0 786.2 162.1 787.0 163.1 787.7 164.2 788.9 165.3 790.2 166.3 791.3 167.4 792.6 168.5 793.6 169.6 794.8 170.6 796.2 171.7 797.5 172.8 799.1 173.8 800.4 174.9 801.6 176.0 803.1 177.0 804.4 178.1 805.9 179.2 806.9 180.2 808.5 181.3 810.1 182.4 811.5 183.5 812.8 184.5 814.0 185.6 815.3 186.7 816.5 187.7 817.4 188.8 818.2 189.9 819.3 190.9 819.9 192.0 820.6 193.1 820.9 194.2 821.6 195.2 822.1 196.3 822.5 197.4 822.8 198.4 822.8 199.5 822.6 200.6 822.6 201.6 822.3 202.7 821.4 203.8 820.9 204.8 820.3 205.9 819.6 207.0 818.8 208.1 817.6 209.1 816.7 210.2 815.5 211.3 814.3 212.3 813.2 213.4 811.6 214.5 810.4 215.5 808.6 216.6 807.1 217.7 805.7 218.8 804.1 219.8 802.9 220.9 801.7 222.0 800.5 223.0 799.2 224.1 798.1 225.2 797.4 226.2 795.9 227.3 795.1 228.4 794.7 229.4 794.3 230.5 793.6 231.6 792.9 232.7 792.9 233.7 792.6 234.8 792.4 235.9 792.3 236.9 792.4 238.0 793.0 239.1 793.3 240.1 794.0 241.2 794.7 242.3 795.2 243.4 796.1 244.4 796.8 245.5 797.7 246.6 798.6 247.6 799.5 248.7 800.4 249.8 801.3 250.8 802.4 251.9 803.2 253.0 804.8 254.0 806.1 255.1 807.9 256.2 809.3 257.3 810.6 258.3 812.1 259.4 813.1 260.5 814.5 261.5 815.4 262.6 816.8 263.7 818.4 264.7 820.2 265.8 821.7 266.9 823.2 268.0 825.0 269.0 826.5 270.1 828.0 271.2 829.5 272.2 830.9 273.3 832.5 274.4 834.1 275.4 835.6 276.5 837.1 277.6 838.4 278.6 840.1 279.7 841.4 280.8 842.7 281.9 844.3 282.9 845.6 284.0 847.1 285.1 848.4 286.1 849.6 287.2 850.8 288.3 851.6 289.3 853.0 290.4 854.2 291.5 855.4 292.6 856.5 293.6 857.6 294.7 859.2 295.8 860.0 296.8 861.1 297.9 862.2 299.0 863.3 300.0 864.4 301.1 865.3 302.2 866.4 303.3 867.3 304.3 868.2 305.4 869.3 306.5 870.2 307.5 871.2 308.6 872.4 309.7 873.1 310.7 874.0 311.8 874.8 312.9 875.8 313.9 876.6 315.0 877.4 316.1 878.5 317.2 879.4 318.2 880.5 319.3 881.3 320.4 882.4 321.4 883.2 322.5 883.9 323.6 884.8 324.6 885.7 325.7 886.6 326.8 887.3 327.9 888.3 328.9 889.2 330.0 890.1 331.1 890.9 332.1 891.6 333.2 892.7 334.3 893.5 335.3 894.3 336.4 895.3 337.5 896.0 338.5 896.8 339.6 897.4 340.7 898.3 341.8 899.0 342.8 899.6 343.9 900.3 345.0 901.0 346.0 901.7 347.1 902.3 348.2 902.9 349.2 903.7 350.3 904.5 351.4 905.3 352.5 906.0 353.5 906.6 354.6 907.3 355.7 907.9 356.7 908.4 357.8 909.1 358.9 909.8 359.9 910.6 361.0 911.2 362.1 911.8 363.1 912.5 364.2 913.0 365.3 913.6 366.4 914.1 367.4 914.9 368.5 915.4 369.6 915.9 370.6 916.4 371.7 916.9 372.8 917.5 373.8 917.7 374.9 918.2 376.0 918.6 377.1 919.2 378.1 919.7 379.2 920.0 380.3 920.6 381.3 921.0 382.4 921.4 383.5 921.7 384.5 922.2 385.6 922.6 386.7 922.9 387.7 923.3 388.8 923.7 389.9 924.0 391.0 924.3 392.0 924.7 393.1 925.1 394.2 925.5 395.2 925.9 396.3 926.3 397.4 926.6 398.4 926.9 399.5 927.2 400.6 927.5 401.7 927.8 402.7 928.0 403.8 928.2 404.9 928.6 405.9 928.9 407.0 929.1 408.1 929.5 409.1 929.8 410.2 929.9 411.3 930.2 412.3 930.4 413.4 930.8 414.5 930.9 415.6 931.0 416.6 931.3 417.7 931.5 418.8 931.9 419.8 932.1 420.9 932.2 422.0 932.5 423.0 932.8 424.1 932.9 425.2 933.0 426.3 933.1 427.3 933.3 428.4 933.6 429.5 933.7 430.5 934.0 431.6 934.1 432.7 934.3 433.7 934.5 434.8 934.6 435.9 934.8 437.0 934.8 438.0 935.0 439.1 935.2 440.2 935.3 441.2 935.4 442.3 935.5 443.4 935.6 444.4 935.7 445.5 935.8 446.6 935.9 447.6 936.0 448.7 936.2 449.8 936.3 450.9 936.4 451.9 936.6 453.0 936.7 454.1 936.8 455.1 937.0 456.2 937.3 457.3 937.3 458.3 937.3 459.4 937.4 460.5 937.4 461.6 937.4 462.6 937.4 463.7 937.4 464.8 937.6 465.8 937.6 466.9 937.8 468.0 937.8 469.0 937.8 470.1 938.0 471.2 938.0 472.2 938.2 473.3 938.2 474.4 938.3 475.5 938.4 476.5 938.4 477.6 938.5 478.7 938.4 479.7 938.5 480.8 938.5 481.9 938.7 482.9 938.8 484.0 938.9 485.1 939.1 486.2 939.2 487.2 939.2 488.3 939.0 489.4 939.0 490.4 938.9 491.5 939.0 492.6 939.0 493.6 939.1 494.7 939.2 495.8 939.3 496.8 939.4 497.9 939.4 499.0 939.5 500.1 939.5 501.1 939.5 502.2 939.4 503.3 939.4 504.3 939.3 505.4 939.4 506.5 939.4 507.5 939.4 508.6 939.6 509.7 939.6 510.8 939.7 511.8 939.7 512.9 939.7 514.0 939.8 515.0 939.9 516.1 939.9 517.2 939.9 518.2 940.0 519.3 940.0 520.4 940.0 521.4 940.0 522.5 939.9 523.6 940.1 524.7 940.1 525.7 940.1 526.8 940.3 527.9 940.3 528.9 940.3 530.0 940.3 531.1 940.4 532.1 940.4 533.2 940.3 534.3 940.4 535.4 940.4 536.4 940.3 537.5 940.3 538.6 940.3 539.6 940.2 540.7 940.0 541.8 940.2 542.8 940.2 543.9 940.1 545.0 940.2 546.0 940.3 547.1 940.4 548.2 940.4"/><path d="M78.6 938.2 79.7 937.7 80.8 937.1 81.8 936.7 82.9 936.1 84.0 935.6 85.1 934.9 86.1 934.2 87.2 933.4 88.3 932.5 89.3 931.4 90.4 930.2 91.5 928.9 92.5 927.5 93.6 925.9 94.7 924.3 95.7 922.4 96.8 920.2 97.9 918.1 99.0 915.9 100.0 913.3 101.1 910.8 102.2 908.2 103.2 905.8 104.3 903.0 105.4 900.1 106.4 897.3 107.5 894.3 108.6 891.2 109.7 888.0 110.7 884.9 111.8 881.9 112.9 878.9 113.9 876.0 115.0 873.0 116.1 870.1 117.1 867.0 118.2 863.9 119.3 861.1 120.3 858.2 121.4 855.4 122.5 852.5 123.6 850.0 124.6 847.5 125.7 844.9 126.8 842.4 127.8 840.1 128.9 838.1 130.0 835.9 131.0 833.9 132.1 831.7 133.2 830.0 134.3 828.1 135.3 826.4 136.4 824.6 137.5 823.0 138.5 821.8 139.6 820.7 140.7 819.5 141.7 818.6 142.8 818.2 143.9 818.0 144.9 817.8 146.0 817.5 147.1 817.8 148.2 818.0 149.2 818.0 150.3 818.1 151.4 818.3 152.4 818.6 153.5 818.9 154.6 819.1 155.6 819.7 156.7 820.1 157.8 820.7 158.9 821.3 159.9 822.1 161.0 822.8 162.1 823.8 163.1 824.6 164.2 825.0 165.3 825.9 166.3 826.4 167.4 827.5 168.5 827.9 169.6 828.7 170.6 829.9 171.7 831.1 172.8 832.3 173.8 833.2 174.9 834.4 176.0 836.0 177.0 836.8 178.1 837.8 179.2 838.9 180.2 839.7 181.3 840.8 182.4 841.3 183.5 842.3 184.5 843.1 185.6 843.7 186.7 844.5 187.7 845.3 188.8 846.2 189.9 847.0 190.9 847.4 192.0 848.0 193.1 848.3 194.2 848.5 195.2 848.5 196.3 848.5 197.4 848.7 198.4 848.6 199.5 848.7 200.6 848.7 201.6 848.5 202.7 848.1 203.8 847.5 204.8 846.8 205.9 846.2 207.0 845.2 208.1 844.0 209.1 843.1 210.2 842.1 211.3 840.8 212.3 839.5 213.4 838.3 214.5 837.0 215.5 836.0 216.6 834.6 217.7 833.7 218.8 832.5 219.8 831.3 220.9 830.2 222.0 828.8 223.0 827.8 224.1 826.6 225.2 825.3 226.2 824.2 227.3 823.3 228.4 822.5 229.4 822.1 230.5 821.8 231.6 821.6 232.7 821.6 233.7 821.5 234.8 821.9 235.9 821.7 236.9 821.9 238.0 822.2 239.1 822.4 240.1 823.0 241.2 823.3 242.3 824.4 243.4 825.0 244.4 825.8 245.5 826.6 246.6 827.1 247.6 827.8 248.7 828.2 249.8 828.8 250.8 829.5 251.9 830.5 253.0 831.5 254.0 832.6 255.1 833.7 256.2 834.9 257.3 836.1 258.3 837.3 259.4 838.4 260.5 839.6 261.5 840.9 262.6 842.2 263.7 843.3 264.7 844.4 265.8 845.9 266.9 847.1 268.0 848.4 269.0 849.7 270.1 851.0 271.2 852.4 272.2 853.5 273.3 854.7 274.4 856.0 275.4 857.2 276.5 858.6 277.6 860.0 278.6 861.3 279.7 862.4 280.8 863.5 281.9 864.7 282.9 865.7 284.0 866.7 285.1 867.8 286.1 868.9 287.2 870.1 288.3 871.0 289.3 872.0 290.4 872.9 291.5 873.8 292.6 874.9 293.6 875.8 294.7 876.7 295.8 877.4 296.8 878.4 297.9 879.2 299.0 880.0 300.0 880.9 301.1 881.9 302.2 882.9 303.3 883.8 304.3 884.6 305.4 885.4 306.5 886.1 307.5 886.8 308.6 887.5 309.7 887.8 310.7 888.6 311.8 889.3 312.9 890.0 313.9 890.7 315.0 891.5 316.1 892.4 317.2 893.2 318.2 894.0 319.3 894.7 320.4 895.3 321.4 896.0 322.5 896.7 323.6 897.3 324.6 898.2 325.7 898.8 326.8 899.6 327.9 900.3 328.9 900.8 330.0 901.6 331.1 902.0 332.1 902.7 333.2 903.3 334.3 904.0 335.3 904.7 336.4 905.2 337.5 905.9 338.5 906.6 339.6 907.2 340.7 907.8 341.8 908.2 342.8 908.9 343.9 909.6 345.0 910.2 346.0 910.8 347.1 911.4 348.2 912.2 349.2 912.7 350.3 913.2 351.4 913.8 352.5 914.2 353.5 914.7 354.6 915.2 355.7 915.5 356.7 916.0 357.8 916.4 358.9 916.9 359.9 917.3 361.0 918.0 362.1 918.5 363.1 918.8 364.2 919.2 365.3 919.6 366.4 920.1 367.4 920.5 368.5 920.9 369.6 921.4 370.6 921.8 371.7 922.1 372.8 922.5 373.8 922.9 374.9 923.3 376.0 923.7 377.1 924.1 378.1 924.5 379.2 925.0 380.3 925.2 381.3 925.5 382.4 925.8 383.5 926.2 384.5 926.5 385.6 926.7 386.7 927.2 387.7 927.6 388.8 927.9 389.9 928.1 391.0 928.3 392.0 928.6 393.1 928.7 394.2 928.9 395.2 929.1 396.3 929.4 397.4 929.8 398.4 929.9 399.5 930.3 400.6 930.5 401.7 930.7 402.7 930.8 403.8 931.1 404.9 931.4 405.9 931.6 407.0 931.7 408.1 931.8 409.1 932.1 410.2 932.2 411.3 932.3 412.3 932.5 413.4 932.8 414.5 933.0 415.6 933.2 416.6 933.6 417.7 933.8 418.8 934.1 419.8 934.2 420.9 934.5 422.0 934.7 423.0 934.7 424.1 934.9 425.2 935.1 426.3 935.2 427.3 935.4 428.4 935.4 429.5 935.5 430.5 935.4 431.6 935.5 432.7 935.7 433.7 935.7 434.8 935.8 435.9 935.9 437.0 936.0 438.0 936.2 439.1 936.3 440.2 936.4 441.2 936.5 442.3 936.6 443.4 936.7 444.4 936.7 445.5 936.8 446.6 936.9 447.6 937.1 448.7 937.2 449.8 937.1 450.9 937.2 451.9 937.4 453.0 937.4 454.1 937.5 455.1 937.5 456.2 937.7 457.3 937.7 458.3 937.8 459.4 937.9 460.5 937.9 461.6 938.0 462.6 938.1 463.7 938.1 464.8 938.1 465.8 938.2 466.9 938.3 468.0 938.4 469.0 938.4 470.1 938.6 471.2 938.7 472.2 938.7 473.3 938.7 474.4 938.7 475.5 938.8 476.5 938.8 477.6 938.9 478.7 938.8 479.7 938.9 480.8 939.0 481.9 939.1 482.9 938.9 484.0 939.0 485.1 939.0 486.2 939.2 487.2 939.1 488.3 939.2 489.4 939.4 490.4 939.4 491.5 939.5 492.6 939.5 493.6 939.5 494.7 939.6 495.8 939.7 496.8 939.7 497.9 939.7 499.0 939.8 500.1 939.8 501.1 939.7 502.2 939.8 503.3 939.8 504.3 939.9 505.4 939.9 506.5 939.9 507.5 939.9 508.6 939.9 509.7 940.0 510.8 939.9 511.8 940.0 512.9 940.0 514.0 940.0 515.0 940.0 516.1 940.0 517.2 940.0 518.2 940.0 519.3 940.1 520.4 940.1 521.4 940.0 522.5 940.0 523.6 940.1 524.7 940.1 525.7 940.2 526.8 940.1 527.9 940.1 528.9 940.2 530.0 940.2 531.1 940.1 532.1 940.2 533.2 940.3 534.3 940.4 535.4 940.4 536.4 940.4 537.5 940.5 538.6 940.3 539.6 940.4 540.7 940.4 541.8 940.3 542.8 940.3 543.9 940.3 545.0 940.4 546.0 940.3 547.1 940.3 548.2 940.3"/><path d="M78.6 938.9 79.7 938.7 80.8 938.3 81.8 937.9 82.9 937.5 84.0 937.0 85.1 936.4 86.1 935.7 87.2 935.1 88.3 934.4 89.3 933.5 90.4 932.6 91.5 931.5 92.5 930.4 93.6 929.1 94.7 927.7 95.7 926.3 96.8 924.8 97.9 923.2 99.0 921.4 100.0 919.6 101.1 917.7 102.2 915.6 103.2 913.4 104.3 911.1 105.4 908.8 106.4 906.5 107.5 904.1 108.6 901.7 109.7 899.1 110.7 896.7 111.8 894.2 112.9 891.8 113.9 889.3 115.0 886.8 116.1 884.4 117.1 881.8 118.2 879.6 119.3 877.0 120.3 874.7 121.4 872.6 122.5 870.7 123.6 868.5 124.6 866.1 125.7 864.4 126.8 862.4 127.8 860.3 128.9 858.3 130.0 856.8 131.0 855.3 132.1 853.6 133.2 852.2 134.3 851.0 135.3 849.6 136.4 848.5 137.5 847.5 138.5 846.4 139.6 845.5 140.7 844.6 141.7 844.1 142.8 843.3 143.9 843.0 144.9 843.2 146.0 843.2 147.1 843.6 148.2 843.9 149.2 844.0 150.3 844.0 151.4 844.0 152.4 844.3 153.5 844.2 154.6 844.2 155.6 844.8 156.7 845.5 157.8 845.9 158.9 846.4 159.9 846.9 161.0 847.7 162.1 848.1 163.1 848.8 164.2 849.5 165.3 850.3 166.3 851.2 167.4 851.8 168.5 852.8 169.6 853.6 170.6 854.5 171.7 855.4 172.8 856.1 173.8 857.1 174.9 857.8 176.0 858.7 177.0 859.7 178.1 860.3 179.2 861.3 180.2 862.1 181.3 862.9 182.4 863.8 183.5 864.4 184.5 865.3 185.6 865.9 186.7 866.6 187.7 867.3 188.8 867.7 189.9 868.3 190.9 868.9 192.0 869.3 193.1 870.0 194.2 870.2 195.2 870.4 196.3 870.5 197.4 870.5 198.4 870.5 199.5 870.1 200.6 870.1 201.6 869.9 202.7 869.6 203.8 869.0 204.8 868.6 205.9 868.1 207.0 867.2 208.1 866.2 209.1 865.1 210.2 864.4 211.3 863.3 212.3 862.1 213.4 861.3 214.5 860.4 215.5 859.6 216.6 858.6 217.7 857.7 218.8 856.6 219.8 855.6 220.9 854.6 222.0 853.5 223.0 852.5 224.1 851.4 225.2 850.8 226.2 850.2 227.3 849.3 228.4 848.9 229.4 848.5 230.5 848.3 231.6 848.0 232.7 847.7 233.7 847.8 234.8 847.9 235.9 848.0 236.9 848.2 238.0 848.2 239.1 848.7 240.1 849.1 241.2 849.3 242.3 849.9 243.4 850.3 244.4 851.0 245.5 851.5 246.6 852.2 247.6 852.9 248.7 853.4 249.8 854.2 250.8 855.1 251.9 855.8 253.0 856.5 254.0 857.5 255.1 858.3 256.2 859.1 257.3 860.2 258.3 861.4 259.4 862.8 260.5 863.9 261.5 865.2 262.6 866.4 263.7 867.3 264.7 868.4 265.8 869.3 266.9 870.5 268.0 871.3 269.0 872.5 270.1 873.6 271.2 874.5 272.2 875.5 273.3 876.6 274.4 877.6 275.4 878.4 276.5 879.5 277.6 880.6 278.6 881.6 279.7 882.6 280.8 883.6 281.9 884.5 282.9 885.4 284.0 886.3 285.1 887.3 286.1 888.1 287.2 888.9 288.3 889.7 289.3 890.5 290.4 891.2 291.5 891.8 292.6 892.5 293.6 893.4 294.7 894.3 295.8 895.0 296.8 895.8 297.9 896.5 299.0 897.3 300.0 897.7 301.1 898.1 302.2 898.9 303.3 899.4 304.3 900.1 305.4 900.7 306.5 901.3 307.5 902.0 308.6 902.4 309.7 902.8 310.7 903.2 311.8 903.6 312.9 904.2 313.9 904.8 315.0 905.2 316.1 906.0 317.2 906.6 318.2 907.2 319.3 907.6 320.4 907.9 321.4 908.5 322.5 909.0 323.6 909.5 324.6 910.0 325.7 910.6 326.8 911.3 327.9 911.8 328.9 912.3 330.0 912.8 331.1 913.4 332.1 913.8 333.2 914.2 334.3 914.6 335.3 915.2 336.4 915.6 337.5 915.9 338.5 916.3 339.6 916.8 340.7 917.2 341.8 917.5 342.8 917.9 343.9 918.4 345.0 918.8 346.0 919.1 347.1 919.5 348.2 919.8 349.2 920.3 350.3 920.6 351.4 921.0 352.5 921.3 353.5 921.7 354.6 922.2 355.7 922.6 356.7 922.8 357.8 923.1 358.9 923.5 359.9 923.8 361.0 924.1 362.1 924.4 363.1 924.8 364.2 925.2 365.3 925.5 366.4 925.7 367.4 926.0 368.5 926.4 369.6 926.6 370.6 926.9 371.7 927.2 372.8 927.4 373.8 927.6 374.9 927.8 376.0 928.0 377.1 928.3 378.1 928.6 379.2 929.0 380.3 929.2 381.3 929.6 382.4 929.8 383.5 930.0 384.5 930.2 385.6 930.4 386.7 930.6 387.7 930.9 388.8 931.1 389.9 931.3 391.0 931.4 392.0 931.5 393.1 931.7 394.2 931.9 395.2 932.1 396.3 932.3 397.4 932.5 398.4 932.7 399.5 932.8 400.6 933.0 401.7 933.1 402.7 933.3 403.8 933.4 404.9 933.7 405.9 934.0 407.0 934.1 408.1 934.2 409.1 934.3 410.2 934.5 411.3 934.6 412.3 934.6 413.4 934.9 414.5 935.1 415.6 935.2 416.6 935.3 417.7 935.6 418.8 935.8 419.8 935.8 420.9 935.9 422.0 936.0 423.0 936.1 424.1 936.0 425.2 936.1 426.3 936.2 427.3 936.2 428.4 936.3 429.5 936.3 430.5 936.4 431.6 936.5 432.7 936.5 433.7 936.7 434.8 936.9 435.9 937.0 437.0 937.2 438.0 937.3 439.1 937.4 440.2 937.4 441.2 937.3 442.3 937.4 443.4 937.4 444.4 937.5 445.5 937.5 446.6 937.6 447.6 937.8 448.7 937.9 449.8 938.0 450.9 938.2 451.9 938.3 453.0 938.3 454.1 938.3 455.1 938.4 456.2 938.5 457.3 938.4 458.3 938.5 459.4 938.6 460.5 938.6 461.6 938.6 462.6 938.7 463.7 938.8 464.8 938.8 465.8 939.0 466.9 938.9 468.0 939.0 469.0 939.1 470.1 939.0 471.2 939.1 472.2 939.2 473.3 939.4 474.4 939.4 475.5 939.5 476.5 939.6 477.6 939.7 478.7 939.6 479.7 939.6 480.8 939.7 481.9 939.7 482.9 939.7 484.0 939.7 485.1 939.7 486.2 939.8 487.2 939.8 488.3 939.8 489.4 939.8 490.4 939.8 491.5 939.8 492.6 939.8 493.6 939.9 494.7 939.8 495.8 939.9 496.8 939.8 497.9 939.9 499.0 939.9 500.1 940.0 501.1 940.1 502.2 940.3 503.3 940.3 504.3 940.4 505.4 940.2 506.5 940.2 507.5 940.1 508.6 940.0 509.7 940.0 510.8 940.0 511.8 940.0 512.9 940.0 514.0 940.1 515.0 940.2 516.1 940.2 517.2 940.4 518.2 940.4 519.3 940.4 520.4 940.5 521.4 940.4 522.5 940.4 523.6 940.3 524.7 940.3 525.7 940.2 526.8 940.3 527.9 940.4 528.9 940.2 530.0 940.3 531.1 940.4 532.1 940.4 533.2 940.5 534.3 940.4 535.4 940.5 536.4 940.6 537.5 940.6 538.6 940.5 539.6 940.5 540.7 940.5 541.8 940.5 542.8 940.5 543.9 940.5 545.0 940.6 546.0 940.6 547.1 940.6 548.2 940.6"/><path d="M78.6 939.0 79.7 938.7 80.8 938.5 81.8 938.2 82.9 937.9 84.0 937.5 85.1 937.0 86.1 936.6 87.2 936.2 88.3 935.7 89.3 934.9 90.4 934.1 91.5 933.3 92.5 932.4 93.6 931.5 94.7 930.5 95.7 929.5 96.8 928.4 97.9 927.1 99.0 925.9 100.0 924.3 101.1 922.7 102.2 921.0 103.2 919.4 104.3 917.7 105.4 915.9 106.4 914.2 107.5 912.5 108.6 910.6 109.7 908.5 110.7 906.7 111.8 904.7 112.9 902.6 113.9 900.5 115.0 898.8 116.1 896.9 117.1 895.0 118.2 893.3 119.3 891.7 120.3 889.9 121.4 888.5 122.5 886.9 123.6 885.4 124.6 883.9 125.7 882.4 126.8 880.9 127.8 879.2 128.9 877.8 130.0 876.5 131.0 875.2 132.1 874.0 133.2 872.8 134.3 871.8 135.3 870.8 136.4 869.8 137.5 869.1 138.5 868.4 139.6 867.7 140.7 866.9 141.7 866.6 142.8 866.6 143.9 866.2 144.9 866.0 146.0 866.1 147.1 865.9 148.2 865.9 149.2 865.6 150.3 865.9 151.4 866.0 152.4 866.2 153.5 866.5 154.6 866.7 155.6 867.1 156.7 867.3 157.8 867.5 158.9 868.0 159.9 868.4 161.0 868.7 162.1 869.0 163.1 869.5 164.2 870.0 165.3 870.4 166.3 871.0 167.4 871.8 168.5 872.4 169.6 872.9 170.6 873.6 171.7 874.3 172.8 875.0 173.8 875.7 174.9 876.4 176.0 877.3 177.0 878.0 178.1 878.6 179.2 879.3 180.2 880.2 181.3 881.0 182.4 881.5 183.5 882.2 184.5 882.8 185.6 883.3 186.7 883.5 187.7 884.0 188.8 884.7 189.9 885.3 190.9 885.7 192.0 885.9 193.1 886.1 194.2 886.2 195.2 886.3 196.3 886.2 197.4 886.3 198.4 886.4 199.5 886.4 200.6 886.3 201.6 886.1 202.7 886.0 203.8 885.8 204.8 885.4 205.9 885.1 207.0 884.5 208.1 884.1 209.1 883.4 210.2 882.7 211.3 882.1 212.3 881.5 213.4 881.0 214.5 880.3 215.5 879.6 216.6 878.9 217.7 878.1 218.8 877.3 219.8 876.5 220.9 875.7 222.0 875.2 223.0 874.4 224.1 873.9 225.2 873.4 226.2 872.8 227.3 872.3 228.4 871.7 229.4 871.6 230.5 871.2 231.6 870.9 232.7 871.0 233.7 870.9 234.8 871.1 235.9 871.1 236.9 871.4 238.0 871.7 239.1 871.9 240.1 872.2 241.2 872.4 242.3 872.8 243.4 873.2 244.4 873.7 245.5 874.2 246.6 874.5 247.6 875.1 248.7 875.8 249.8 876.0 250.8 876.4 251.9 876.8 253.0 877.6 254.0 878.0 255.1 878.5 256.2 879.5 257.3 880.3 258.3 881.1 259.4 881.7 260.5 882.5 261.5 883.3 262.6 883.9 263.7 884.4 264.7 885.0 265.8 885.8 266.9 886.6 268.0 887.4 269.0 888.1 270.1 889.0 271.2 889.8 272.2 890.4 273.3 891.2 274.4 891.8 275.4 892.6 276.5 893.5 277.6 894.3 278.6 895.0 279.7 895.7 280.8 896.4 281.9 897.1 282.9 897.8 284.0 898.4 285.1 899.0 286.1 899.6 287.2 900.2 288.3 900.7 289.3 901.1 290.4 901.6 291.5 902.0 292.6 902.6 293.6 903.0 294.7 903.6 295.8 904.1 296.8 904.7 297.9 905.3 299.0 905.9 300.0 906.6 301.1 907.1 302.2 907.6 303.3 907.9 304.3 908.3 305.4 908.7 306.5 909.2 307.5 909.5 308.6 910.0 309.7 910.5 310.7 911.0 311.8 911.5 312.9 911.8 313.9 912.1 315.0 912.5 316.1 912.9 317.2 913.3 318.2 913.6 319.3 913.9 320.4 914.4 321.4 914.9 322.5 915.3 323.6 915.7 324.6 916.3 325.7 916.7 326.8 917.1 327.9 917.4 328.9 917.8 330.0 918.1 331.1 918.2 332.1 918.6 333.2 918.9 334.3 919.3 335.3 919.6 336.4 920.0 337.5 920.4 338.5 920.8 339.6 921.2 340.7 921.5 341.8 921.9 342.8 922.1 343.9 922.5 345.0 922.8 346.0 923.1 347.1 923.4 348.2 923.7 349.2 924.1 350.3 924.6 351.4 924.8 352.5 925.1 353.5 925.4 354.6 925.7 355.7 925.8 356.7 926.1 357.8 926.3 358.9 926.7 359.9 927.0 361.0 927.4 362.1 927.7 363.1 927.9 364.2 928.2 365.3 928.5 366.4 928.8 367.4 928.9 368.5 929.1 369.6 929.3 370.6 929.5 371.7 929.7 372.8 930.0 373.8 930.2 374.9 930.4 376.0 930.7 377.1 930.9 378.1 931.1 379.2 931.2 380.3 931.4 381.3 931.7 382.4 931.9 383.5 932.1 384.5 932.3 385.6 932.4 386.7 932.7 387.7 932.8 388.8 932.9 389.9 933.0 391.0 933.3 392.0 933.5 393.1 933.7 394.2 933.8 395.2 933.9 396.3 934.2 397.4 934.2 398.4 934.4 399.5 934.6 400.6 934.8 401.7 935.0 402.7 935.1 403.8 935.3 404.9 935.3 405.9 935.4 407.0 935.6 408.1 935.8 409.1 935.9 410.2 935.9 411.3 936.0 412.3 935.9 413.4 935.9 414.5 936.0 415.6 936.1 416.6 936.2 417.7 936.3 418.8 936.6 419.8 936.7 420.9 936.8 422.0 936.9 423.0 937.1 424.1 937.2 425.2 937.3 426.3 937.4 427.3 937.5 428.4 937.4 429.5 937.4 430.5 937.6 431.6 937.5 432.7 937.6 433.7 937.5 434.8 937.6 435.9 937.7 437.0 937.7 438.0 937.8 439.1 937.9 440.2 938.0 441.2 938.1 442.3 938.1 443.4 938.2 444.4 938.2 445.5 938.1 446.6 938.2 447.6 938.3 448.7 938.4 449.8 938.5 450.9 938.6 451.9 938.6 453.0 938.7 454.1 938.6 455.1 938.7 456.2 938.8 457.3 938.8 458.3 939.0 459.4 939.0 460.5 939.2 461.6 939.2 462.6 939.2 463.7 939.1 464.8 939.2 465.8 939.3 466.9 939.2 468.0 939.2 469.0 939.4 470.1 939.4 471.2 939.5 472.2 939.5 473.3 939.5 474.4 939.7 475.5 939.7 476.5 939.7 477.6 939.7 478.7 939.7 479.7 939.9 480.8 939.9 481.9 940.0 482.9 940.0 484.0 940.1 485.1 940.1 486.2 940.0 487.2 940.0 488.3 940.0 489.4 940.0 490.4 940.0 491.5 940.1 492.6 940.1 493.6 940.3 494.7 940.2 495.8 940.2 496.8 940.0 497.9 940.0 499.0 939.9 500.1 939.8 501.1 939.9 502.2 939.9 503.3 940.1 504.3 940.1 505.4 940.2 506.5 940.3 507.5 940.2 508.6 940.2 509.7 940.2 510.8 940.2 511.8 940.1 512.9 940.1 514.0 940.2 515.0 940.3 516.1 940.3 517.2 940.3 518.2 940.5 519.3 940.4 520.4 940.4 521.4 940.3 522.5 940.3 523.6 940.3 524.7 940.2 525.7 940.3 526.8 940.4 527.9 940.5 528.9 940.5 530.0 940.5 531.1 940.5 532.1 940.4 533.2 940.4 534.3 940.4 535.4 940.4 536.4 940.5 537.5 940.4 538.6 940.4 539.6 940.5 540.7 940.4 541.8 940.6 542.8 940.6 543.9 940.7 545.0 940.7 546.0 940.7 547.1 940.7 548.2 940.7"/><path d="M78.6 939.6 79.7 939.4 80.8 939.3 81.8 939.1 82.9 938.7 84.0 938.4 85.1 938.1 86.1 937.8 87.2 937.2 88.3 936.8 89.3 936.3 90.4 935.8 91.5 935.2 92.5 934.5 93.6 933.8 94.7 933.0 95.7 932.2 96.8 931.3 97.9 930.3 99.0 929.3 100.0 928.3 101.1 927.1 102.2 925.9 103.2 924.7 104.3 923.4 105.4 922.2 106.4 920.9 107.5 919.6 108.6 918.3 109.7 917.1 110.7 915.8 111.8 914.5 112.9 913.3 113.9 912.1 115.0 911.0 116.1 909.9 117.1 908.9 118.2 907.8 119.3 906.7 120.3 905.8 121.4 904.8 122.5 903.8 123.6 902.9 124.6 902.2 125.7 901.3 126.8 900.4 127.8 899.8 128.9 899.0 130.0 898.2 131.0 897.6 132.1 897.1 133.2 896.7 134.3 896.0 135.3 895.5 136.4 894.9 137.5 894.4 138.5 894.0 139.6 893.6 140.7 893.4 141.7 893.1 142.8 893.2 143.9 893.1 144.9 893.0 146.0 893.0 147.1 892.9 148.2 893.1 149.2 893.2 150.3 893.3 151.4 893.3 152.4 893.4 153.5 893.6 154.6 893.7 155.6 893.9 156.7 894.0 157.8 894.3 158.9 894.4 159.9 894.7 161.0 895.0 162.1 895.2 163.1 895.6 164.2 896.2 165.3 896.6 166.3 897.0 167.4 897.3 168.5 897.8 169.6 898.2 170.6 898.4 171.7 899.0 172.8 899.4 173.8 899.7 174.9 900.1 176.0 900.4 177.0 900.8 178.1 901.1 179.2 901.6 180.2 902.0 181.3 902.3 182.4 902.7 183.5 903.1 184.5 903.3 185.6 903.7 186.7 904.1 187.7 904.5 188.8 904.8 189.9 905.0 190.9 905.2 192.0 905.4 193.1 905.5 194.2 905.6 195.2 905.8 196.3 905.9 197.4 906.0 198.4 905.8 199.5 905.6 200.6 905.5 201.6 905.1 202.7 904.9 203.8 904.7 204.8 904.7 205.9 904.4 207.0 904.2 208.1 903.9 209.1 903.5 210.2 903.1 211.3 902.6 212.3 902.3 213.4 901.8 214.5 901.5 215.5 901.2 216.6 900.8 217.7 900.2 218.8 899.8 219.8 899.4 220.9 898.9 222.0 898.4 223.0 898.1 224.1 897.9 225.2 897.8 226.2 897.4 227.3 897.3 228.4 897.0 229.4 896.5 230.5 896.3 231.6 896.0 232.7 896.0 233.7 896.1 234.8 896.2 235.9 896.5 236.9 896.5 238.0 896.6 239.1 896.8 240.1 896.7 241.2 896.8 242.3 897.0 243.4 897.3 244.4 897.4 245.5 897.5 246.6 897.7 247.6 898.1 248.7 898.2 249.8 898.4 250.8 898.7 251.9 899.1 253.0 899.6 254.0 899.8 255.1 900.4 256.2 900.8 257.3 901.3 258.3 901.6 259.4 901.9 260.5 902.3 261.5 902.6 262.6 903.1 263.7 903.3 264.7 903.8 265.8 904.3 266.9 904.8 268.0 905.3 269.0 905.7 270.1 906.2 271.2 906.8 272.2 907.3 273.3 907.6 274.4 908.0 275.4 908.3 276.5 908.8 277.6 909.1 278.6 909.4 279.7 909.9 280.8 910.4 281.9 910.9 282.9 911.4 284.0 911.7 285.1 912.2 286.1 912.7 287.2 913.0 288.3 913.4 289.3 913.7 290.4 914.2 291.5 914.5 292.6 914.7 293.6 915.1 294.7 915.3 295.8 915.5 296.8 915.7 297.9 916.0 299.0 916.4 300.0 916.6 301.1 917.0 302.2 917.1 303.3 917.4 304.3 917.7 305.4 917.9 306.5 918.2 307.5 918.4 308.6 918.8 309.7 919.2 310.7 919.4 311.8 919.7 312.9 920.0 313.9 920.4 315.0 920.7 316.1 920.9 317.2 921.0 318.2 921.2 319.3 921.5 320.4 921.6 321.4 921.8 322.5 922.2 323.6 922.5 324.6 922.8 325.7 923.0 326.8 923.4 327.9 923.5 328.9 923.7 330.0 924.0 331.1 924.3 332.1 924.5 333.2 924.8 334.3 925.1 335.3 925.3 336.4 925.6 337.5 925.9 338.5 926.1 339.6 926.2 340.7 926.4 341.8 926.6 342.8 926.8 343.9 927.1 345.0 927.4 346.0 927.7 347.1 927.9 348.2 928.1 349.2 928.4 350.3 928.5 351.4 928.8 352.5 929.0 353.5 929.3 354.6 929.6 355.7 929.8 356.7 930.0 357.8 930.1 358.9 930.2 359.9 930.4 361.0 930.5 362.1 930.6 363.1 930.9 364.2 930.9 365.3 931.2 366.4 931.3 367.4 931.6 368.5 931.7 369.6 931.9 370.6 932.2 371.7 932.4 372.8 932.6 373.8 932.7 374.9 932.9 376.0 933.0 377.1 933.1 378.1 933.3 379.2 933.5 380.3 933.6 381.3 933.7 382.4 933.8 383.5 933.9 384.5 934.0 385.6 934.1 386.7 934.3 387.7 934.5 388.8 934.6 389.9 934.9 391.0 934.9 392.0 935.0 393.1 935.1 394.2 935.2 395.2 935.3 396.3 935.3 397.4 935.4 398.4 935.5 399.5 935.7 400.6 935.8 401.7 935.9 402.7 936.0 403.8 936.1 404.9 936.3 405.9 936.3 407.0 936.4 408.1 936.5 409.1 936.6 410.2 936.6 411.3 936.7 412.3 936.8 413.4 936.8 414.5 937.0 415.6 937.1 416.6 937.2 417.7 937.3 418.8 937.2 419.8 937.3 420.9 937.3 422.0 937.5 423.0 937.7 424.1 937.7 425.2 937.8 426.3 937.9 427.3 938.0 428.4 938.1 429.5 938.2 430.5 938.3 431.6 938.3 432.7 938.4 433.7 938.4 434.8 938.3 435.9 938.3 437.0 938.3 438.0 938.3 439.1 938.3 440.2 938.4 441.2 938.6 442.3 938.7 443.4 938.7 444.4 938.8 445.5 938.8 446.6 938.9 447.6 938.9 448.7 938.9 449.8 938.9 450.9 938.9 451.9 939.0 453.0 939.0 454.1 939.0 455.1 939.1 456.2 939.1 457.3 939.2 458.3 939.3 459.4 939.4 460.5 939.4 461.6 939.5 462.6 939.5 463.7 939.5 464.8 939.5 465.8 939.5 466.9 939.5 468.0 939.4 469.0 939.5 470.1 939.7 471.2 939.8 472.2 939.7 473.3 939.8 474.4 939.9 475.5 939.9 476.5 939.8 477.6 939.8 478.7 939.9 479.7 940.0 480.8 939.8 481.9 939.9 482.9 940.0 484.0 939.9 485.1 939.8 486.2 939.9 487.2 939.9 488.3 939.8 489.4 939.9 490.4 939.8 491.5 940.0 492.6 939.9 493.6 940.1 494.7 940.3 495.8 940.2 496.8 940.3 497.9 940.2 499.0 940.2 500.1 940.2 501.1 940.2 502.2 940.3 503.3 940.3 504.3 940.3 505.4 940.3 506.5 940.3 507.5 940.4 508.6 940.4 509.7 940.4 510.8 940.5 511.8 940.4 512.9 940.5 514.0 940.5 515.0 940.4 516.1 940.4 517.2 940.3 518.2 940.4 519.3 940.3 520.4 940.3 521.4 940.2 522.5 940.2 523.6 940.2 524.7 940.2 525.7 940.3 526.8 940.4 527.9 940.4 528.9 940.5 530.0 940.5 531.1 940.6 532.1 940.6 533.2 940.5 534.3 940.5 535.4 940.6 536.4 940.6 537.5 940.6 538.6 940.6 539.6 940.6 540.7 940.6 541.8 940.5 542.8 940.5 543.9 940.4 545.0 940.3 546.0 940.3 547.1 940.4 548.2 940.5"/><path d="M78.6 939.9 79.7 939.8 80.8 939.7 81.8 939.7 82.9 939.5 84.0 939.3 85.1 939.2 86.1 939.0 87.2 938.8 88.3 938.5 89.3 938.2 90.4 937.9 91.5 937.6 92.5 937.2 93.6 936.9 94.7 936.6 95.7 936.1 96.8 935.6 97.9 935.1 99.0 934.3 100.0 933.8 101.1 933.0 102.2 932.4 103.2 931.8 104.3 931.1 105.4 930.6 106.4 929.9 107.5 929.0 108.6 928.3 109.7 927.5 110.7 926.8 111.8 926.0 112.9 925.2 113.9 924.7 115.0 924.0 116.1 923.4 117.1 922.7 118.2 922.1 119.3 921.5 120.3 921.0 121.4 920.5 122.5 920.0 123.6 919.5 124.6 919.0 125.7 918.6 126.8 918.1 127.8 917.4 128.9 917.0 130.0 916.7 131.0 916.3 132.1 916.1 133.2 915.7 134.3 915.6 135.3 915.4 136.4 915.0 137.5 914.8 138.5 914.6 139.6 914.3 140.7 914.0 141.7 913.8 142.8 913.7 143.9 913.6 144.9 913.6 146.0 913.6 147.1 913.8 148.2 914.0 149.2 914.2 150.3 914.3 151.4 914.4 152.4 914.6 153.5 914.6 154.6 914.6 155.6 914.7 156.7 914.8 157.8 914.8 158.9 915.0 159.9 915.2 161.0 915.4 162.1 915.4 163.1 915.6 164.2 915.8 165.3 915.9 166.3 916.1 167.4 916.2 168.5 916.4 169.6 916.5 170.6 916.6 171.7 916.9 172.8 917.0 173.8 917.2 174.9 917.5 176.0 917.8 177.0 918.1 178.1 918.2 179.2 918.4 180.2 918.6 181.3 918.8 182.4 919.0 183.5 919.4 184.5 919.7 185.6 920.0 186.7 920.3 187.7 920.3 188.8 920.5 189.9 920.5 190.9 920.6 192.0 920.5 193.1 920.6 194.2 920.7 195.2 920.7 196.3 920.7 197.4 920.8 198.4 920.9 199.5 921.0 200.6 920.9 201.6 920.9 202.7 920.8 203.8 920.7 204.8 920.5 205.9 920.3 207.0 920.2 208.1 920.0 209.1 919.8 210.2 919.8 211.3 919.6 212.3 919.5 213.4 919.2 214.5 919.1 215.5 918.7 216.6 918.4 217.7 918.1 218.8 917.8 219.8 917.6 220.9 917.2 222.0 917.0 223.0 916.7 224.1 916.5 225.2 916.3 226.2 916.2 227.3 916.0 228.4 916.0 229.4 915.8 230.5 915.8 231.6 915.7 232.7 915.6 233.7 915.6 234.8 915.7 235.9 915.8 236.9 915.8 238.0 915.8 239.1 915.9 240.1 916.1 241.2 916.0 242.3 916.0 243.4 916.3 244.4 916.5 245.5 916.7 246.6 916.9 247.6 917.1 248.7 917.2 249.8 917.4 250.8 917.4 251.9 917.7 253.0 917.7 254.0 917.8 255.1 918.0 256.2 918.1 257.3 918.3 258.3 918.5 259.4 918.7 260.5 918.9 261.5 919.3 262.6 919.5 263.7 919.7 264.7 919.9 265.8 920.2 266.9 920.5 268.0 920.8 269.0 921.0 270.1 921.5 271.2 921.8 272.2 922.1 273.3 922.4 274.4 922.6 275.4 922.7 276.5 922.8 277.6 923.1 278.6 923.3 279.7 923.6 280.8 923.9 281.9 924.1 282.9 924.5 284.0 924.6 285.1 924.8 286.1 925.0 287.2 925.2 288.3 925.5 289.3 925.7 290.4 925.9 291.5 926.0 292.6 926.1 293.6 926.3 294.7 926.4 295.8 926.5 296.8 926.6 297.9 926.9 299.0 927.2 300.0 927.3 301.1 927.5 302.2 927.8 303.3 927.9 304.3 927.9 305.4 928.0 306.5 928.0 307.5 928.1 308.6 928.2 309.7 928.4 310.7 928.5 311.8 928.7 312.9 928.8 313.9 929.0 315.0 929.0 316.1 929.2 317.2 929.4 318.2 929.6 319.3 929.8 320.4 930.1 321.4 930.3 322.5 930.5 323.6 930.6 324.6 930.9 325.7 931.1 326.8 931.2 327.9 931.4 328.9 931.4 330.0 931.6 331.1 931.6 332.1 931.7 333.2 931.9 334.3 932.0 335.3 932.2 336.4 932.2 337.5 932.3 338.5 932.4 339.6 932.5 340.7 932.6 341.8 932.8 342.8 933.0 343.9 933.1 345.0 933.2 346.0 933.3 347.1 933.3 348.2 933.5 349.2 933.5 350.3 933.6 351.4 933.7 352.5 933.8 353.5 934.0 354.6 934.0 355.7 934.1 356.7 934.4 357.8 934.5 358.9 934.7 359.9 934.8 361.0 935.1 362.1 935.2 363.1 935.4 364.2 935.4 365.3 935.6 366.4 935.7 367.4 935.8 368.5 935.9 369.6 935.9 370.6 936.1 371.7 936.0 372.8 936.1 373.8 936.1 374.9 936.2 376.0 936.3 377.1 936.3 378.1 936.4 379.2 936.5 380.3 936.5 381.3 936.6 382.4 936.6 383.5 936.8 384.5 936.9 385.6 937.0 386.7 937.2 387.7 937.3 388.8 937.5 389.9 937.6 391.0 937.6 392.0 937.6 393.1 937.7 394.2 937.7 395.2 937.8 396.3 938.0 397.4 937.9 398.4 937.9 399.5 938.0 400.6 938.0 401.7 937.9 402.7 937.9 403.8 938.1 404.9 938.2 405.9 938.3 407.0 938.3 408.1 938.3 409.1 938.3 410.2 938.4 411.3 938.4 412.3 938.3 413.4 938.4 414.5 938.5 415.6 938.5 416.6 938.5 417.7 938.6 418.8 938.7 419.8 938.7 420.9 938.8 422.0 938.8 423.0 938.9 424.1 939.1 425.2 939.1 426.3 939.2 427.3 939.3 428.4 939.4 429.5 939.4 430.5 939.4 431.6 939.4 432.7 939.3 433.7 939.3 434.8 939.2 435.9 939.4 437.0 939.4 438.0 939.4 439.1 939.5 440.2 939.5 441.2 939.6 442.3 939.5 443.4 939.5 444.4 939.5 445.5 939.6 446.6 939.6 447.6 939.5 448.7 939.4 449.8 939.5 450.9 939.5 451.9 939.5 453.0 939.5 454.1 939.6 455.1 939.7 456.2 939.8 457.3 939.8 458.3 939.9 459.4 940.0 460.5 940.0 461.6 940.1 462.6 940.1 463.7 940.0 464.8 939.9 465.8 940.0 466.9 940.1 468.0 940.0 469.0 940.0 470.1 940.1 471.2 940.2 472.2 940.1 473.3 940.1 474.4 940.1 475.5 940.2 476.5 940.2 477.6 940.2 478.7 940.1 479.7 940.1 480.8 940.2 481.9 940.1 482.9 940.2 484.0 940.3 485.1 940.3 486.2 940.3 487.2 940.3 488.3 940.2 489.4 940.2 490.4 940.2 491.5 940.3 492.6 940.2 493.6 940.3 494.7 940.3 495.8 940.5 496.8 940.4 497.9 940.4 499.0 940.5 500.1 940.5 501.1 940.5 502.2 940.4 503.3 940.4 504.3 940.4 505.4 940.4 506.5 940.3 507.5 940.4 508.6 940.4 509.7 940.4 510.8 940.4 511.8 940.4 512.9 940.4 514.0 940.4 515.0 940.3 516.1 940.2 517.2 940.4 518.2 940.4 519.3 940.5 520.4 940.4 521.4 940.5 522.5 940.4 523.6 940.3 524.7 940.3 525.7 940.3 526.8 940.5 527.9 940.5 528.9 940.6 530.0 940.6 531.1 940.7 532.1 940.6 533.2 940.6 534.3 940.6 535.4 940.6 536.4 940.7 537.5 940.7 538.6 940.6 539.6 940.6 540.7 940.7 541.8 940.7 542.8 940.7 543.9 940.6 545.0 940.7 546.0 940.6 547.1 940.7 548.2 940.6"/><path d="M78.6 940.3 79.7 940.2 80.8 940.0 81.8 939.9 82.9 939.7 84.0 939.6 85.1 939.4 86.1 939.3 87.2 939.1 88.3 938.9 89.3 938.7 90.4 938.5 91.5 938.2 92.5 937.9 93.6 937.6 94.7 937.3 95.7 936.8 96.8 936.4 97.9 936.0 99.0 935.5 100.0 935.0 101.1 934.4 102.2 933.9 103.2 933.3 104.3 932.7 105.4 932.3 106.4 931.7 107.5 931.3 108.6 930.7 109.7 930.2 110.7 929.8 111.8 929.1 112.9 928.5 113.9 927.9 115.0 927.2 116.1 926.6 117.1 926.0 118.2 925.6 119.3 925.2 120.3 924.7 121.4 924.2 122.5 923.9 123.6 923.4 124.6 923.1 125.7 922.7 126.8 922.3 127.8 922.0 128.9 921.7 130.0 921.3 131.0 921.0 132.1 920.7 133.2 920.5 134.3 920.3 135.3 920.0 136.4 919.9 137.5 919.7 138.5 919.7 139.6 919.5 140.7 919.5 141.7 919.4 142.8 919.2 143.9 919.1 144.9 919.1 146.0 919.3 147.1 919.2 148.2 919.2 149.2 919.3 150.3 919.3 151.4 919.3 152.4 919.2 153.5 919.3 154.6 919.5 155.6 919.5 156.7 919.5 157.8 919.6 158.9 919.5 159.9 919.8 161.0 919.8 162.1 920.0 163.1 920.0 164.2 920.2 165.3 920.5 166.3 920.5 167.4 920.8 168.5 920.9 169.6 921.3 170.6 921.4 171.7 921.5 172.8 921.7 173.8 921.8 174.9 922.1 176.0 922.4 177.0 922.5 178.1 922.7 179.2 923.0 180.2 923.2 181.3 923.2 182.4 923.4 183.5 923.5 184.5 923.7 185.6 923.8 186.7 923.8 187.7 924.0 188.8 924.1 189.9 924.3 190.9 924.4 192.0 924.4 193.1 924.6 194.2 924.7 195.2 924.6 196.3 924.7 197.4 924.9 198.4 925.0 199.5 924.9 200.6 924.8 201.6 924.7 202.7 924.7 203.8 924.5 204.8 924.4 205.9 924.4 207.0 924.3 208.1 924.2 209.1 924.0 210.2 923.7 211.3 923.6 212.3 923.4 213.4 923.2 214.5 923.1 215.5 922.9 216.6 922.8 217.7 922.4 218.8 922.2 219.8 922.0 220.9 921.8 222.0 921.5 223.0 921.3 224.1 921.0 225.2 920.8 226.2 920.8 227.3 920.6 228.4 920.6 229.4 920.6 230.5 920.6 231.6 920.5 232.7 920.5 233.7 920.5 234.8 920.6 235.9 920.5 236.9 920.6 238.0 920.6 239.1 920.6 240.1 920.6 241.2 920.6 242.3 920.7 243.4 920.7 244.4 920.9 245.5 920.9 246.6 921.2 247.6 921.2 248.7 921.4 249.8 921.5 250.8 921.7 251.9 922.0 253.0 922.0 254.0 922.2 255.1 922.4 256.2 922.7 257.3 922.8 258.3 923.0 259.4 923.3 260.5 923.4 261.5 923.6 262.6 923.7 263.7 923.9 264.7 924.0 265.8 924.1 266.9 924.5 268.0 924.7 269.0 924.9 270.1 925.2 271.2 925.3 272.2 925.6 273.3 925.7 274.4 925.8 275.4 926.0 276.5 926.2 277.6 926.4 278.6 926.7 279.7 926.8 280.8 927.0 281.9 927.3 282.9 927.4 284.0 927.6 285.1 927.6 286.1 927.8 287.2 928.1 288.3 928.2 289.3 928.4 290.4 928.6 291.5 928.8 292.6 928.9 293.6 929.0 294.7 929.2 295.8 929.3 296.8 929.2 297.9 929.5 299.0 929.7 300.0 929.8 301.1 929.9 302.2 930.1 303.3 930.4 304.3 930.5 305.4 930.6 306.5 930.7 307.5 930.7 308.6 930.9 309.7 930.9 310.7 930.9 311.8 931.0 312.9 931.2 313.9 931.4 315.0 931.3 316.1 931.4 317.2 931.6 318.2 931.7 319.3 931.9 320.4 931.9 321.4 932.3 322.5 932.5 323.6 932.5 324.6 932.6 325.7 932.7 326.8 932.9 327.9 932.9 328.9 933.0 330.0 933.2 331.1 933.4 332.1 933.5 333.2 933.7 334.3 933.7 335.3 933.8 336.4 933.9 337.5 934.0 338.5 934.0 339.6 934.1 340.7 934.1 341.8 934.2 342.8 934.3 343.9 934.5 345.0 934.7 346.0 934.9 347.1 935.1 348.2 935.2 349.2 935.2 350.3 935.2 351.4 935.2 352.5 935.2 353.5 935.3 354.6 935.3 355.7 935.4 356.7 935.6 357.8 935.7 358.9 935.8 359.9 935.9 361.0 935.9 362.1 936.1 363.1 936.2 364.2 936.4 365.3 936.4 366.4 936.5 367.4 936.6 368.5 936.6 369.6 936.5 370.6 936.5 371.7 936.6 372.8 936.8 373.8 936.9 374.9 937.0 376.0 937.2 377.1 937.3 378.1 937.3 379.2 937.4 380.3 937.6 381.3 937.6 382.4 937.7 383.5 937.8 384.5 937.8 385.6 937.7 386.7 937.7 387.7 937.7 388.8 937.8 389.9 937.8 391.0 937.9 392.0 938.0 393.1 938.2 394.2 938.3 395.2 938.3 396.3 938.3 397.4 938.3 398.4 938.3 399.5 938.2 400.6 938.3 401.7 938.5 402.7 938.6 403.8 938.7 404.9 938.8 405.9 938.9 407.0 939.1 408.1 939.0 409.1 939.0 410.2 939.1 411.3 939.0 412.3 939.0 413.4 938.9 414.5 939.0 415.6 939.1 416.6 939.1 417.7 939.2 418.8 939.3 419.8 939.2 420.9 939.2 422.0 939.3 423.0 939.4 424.1 939.4 425.2 939.4 426.3 939.5 427.3 939.6 428.4 939.7 429.5 939.7 430.5 939.7 431.6 939.8 432.7 939.7 433.7 939.6 434.8 939.6 435.9 939.5 437.0 939.4 438.0 939.5 439.1 939.5 440.2 939.5 441.2 939.5 442.3 939.5 443.4 939.6 444.4 939.5 445.5 939.6 446.6 939.7 447.6 939.7 448.7 939.7 449.8 939.8 450.9 939.9 451.9 939.9 453.0 939.9 454.1 939.9 455.1 939.9 456.2 939.9 457.3 939.9 458.3 939.8 459.4 939.9 460.5 940.0 461.6 940.0 462.6 940.0 463.7 940.0 464.8 940.1 465.8 940.2 466.9 940.2 468.0 940.3 469.0 940.3 470.1 940.4 471.2 940.4 472.2 940.3 473.3 940.3 474.4 940.3 475.5 940.3 476.5 940.2 477.6 940.2 478.7 940.2 479.7 940.2 480.8 940.2 481.9 940.2 482.9 940.2 484.0 940.3 485.1 940.3 486.2 940.4 487.2 940.5 488.3 940.5 489.4 940.6 490.4 940.6 491.5 940.6 492.6 940.6 493.6 940.5 494.7 940.5 495.8 940.4 496.8 940.4 497.9 940.4 499.0 940.4 500.1 940.4 501.1 940.5 502.2 940.5 503.3 940.6 504.3 940.6 505.4 940.5 506.5 940.6 507.5 940.6 508.6 940.6 509.7 940.5 510.8 940.5 511.8 940.5 512.9 940.4 514.0 940.4 515.0 940.4 516.1 940.4 517.2 940.6 518.2 940.7 519.3 940.7 520.4 940.7 521.4 940.7 522.5 940.7 523.6 940.7 524.7 940.7 525.7 940.6 526.8 940.5 527.9 940.4 528.9 940.5 530.0 940.5 531.1 940.6 532.1 940.6 533.2 940.6 534.3 940.7 535.4 940.7 536.4 940.6 537.5 940.6 538.6 940.6 539.6 940.6 540.7 940.6 541.8 940.6 542.8 940.6 543.9 940.6 545.0 940.5 546.0 940.6 547.1 940.5 548.2 940.5"/><path d="M78.6 940.1 79.7 940.1 80.8 940.1 81.8 940.0 82.9 940.0 84.0 940.0 85.1 939.8 86.1 939.5 87.2 939.3 88.3 939.2 89.3 939.0 90.4 938.8 91.5 938.4 92.5 938.2 93.6 937.9 94.7 937.6 95.7 937.2 96.8 936.8 97.9 936.7 99.0 936.3 100.0 935.8 101.1 935.3 102.2 934.8 103.2 934.4 104.3 933.8 105.4 933.3 106.4 932.8 107.5 932.4 108.6 931.9 109.7 931.4 110.7 930.8 111.8 930.2 112.9 929.7 113.9 929.2 115.0 928.8 116.1 928.2 117.1 927.8 118.2 927.4 119.3 927.0 120.3 926.6 121.4 926.2 122.5 925.8 123.6 925.4 124.6 925.0 125.7 924.8 126.8 924.5 127.8 924.1 128.9 923.9 130.0 923.6 131.0 923.4 132.1 923.0 133.2 922.7 134.3 922.5 135.3 922.3 136.4 922.2 137.5 921.8 138.5 921.7 139.6 921.7 140.7 921.6 141.7 921.4 142.8 921.4 143.9 921.5 144.9 921.6 146.0 921.6 147.1 921.7 148.2 921.8 149.2 921.8 150.3 921.9 151.4 921.9 152.4 921.9 153.5 921.8 154.6 922.0 155.6 922.1 156.7 922.0 157.8 922.2 158.9 922.4 159.9 922.5 161.0 922.5 162.1 922.6 163.1 922.7 164.2 922.7 165.3 922.8 166.3 923.0 167.4 923.3 168.5 923.4 169.6 923.7 170.6 923.9 171.7 924.1 172.8 924.3 173.8 924.4 174.9 924.5 176.0 924.6 177.0 924.7 178.1 924.9 179.2 924.9 180.2 924.9 181.3 925.0 182.4 925.2 183.5 925.4 184.5 925.6 185.6 925.8 186.7 926.1 187.7 926.2 188.8 926.2 189.9 926.2 190.9 926.1 192.0 926.2 193.1 926.3 194.2 926.4 195.2 926.5 196.3 926.7 197.4 926.7 198.4 926.9 199.5 926.8 200.6 926.7 201.6 926.6 202.7 926.5 203.8 926.5 204.8 926.4 205.9 926.2 207.0 926.2 208.1 926.0 209.1 925.8 210.2 925.6 211.3 925.4 212.3 925.3 213.4 925.0 214.5 925.0 215.5 924.8 216.6 924.6 217.7 924.5 218.8 924.3 219.8 924.2 220.9 923.9 222.0 923.7 223.0 923.4 224.1 923.3 225.2 923.1 226.2 922.9 227.3 922.8 228.4 922.6 229.4 922.5 230.5 922.4 231.6 922.5 232.7 922.5 233.7 922.5 234.8 922.7 235.9 922.8 236.9 922.9 238.0 923.0 239.1 922.9 240.1 922.9 241.2 922.9 242.3 922.7 243.4 922.8 244.4 922.7 245.5 922.9 246.6 923.0 247.6 923.3 248.7 923.5 249.8 923.6 250.8 923.8 251.9 924.0 253.0 924.2 254.0 924.3 255.1 924.5 256.2 924.8 257.3 924.9 258.3 925.0 259.4 925.2 260.5 925.4 261.5 925.6 262.6 925.5 263.7 925.8 264.7 926.1 265.8 926.3 266.9 926.4 268.0 926.6 269.0 926.9 270.1 927.0 271.2 927.2 272.2 927.4 273.3 927.6 274.4 927.8 275.4 928.0 276.5 928.0 277.6 928.2 278.6 928.1 279.7 928.3 280.8 928.4 281.9 928.6 282.9 928.6 284.0 928.7 285.1 929.0 286.1 929.2 287.2 929.3 288.3 929.5 289.3 929.8 290.4 930.0 291.5 930.1 292.6 930.2 293.6 930.2 294.7 930.3 295.8 930.4 296.8 930.7 297.9 930.8 299.0 931.0 300.0 931.1 301.1 931.2 302.2 931.3 303.3 931.3 304.3 931.4 305.4 931.5 306.5 931.6 307.5 931.8 308.6 932.1 309.7 932.1 310.7 932.3 311.8 932.5 312.9 932.6 313.9 932.7 315.0 932.7 316.1 932.7 317.2 932.9 318.2 932.9 319.3 933.0 320.4 933.0 321.4 933.2 322.5 933.4 323.6 933.4 324.6 933.4 325.7 933.5 326.8 933.6 327.9 933.7 328.9 933.7 330.0 934.0 331.1 934.1 332.1 934.2 333.2 934.4 334.3 934.5 335.3 934.5 336.4 934.5 337.5 934.7 338.5 934.8 339.6 935.0 340.7 935.1 341.8 935.2 342.8 935.2 343.9 935.2 345.0 935.4 346.0 935.4 347.1 935.6 348.2 935.6 349.2 935.7 350.3 935.7 351.4 935.8 352.5 935.9 353.5 935.9 354.6 936.2 355.7 936.3 356.7 936.5 357.8 936.6 358.9 936.7 359.9 936.9 361.0 936.8 362.1 936.9 363.1 936.9 364.2 937.0 365.3 936.9 366.4 936.9 367.4 937.1 368.5 937.0 369.6 937.0 370.6 937.1 371.7 937.1 372.8 937.2 373.8 937.3 374.9 937.4 376.0 937.6 377.1 937.7 378.1 937.8 379.2 937.8 380.3 937.9 381.3 938.0 382.4 937.9 383.5 938.0 384.5 938.1 385.6 938.1 386.7 938.0 387.7 938.1 388.8 938.0 389.9 938.0 391.0 938.1 392.0 938.1 393.1 938.2 394.2 938.3 395.2 938.4 396.3 938.6 397.4 938.7 398.4 938.7 399.5 938.7 400.6 938.7 401.7 938.8 402.7 938.7 403.8 938.7 404.9 938.8 405.9 939.0 407.0 939.0 408.1 939.0 409.1 939.0 410.2 939.0 411.3 939.0 412.3 939.1 413.4 939.1 414.5 939.1 415.6 939.2 416.6 939.2 417.7 939.1 418.8 939.1 419.8 939.1 420.9 939.2 422.0 939.2 423.0 939.2 424.1 939.2 425.2 939.3 426.3 939.4 427.3 939.4 428.4 939.4 429.5 939.4 430.5 939.6 431.6 939.8 432.7 939.8 433.7 939.9 434.8 939.9 435.9 940.0 437.0 939.8 438.0 939.8 439.1 939.9 440.2 939.8 441.2 939.9 442.3 939.9 443.4 940.1 444.4 939.9 445.5 939.9 446.6 940.0 447.6 940.1 448.7 940.1 449.8 940.0 450.9 940.2 451.9 940.1 453.0 940.2 454.1 940.1 455.1 940.0 456.2 940.0 457.3 940.0 458.3 940.2 459.4 940.2 460.5 940.3 461.6 940.3 462.6 940.3 463.7 940.3 464.8 940.2 465.8 940.1 466.9 940.0 468.0 940.1 469.0 940.1 470.1 940.1 471.2 940.2 472.2 940.3 473.3 940.4 474.4 940.4 475.5 940.3 476.5 940.4 477.6 940.3 478.7 940.1 479.7 940.1 480.8 940.2 481.9 940.3 482.9 940.3 484.0 940.5 485.1 940.7 486.2 940.6 487.2 940.6 488.3 940.6 489.4 940.6 490.4 940.4 491.5 940.3 492.6 940.4 493.6 940.4 494.7 940.4 495.8 940.3 496.8 940.4 497.9 940.5 499.0 940.4 500.1 940.3 501.1 940.2 502.2 940.2 503.3 940.3 504.3 940.3 505.4 940.2 506.5 940.3 507.5 940.3 508.6 940.3 509.7 940.2 510.8 940.1 511.8 940.2 512.9 940.3 514.0 940.3 515.0 940.3 516.1 940.4 517.2 940.6 518.2 940.6 519.3 940.6 520.4 940.7 521.4 940.6 522.5 940.6 523.6 940.6 524.7 940.6 525.7 940.6 526.8 940.5 527.9 940.6 528.9 940.6 530.0 940.6 531.1 940.6 532.1 940.7 533.2 940.7 534.3 940.7 535.4 940.7 536.4 940.7 537.5 940.7 538.6 940.7 539.6 940.7 540.7 940.7 541.8 940.6 542.8 940.5 543.9 940.6 545.0 940.5 546.0 940.6 547.1 940.6 548.2 940.6"/><path d="M78.6 940.3 79.7 940.3 80.8 940.2 81.8 940.1 82.9 939.9 84.0 939.9 85.1 939.8 86.1 939.5 87.2 939.5 88.3 939.3 89.3 939.2 90.4 939.0 91.5 938.7 92.5 938.7 93.6 938.4 94.7 938.2 95.7 937.9 96.8 937.7 97.9 937.4 99.0 937.0 100.0 936.7 101.1 936.3 102.2 936.0 103.2 935.5 104.3 935.2 105.4 934.6 106.4 934.1 107.5 933.6 108.6 933.1 109.7 932.6 110.7 932.0 111.8 931.7 112.9 931.2 113.9 930.8 115.0 930.3 116.1 930.0 117.1 929.7 118.2 929.2 119.3 928.9 120.3 928.6 121.4 928.3 122.5 928.1 123.6 927.8 124.6 927.6 125.7 927.1 126.8 926.8 127.8 926.6 128.9 926.3 130.0 926.0 131.0 925.9 132.1 925.8 133.2 925.6 134.3 925.4 135.3 925.2 136.4 925.1 137.5 924.8 138.5 924.7 139.6 924.6 140.7 924.5 141.7 924.4 142.8 924.3 143.9 924.3 144.9 924.3 146.0 924.3 147.1 924.3 148.2 924.4 149.2 924.4 150.3 924.5 151.4 924.5 152.4 924.6 153.5 924.7 154.6 924.7 155.6 924.8 156.7 924.9 157.8 925.0 158.9 925.0 159.9 925.1 161.0 925.0 162.1 925.0 163.1 925.0 164.2 925.1 165.3 925.2 166.3 925.5 167.4 925.9 168.5 926.0 169.6 926.1 170.6 926.3 171.7 926.4 172.8 926.5 173.8 926.4 174.9 926.6 176.0 926.8 177.0 926.9 178.1 927.0 179.2 927.0 180.2 927.3 181.3 927.4 182.4 927.6 183.5 927.7 184.5 927.8 185.6 928.0 186.7 928.1 187.7 928.2 188.8 928.2 189.9 928.3 190.9 928.6 192.0 928.7 193.1 928.7 194.2 928.7 195.2 928.7 196.3 928.8 197.4 928.7 198.4 928.7 199.5 928.8 200.6 928.8 201.6 928.9 202.7 928.8 203.8 928.6 204.8 928.6 205.9 928.3 207.0 928.2 208.1 928.0 209.1 928.0 210.2 927.9 211.3 927.8 212.3 927.7 213.4 927.7 214.5 927.6 215.5 927.4 216.6 927.4 217.7 927.2 218.8 927.1 219.8 926.9 220.9 926.6 222.0 926.6 223.0 926.3 224.1 926.2 225.2 926.0 226.2 925.8 227.3 925.8 228.4 925.6 229.4 925.4 230.5 925.2 231.6 925.1 232.7 925.1 233.7 925.0 234.8 925.1 235.9 925.2 236.9 925.3 238.0 925.4 239.1 925.5 240.1 925.6 241.2 925.7 242.3 925.6 243.4 925.7 244.4 925.8 245.5 925.7 246.6 925.9 247.6 925.8 248.7 926.1 249.8 926.2 250.8 926.4 251.9 926.6 253.0 926.7 254.0 926.9 255.1 926.9 256.2 926.9 257.3 927.0 258.3 927.1 259.4 927.2 260.5 927.4 261.5 927.7 262.6 927.9 263.7 928.1 264.7 928.4 265.8 928.6 266.9 928.7 268.0 928.8 269.0 929.0 270.1 929.2 271.2 929.2 272.2 929.5 273.3 929.6 274.4 929.7 275.4 929.9 276.5 929.9 277.6 930.1 278.6 930.0 279.7 930.2 280.8 930.4 281.9 930.5 282.9 930.6 284.0 930.9 285.1 931.1 286.1 931.3 287.2 931.5 288.3 931.7 289.3 931.9 290.4 931.9 291.5 931.9 292.6 931.9 293.6 932.0 294.7 932.0 295.8 932.1 296.8 932.2 297.9 932.4 299.0 932.6 300.0 932.7 301.1 932.7 302.2 932.9 303.3 933.0 304.3 933.1 305.4 933.1 306.5 933.3 307.5 933.4 308.6 933.5 309.7 933.5 310.7 933.4 311.8 933.5 312.9 933.5 313.9 933.5 315.0 933.6 316.1 933.7 317.2 933.8 318.2 934.0 319.3 934.1 320.4 934.3 321.4 934.3 322.5 934.5 323.6 934.6 324.6 934.6 325.7 934.6 326.8 934.7 327.9 934.9 328.9 934.9 330.0 934.9 331.1 935.0 332.1 935.3 333.2 935.3 334.3 935.4 335.3 935.4 336.4 935.4 337.5 935.6 338.5 935.7 339.6 935.8 340.7 935.9 341.8 936.0 342.8 936.1 343.9 936.1 345.0 936.1 346.0 936.1 347.1 936.3 348.2 936.4 349.2 936.6 350.3 936.7 351.4 936.7 352.5 936.7 353.5 936.8 354.6 936.8 355.7 936.9 356.7 936.9 357.8 937.0 358.9 937.2 359.9 937.2 361.0 937.4 362.1 937.4 363.1 937.5 364.2 937.5 365.3 937.6 366.4 937.6 367.4 937.6 368.5 937.7 369.6 937.8 370.6 937.9 371.7 938.0 372.8 938.1 373.8 938.2 374.9 938.2 376.0 938.2 377.1 938.3 378.1 938.2 379.2 938.2 380.3 938.1 381.3 938.2 382.4 938.3 383.5 938.3 384.5 938.4 385.6 938.4 386.7 938.5 387.7 938.4 388.8 938.5 389.9 938.5 391.0 938.6 392.0 938.6 393.1 938.7 394.2 938.9 395.2 938.9 396.3 939.0 397.4 939.1 398.4 939.1 399.5 939.2 400.6 939.1 401.7 939.2 402.7 939.0 403.8 939.0 404.9 939.0 405.9 939.0 407.0 939.1 408.1 939.1 409.1 939.2 410.2 939.2 411.3 939.2 412.3 939.1 413.4 939.2 414.5 939.3 415.6 939.4 416.6 939.5 417.7 939.6 418.8 939.7 419.8 939.7 420.9 939.7 422.0 939.6 423.0 939.7 424.1 939.8 425.2 939.8 426.3 939.8 427.3 939.8 428.4 939.9 429.5 939.9 430.5 939.8 431.6 939.8 432.7 939.7 433.7 939.8 434.8 939.8 435.9 939.8 437.0 939.8 438.0 939.9 439.1 939.9 440.2 940.0 441.2 940.0 442.3 940.0 443.4 940.0 444.4 940.1 445.5 940.2 446.6 940.1 447.6 940.1 448.7 940.1 449.8 940.1 450.9 940.1 451.9 940.0 453.0 940.1 454.1 940.2 455.1 940.2 456.2 940.2 457.3 940.2 458.3 940.3 459.4 940.3 460.5 940.2 461.6 940.3 462.6 940.3 463.7 940.4 464.8 940.4 465.8 940.3 466.9 940.4 468.0 940.5 469.0 940.4 470.1 940.4 471.2 940.4 472.2 940.4 473.3 940.4 474.4 940.5 475.5 940.4 476.5 940.5 477.6 940.5 478.7 940.5 479.7 940.5 480.8 940.4 481.9 940.5 482.9 940.5 484.0 940.4 485.1 940.3 486.2 940.3 487.2 940.3 488.3 940.3 489.4 940.3 490.4 940.4 491.5 940.5 492.6 940.4 493.6 940.4 494.7 940.3 495.8 940.5 496.8 940.5 497.9 940.5 499.0 940.6 500.1 940.7 501.1 940.7 502.2 940.6 503.3 940.5 504.3 940.5 505.4 940.5 506.5 940.4 507.5 940.5 508.6 940.6 509.7 940.5 510.8 940.5 511.8 940.5 512.9 940.6 514.0 940.6 515.0 940.6 516.1 940.7 517.2 940.7 518.2 940.7 519.3 940.7 520.4 940.6 521.4 940.5 522.5 940.5 523.6 940.5 524.7 940.6 525.7 940.5 526.8 940.6 527.9 940.6 528.9 940.6 530.0 940.5 531.1 940.6 532.1 940.7 533.2 940.7 534.3 940.7 535.4 940.7 536.4 940.7 537.5 940.7 538.6 940.7 539.6 940.7 540.7 940.7 541.8 940.7 542.8 940.6 543.9 940.6 545.0 940.6 546.0 940.6 547.1 940.6 548.2 940.6"/><path d="M78.6 940.4 79.7 940.5 80.8 940.3 81.8 940.2 82.9 940.1 84.0 940.0 85.1 939.9 86.1 939.8 87.2 939.7 88.3 939.5 89.3 939.3 90.4 939.1 91.5 938.9 92.5 938.6 93.6 938.4 94.7 938.2 95.7 938.0 96.8 937.8 97.9 937.6 99.0 937.3 100.0 937.0 101.1 936.6 102.2 936.2 103.2 935.8 104.3 935.3 105.4 934.9 106.4 934.6 107.5 934.1 108.6 933.8 109.7 933.4 110.7 933.1 111.8 932.7 112.9 932.3 113.9 932.0 115.0 931.7 116.1 931.4 117.1 930.9 118.2 930.6 119.3 930.3 120.3 930.0 121.4 929.7 122.5 929.5 123.6 929.3 124.6 929.1 125.7 928.8 126.8 928.5 127.8 928.3 128.9 928.1 130.0 927.7 131.0 927.5 132.1 927.3 133.2 927.1 134.3 927.0 135.3 926.9 136.4 926.8 137.5 926.8 138.5 926.7 139.6 926.7 140.7 926.5 141.7 926.4 142.8 926.2 143.9 926.2 144.9 926.2 146.0 926.1 147.1 926.1 148.2 926.2 149.2 926.4 150.3 926.3 151.4 926.4 152.4 926.5 153.5 926.6 154.6 926.6 155.6 926.6 156.7 926.6 157.8 926.6 158.9 926.7 159.9 926.7 161.0 926.9 162.1 926.9 163.1 927.0 164.2 927.2 165.3 927.3 166.3 927.7 167.4 927.7 168.5 927.9 169.6 928.0 170.6 928.1 171.7 928.1 172.8 928.1 173.8 928.2 174.9 928.4 176.0 928.5 177.0 928.5 178.1 928.6 179.2 928.7 180.2 928.7 181.3 928.7 182.4 928.7 183.5 928.8 184.5 929.0 185.6 929.1 186.7 929.4 187.7 929.6 188.8 929.7 189.9 929.9 190.9 930.0 192.0 929.9 193.1 929.8 194.2 929.7 195.2 929.9 196.3 929.8 197.4 929.8 198.4 929.9 199.5 930.0 200.6 929.9 201.6 929.8 202.7 929.9 203.8 929.8 204.8 929.8 205.9 929.8 207.0 929.8 208.1 929.6 209.1 929.5 210.2 929.3 211.3 929.2 212.3 929.0 213.4 928.7 214.5 928.7 215.5 928.7 216.6 928.5 217.7 928.3 218.8 928.2 219.8 928.1 220.9 927.8 222.0 927.5 223.0 927.5 224.1 927.3 225.2 927.4 226.2 927.3 227.3 927.3 228.4 927.3 229.4 927.2 230.5 927.2 231.6 927.0 232.7 927.0 233.7 927.0 234.8 927.0 235.9 927.0 236.9 927.0 238.0 927.1 239.1 927.2 240.1 927.4 241.2 927.3 242.3 927.4 243.4 927.4 244.4 927.5 245.5 927.3 246.6 927.4 247.6 927.5 248.7 927.7 249.8 927.7 250.8 927.9 251.9 928.2 253.0 928.4 254.0 928.4 255.1 928.5 256.2 928.6 257.3 928.8 258.3 928.9 259.4 929.0 260.5 929.1 261.5 929.2 262.6 929.4 263.7 929.5 264.7 929.6 265.8 929.7 266.9 929.8 268.0 929.9 269.0 930.0 270.1 930.2 271.2 930.2 272.2 930.3 273.3 930.4 274.4 930.6 275.4 930.8 276.5 930.8 277.6 931.1 278.6 931.3 279.7 931.5 280.8 931.6 281.9 931.8 282.9 931.9 284.0 932.0 285.1 932.1 286.1 932.2 287.2 932.4 288.3 932.5 289.3 932.6 290.4 932.6 291.5 932.7 292.6 932.7 293.6 932.9 294.7 932.9 295.8 932.9 296.8 933.1 297.9 933.2 299.0 933.3 300.0 933.3 301.1 933.5 302.2 933.6 303.3 933.7 304.3 933.8 305.4 933.8 306.5 933.9 307.5 933.9 308.6 934.0 309.7 934.0 310.7 934.0 311.8 934.1 312.9 934.2 313.9 934.3 315.0 934.5 316.1 934.6 317.2 934.7 318.2 934.9 319.3 935.0 320.4 935.0 321.4 934.9 322.5 935.0 323.6 934.9 324.6 935.0 325.7 935.1 326.8 935.4 327.9 935.5 328.9 935.6 330.0 935.7 331.1 935.7 332.1 935.8 333.2 935.8 334.3 935.9 335.3 936.0 336.4 936.1 337.5 936.2 338.5 936.4 339.6 936.4 340.7 936.5 341.8 936.6 342.8 936.7 343.9 936.8 345.0 936.7 346.0 936.9 347.1 937.0 348.2 937.0 349.2 937.1 350.3 937.2 351.4 937.3 352.5 937.2 353.5 937.3 354.6 937.3 355.7 937.2 356.7 937.2 357.8 937.3 358.9 937.4 359.9 937.4 361.0 937.7 362.1 937.8 363.1 937.8 364.2 937.8 365.3 937.8 366.4 938.1 367.4 938.0 368.5 938.1 369.6 938.1 370.6 938.1 371.7 938.1 372.8 938.1 373.8 938.1 374.9 938.2 376.0 938.2 377.1 938.3 378.1 938.4 379.2 938.4 380.3 938.6 381.3 938.6 382.4 938.8 383.5 938.7 384.5 938.7 385.6 938.8 386.7 938.9 387.7 938.9 388.8 938.9 389.9 939.0 391.0 939.0 392.0 939.0 393.1 939.0 394.2 939.1 395.2 939.0 396.3 939.0 397.4 939.1 398.4 939.2 399.5 939.2 400.6 939.1 401.7 939.2 402.7 939.3 403.8 939.3 404.9 939.3 405.9 939.3 407.0 939.5 408.1 939.4 409.1 939.4 410.2 939.5 411.3 939.5 412.3 939.5 413.4 939.4 414.5 939.4 415.6 939.4 416.6 939.5 417.7 939.4 418.8 939.4 419.8 939.5 420.9 939.5 422.0 939.6 423.0 939.7 424.1 939.9 425.2 939.9 426.3 940.0 427.3 940.0 428.4 940.0 429.5 939.8 430.5 939.8 431.6 939.9 432.7 940.0 433.7 940.0 434.8 940.0 435.9 940.1 437.0 940.1 438.0 940.1 439.1 940.0 440.2 940.0 441.2 940.1 442.3 940.1 443.4 940.1 444.4 940.0 445.5 940.0 446.6 940.0 447.6 939.9 448.7 939.9 449.8 940.0 450.9 940.2 451.9 940.2 453.0 940.3 454.1 940.3 455.1 940.3 456.2 940.3 457.3 940.1 458.3 940.1 459.4 940.0 460.5 939.9 461.6 939.9 462.6 940.0 463.7 940.0 464.8 940.1 465.8 940.2 466.9 940.4 468.0 940.4 469.0 940.5 470.1 940.4 471.2 940.4 472.2 940.4 473.3 940.3 474.4 940.3 475.5 940.2 476.5 940.4 477.6 940.4 478.7 940.4 479.7 940.4 480.8 940.5 481.9 940.5 482.9 940.5 484.0 940.5 485.1 940.5 486.2 940.5 487.2 940.5 488.3 940.5 489.4 940.5 490.4 940.4 491.5 940.5 492.6 940.5 493.6 940.5 494.7 940.5 495.8 940.5 496.8 940.5 497.9 940.4 499.0 940.4 500.1 940.4 501.1 940.4 502.2 940.4 503.3 940.4 504.3 940.4 505.4 940.4 506.5 940.4 507.5 940.5 508.6 940.6 509.7 940.6 510.8 940.6 511.8 940.6 512.9 940.6 514.0 940.6 515.0 940.5 516.1 940.5 517.2 940.5 518.2 940.6 519.3 940.6 520.4 940.6 521.4 940.7 522.5 940.7 523.6 940.7 524.7 940.6 525.7 940.5 526.8 940.4 527.9 940.4 528.9 940.4 530.0 940.4 531.1 940.6 532.1 940.7 533.2 940.7 534.3 940.7 535.4 940.7 536.4 940.7 537.5 940.7 538.6 940.7 539.6 940.7 540.7 940.7 541.8 940.7 542.8 940.6 543.9 940.5 545.0 940.6 546.0 940.6 547.1 940.7 548.2 940.6"/><path d="M78.6 940.6 79.7 940.6 80.8 940.5 81.8 940.4 82.9 940.3 84.0 940.1 85.1 939.9 86.1 939.8 87.2 939.7 88.3 939.5 89.3 939.3 90.4 939.2 91.5 939.1 92.5 938.9 93.6 938.6 94.7 938.5 95.7 938.5 96.8 938.3 97.9 938.0 99.0 937.8 100.0 937.5 101.1 937.1 102.2 936.7 103.2 936.3 104.3 935.9 105.4 935.7 106.4 935.5 107.5 935.1 108.6 934.8 109.7 934.6 110.7 934.2 111.8 933.8 112.9 933.3 113.9 933.1 115.0 932.8 116.1 932.3 117.1 932.0 118.2 931.6 119.3 931.2 120.3 930.9 121.4 930.6 122.5 930.4 123.6 930.1 124.6 929.8 125.7 929.7 126.8 929.5 127.8 929.3 128.9 929.1 130.0 929.1 131.0 928.9 132.1 928.8 133.2 928.6 134.3 928.5 135.3 928.3 136.4 928.0 137.5 927.8 138.5 927.6 139.6 927.5 140.7 927.3 141.7 927.4 142.8 927.4 143.9 927.3 144.9 927.3 146.0 927.4 147.1 927.5 148.2 927.3 149.2 927.4 150.3 927.6 151.4 927.6 152.4 927.6 153.5 927.8 154.6 928.0 155.6 928.0 156.7 928.1 157.8 928.1 158.9 928.2 159.9 928.2 161.0 928.3 162.1 928.4 163.1 928.4 164.2 928.6 165.3 928.6 166.3 928.6 167.4 928.5 168.5 928.5 169.6 928.7 170.6 928.8 171.7 929.0 172.8 929.2 173.8 929.4 174.9 929.5 176.0 929.6 177.0 929.7 178.1 929.8 179.2 929.9 180.2 930.0 181.3 930.1 182.4 930.1 183.5 930.2 184.5 930.3 185.6 930.4 186.7 930.5 187.7 930.7 188.8 930.8 189.9 930.9 190.9 931.0 192.0 931.0 193.1 930.9 194.2 931.0 195.2 931.0 196.3 931.1 197.4 931.0 198.4 931.1 199.5 931.0 200.6 931.1 201.6 931.0 202.7 930.8 203.8 930.8 204.8 930.6 205.9 930.6 207.0 930.4 208.1 930.3 209.1 930.3 210.2 930.1 211.3 930.1 212.3 929.9 213.4 929.8 214.5 929.8 215.5 929.7 216.6 929.5 217.7 929.5 218.8 929.4 219.8 929.3 220.9 929.1 222.0 929.1 223.0 929.2 224.1 929.1 225.2 929.1 226.2 929.1 227.3 929.0 228.4 928.7 229.4 928.6 230.5 928.7 231.6 928.6 232.7 928.5 233.7 928.5 234.8 928.4 235.9 928.4 236.9 928.3 238.0 928.3 239.1 928.4 240.1 928.6 241.2 928.6 242.3 928.6 243.4 928.7 244.4 928.8 245.5 928.9 246.6 928.8 247.6 928.9 248.7 929.1 249.8 929.2 250.8 929.4 251.9 929.5 253.0 929.5 254.0 929.7 255.1 929.9 256.2 929.9 257.3 930.1 258.3 930.1 259.4 930.2 260.5 930.3 261.5 930.3 262.6 930.4 263.7 930.4 264.7 930.6 265.8 930.7 266.9 930.9 268.0 931.2 269.0 931.3 270.1 931.3 271.2 931.5 272.2 931.7 273.3 931.8 274.4 931.8 275.4 931.9 276.5 932.0 277.6 932.2 278.6 932.1 279.7 932.4 280.8 932.6 281.9 932.7 282.9 932.8 284.0 932.8 285.1 932.9 286.1 933.0 287.2 933.0 288.3 933.1 289.3 933.2 290.4 933.4 291.5 933.5 292.6 933.6 293.6 933.6 294.7 933.7 295.8 933.7 296.8 933.8 297.9 933.9 299.0 933.9 300.0 934.1 301.1 934.2 302.2 934.3 303.3 934.4 304.3 934.4 305.4 934.4 306.5 934.4 307.5 934.5 308.6 934.5 309.7 934.6 310.7 934.7 311.8 934.9 312.9 935.0 313.9 935.0 315.0 935.0 316.1 935.1 317.2 935.2 318.2 935.2 319.3 935.3 320.4 935.5 321.4 935.6 322.5 935.8 323.6 935.8 324.6 935.9 325.7 936.1 326.8 936.1 327.9 936.2 328.9 936.2 330.0 936.3 331.1 936.2 332.1 936.3 333.2 936.4 334.3 936.4 335.3 936.5 336.4 936.7 337.5 936.8 338.5 936.7 339.6 936.8 340.7 936.9 341.8 936.9 342.8 937.0 343.9 937.1 345.0 937.1 346.0 937.2 347.1 937.2 348.2 937.1 349.2 937.1 350.3 937.1 351.4 937.2 352.5 937.2 353.5 937.3 354.6 937.5 355.7 937.7 356.7 937.8 357.8 937.9 358.9 937.9 359.9 937.9 361.0 937.9 362.1 937.9 363.1 938.0 364.2 937.9 365.3 938.0 366.4 938.1 367.4 938.1 368.5 938.1 369.6 938.2 370.6 938.3 371.7 938.2 372.8 938.3 373.8 938.5 374.9 938.5 376.0 938.4 377.1 938.4 378.1 938.6 379.2 938.5 380.3 938.6 381.3 938.7 382.4 938.8 383.5 938.9 384.5 938.9 385.6 938.9 386.7 939.1 387.7 939.1 388.8 939.0 389.9 939.0 391.0 939.1 392.0 939.2 393.1 939.1 394.2 939.1 395.2 939.3 396.3 939.3 397.4 939.3 398.4 939.2 399.5 939.3 400.6 939.3 401.7 939.3 402.7 939.2 403.8 939.3 404.9 939.3 405.9 939.4 407.0 939.3 408.1 939.3 409.1 939.4 410.2 939.5 411.3 939.5 412.3 939.6 413.4 939.6 414.5 939.6 415.6 939.6 416.6 939.5 417.7 939.6 418.8 939.6 419.8 939.7 420.9 939.8 422.0 939.9 423.0 939.9 424.1 939.9 425.2 939.9 426.3 940.0 427.3 940.0 428.4 940.0 429.5 940.0 430.5 940.0 431.6 940.0 432.7 940.0 433.7 939.9 434.8 940.0 435.9 940.1 437.0 940.0 438.0 940.0 439.1 940.2 440.2 940.2 441.2 940.1 442.3 940.0 443.4 940.0 444.4 940.2 445.5 940.2 446.6 940.1 447.6 940.2 448.7 940.2 449.8 940.2 450.9 940.2 451.9 940.1 453.0 940.3 454.1 940.3 455.1 940.4 456.2 940.4 457.3 940.4 458.3 940.4 459.4 940.4 460.5 940.3 461.6 940.2 462.6 940.2 463.7 940.3 464.8 940.3 465.8 940.2 466.9 940.3 468.0 940.3 469.0 940.3 470.1 940.3 471.2 940.4 472.2 940.4 473.3 940.4 474.4 940.4 475.5 940.4 476.5 940.4 477.6 940.4 478.7 940.4 479.7 940.4 480.8 940.5 481.9 940.4 482.9 940.4 484.0 940.5 485.1 940.5 486.2 940.5 487.2 940.5 488.3 940.7 489.4 940.7 490.4 940.7 491.5 940.6 492.6 940.6 493.6 940.6 494.7 940.5 495.8 940.5 496.8 940.5 497.9 940.4 499.0 940.6 500.1 940.5 501.1 940.5 502.2 940.5 503.3 940.6 504.3 940.7 505.4 940.6 506.5 940.7 507.5 940.7 508.6 940.7 509.7 940.7 510.8 940.5 511.8 940.6 512.9 940.6 514.0 940.7 515.0 940.7 516.1 940.6 517.2 940.7 518.2 940.7 519.3 940.7 520.4 940.6 521.4 940.7 522.5 940.7 523.6 940.7 524.7 940.7 525.7 940.7 526.8 940.7 527.9 940.7 528.9 940.7 530.0 940.7 531.1 940.7 532.1 940.6 533.2 940.5 534.3 940.5 535.4 940.5 536.4 940.5 537.5 940.5 538.6 940.6 539.6 940.6 540.7 940.7 541.8 940.5 542.8 940.5 543.9 940.6 545.0 940.7 546.0 940.7 547.1 940.6 548.2 940.7"/><path d="M78.6 940.4 79.7 940.3 80.8 940.3 81.8 940.3 82.9 940.2 84.0 940.1 85.1 940.0 86.1 940.0 87.2 939.9 88.3 939.7 89.3 939.6 90.4 939.5 91.5 939.3 92.5 939.2 93.6 939.1 94.7 938.9 95.7 938.7 96.8 938.5 97.9 938.4 99.0 938.1 100.0 937.8 101.1 937.4 102.2 937.1 103.2 936.7 104.3 936.3 105.4 936.0 106.4 935.6 107.5 935.4 108.6 935.1 109.7 934.8 110.7 934.4 111.8 934.1 112.9 933.9 113.9 933.6 115.0 933.2 116.1 932.9 117.1 932.6 118.2 932.4 119.3 932.0 120.3 931.8 121.4 931.6 122.5 931.4 123.6 931.3 124.6 931.0 125.7 930.9 126.8 930.7 127.8 930.4 128.9 930.1 130.0 929.9 131.0 929.8 132.1 929.7 133.2 929.4 134.3 929.5 135.3 929.4 136.4 929.3 137.5 929.3 138.5 929.1 139.6 929.1 140.7 928.9 141.7 928.9 142.8 928.9 143.9 928.8 144.9 928.8 146.0 928.9 147.1 929.1 148.2 929.0 149.2 929.1 150.3 929.1 151.4 929.2 152.4 929.1 153.5 928.9 154.6 928.9 155.6 928.8 156.7 928.9 157.8 928.9 158.9 928.9 159.9 929.1 161.0 929.2 162.1 929.4 163.1 929.4 164.2 929.4 165.3 929.7 166.3 929.8 167.4 929.9 168.5 929.9 169.6 930.0 170.6 930.0 171.7 930.0 172.8 930.1 173.8 930.2 174.9 930.2 176.0 930.4 177.0 930.5 178.1 930.6 179.2 930.7 180.2 930.9 181.3 931.2 182.4 931.2 183.5 931.3 184.5 931.4 185.6 931.4 186.7 931.4 187.7 931.4 188.8 931.6 189.9 931.6 190.9 931.7 192.0 931.7 193.1 931.8 194.2 931.8 195.2 931.8 196.3 931.8 197.4 931.9 198.4 931.8 199.5 931.7 200.6 931.7 201.6 931.8 202.7 931.8 203.8 931.8 204.8 931.9 205.9 932.0 207.0 931.9 208.1 931.7 209.1 931.6 210.2 931.4 211.3 931.2 212.3 931.1 213.4 931.1 214.5 930.9 215.5 930.9 216.6 930.8 217.7 930.7 218.8 930.6 219.8 930.4 220.9 930.2 222.0 930.1 223.0 929.9 224.1 929.9 225.2 929.7 226.2 929.6 227.3 929.5 228.4 929.6 229.4 929.6 230.5 929.5 231.6 929.4 232.7 929.5 233.7 929.5 234.8 929.3 235.9 929.3 236.9 929.3 238.0 929.4 239.1 929.5 240.1 929.6 241.2 929.6 242.3 929.7 243.4 929.8 244.4 929.8 245.5 929.8 246.6 929.9 247.6 930.2 248.7 930.2 249.8 930.3 250.8 930.4 251.9 930.4 253.0 930.5 254.0 930.5 255.1 930.7 256.2 930.8 257.3 930.9 258.3 931.1 259.4 931.1 260.5 931.2 261.5 931.2 262.6 931.3 263.7 931.5 264.7 931.6 265.8 931.7 266.9 931.9 268.0 932.1 269.0 932.1 270.1 932.2 271.2 932.3 272.2 932.5 273.3 932.5 274.4 932.7 275.4 932.9 276.5 933.0 277.6 933.1 278.6 933.2 279.7 933.3 280.8 933.4 281.9 933.4 282.9 933.4 284.0 933.6 285.1 933.7 286.1 933.8 287.2 933.9 288.3 933.9 289.3 934.0 290.4 934.0 291.5 934.0 292.6 934.2 293.6 934.2 294.7 934.4 295.8 934.5 296.8 934.6 297.9 934.6 299.0 934.6 300.0 934.7 301.1 934.8 302.2 934.8 303.3 934.8 304.3 935.0 305.4 935.0 306.5 935.0 307.5 935.2 308.6 935.2 309.7 935.3 310.7 935.4 311.8 935.6 312.9 935.7 313.9 935.6 315.0 935.6 316.1 935.7 317.2 935.8 318.2 935.8 319.3 935.8 320.4 935.9 321.4 935.9 322.5 935.9 323.6 935.9 324.6 936.0 325.7 936.2 326.8 936.3 327.9 936.4 328.9 936.4 330.0 936.6 331.1 936.7 332.1 936.7 333.2 936.6 334.3 936.8 335.3 936.8 336.4 936.8 337.5 936.8 338.5 936.9 339.6 937.0 340.7 937.0 341.8 937.1 342.8 937.1 343.9 937.2 345.0 937.3 346.0 937.4 347.1 937.5 348.2 937.5 349.2 937.6 350.3 937.6 351.4 937.7 352.5 937.8 353.5 937.9 354.6 938.0 355.7 938.0 356.7 938.1 357.8 938.1 358.9 938.0 359.9 938.0 361.0 938.0 362.1 938.2 363.1 938.2 364.2 938.3 365.3 938.4 366.4 938.5 367.4 938.6 368.5 938.6 369.6 938.6 370.6 938.6 371.7 938.7 372.8 938.6 373.8 938.5 374.9 938.6 376.0 938.6 377.1 938.6 378.1 938.6 379.2 938.8 380.3 938.9 381.3 939.0 382.4 939.0 383.5 939.1 384.5 939.1 385.6 939.1 386.7 939.1 387.7 939.0 388.8 939.1 389.9 939.2 391.0 939.3 392.0 939.3 393.1 939.3 394.2 939.4 395.2 939.4 396.3 939.5 397.4 939.4 398.4 939.4 399.5 939.5 400.6 939.5 401.7 939.5 402.7 939.5 403.8 939.5 404.9 939.5 405.9 939.6 407.0 939.5 408.1 939.5 409.1 939.6 410.2 939.6 411.3 939.6 412.3 939.6 413.4 939.6 414.5 939.6 415.6 939.7 416.6 939.7 417.7 939.8 418.8 939.9 419.8 940.0 420.9 940.1 422.0 940.1 423.0 940.1 424.1 940.2 425.2 940.0 426.3 940.0 427.3 940.1 428.4 940.1 429.5 940.1 430.5 940.0 431.6 940.1 432.7 940.1 433.7 940.2 434.8 940.1 435.9 940.0 437.0 940.1 438.0 940.1 439.1 940.0 440.2 939.9 441.2 939.9 442.3 940.0 443.4 940.1 444.4 940.0 445.5 940.1 446.6 940.3 447.6 940.3 448.7 940.3 449.8 940.3 450.9 940.4 451.9 940.4 453.0 940.2 454.1 940.3 455.1 940.3 456.2 940.3 457.3 940.4 458.3 940.4 459.4 940.5 460.5 940.5 461.6 940.4 462.6 940.4 463.7 940.3 464.8 940.3 465.8 940.3 466.9 940.2 468.0 940.3 469.0 940.3 470.1 940.3 471.2 940.3 472.2 940.3 473.3 940.4 474.4 940.4 475.5 940.3 476.5 940.5 477.6 940.5 478.7 940.5 479.7 940.4 480.8 940.4 481.9 940.4 482.9 940.3 484.0 940.3 485.1 940.2 486.2 940.3 487.2 940.3 488.3 940.5 489.4 940.6 490.4 940.7 491.5 940.7 492.6 940.7 493.6 940.7 494.7 940.6 495.8 940.5 496.8 940.5 497.9 940.5 499.0 940.5 500.1 940.6 501.1 940.7 502.2 940.7 503.3 940.7 504.3 940.7 505.4 940.7 506.5 940.7 507.5 940.6 508.6 940.6 509.7 940.7 510.8 940.6 511.8 940.6 512.9 940.6 514.0 940.7 515.0 940.7 516.1 940.7 517.2 940.7 518.2 940.7 519.3 940.5 520.4 940.6 521.4 940.6 522.5 940.7 523.6 940.7 524.7 940.6 525.7 940.7 526.8 940.7 527.9 940.6 528.9 940.6 530.0 940.6 531.1 940.6 532.1 940.6 533.2 940.6 534.3 940.7 535.4 940.7 536.4 940.7 537.5 940.7 538.6 940.7 539.6 940.7 540.7 940.7 541.8 940.7 542.8 940.7 543.9 940.7 545.0 940.7 546.0 940.7 547.1 940.6 548.2 940.7"/></g>
</svg>
</body></html>
